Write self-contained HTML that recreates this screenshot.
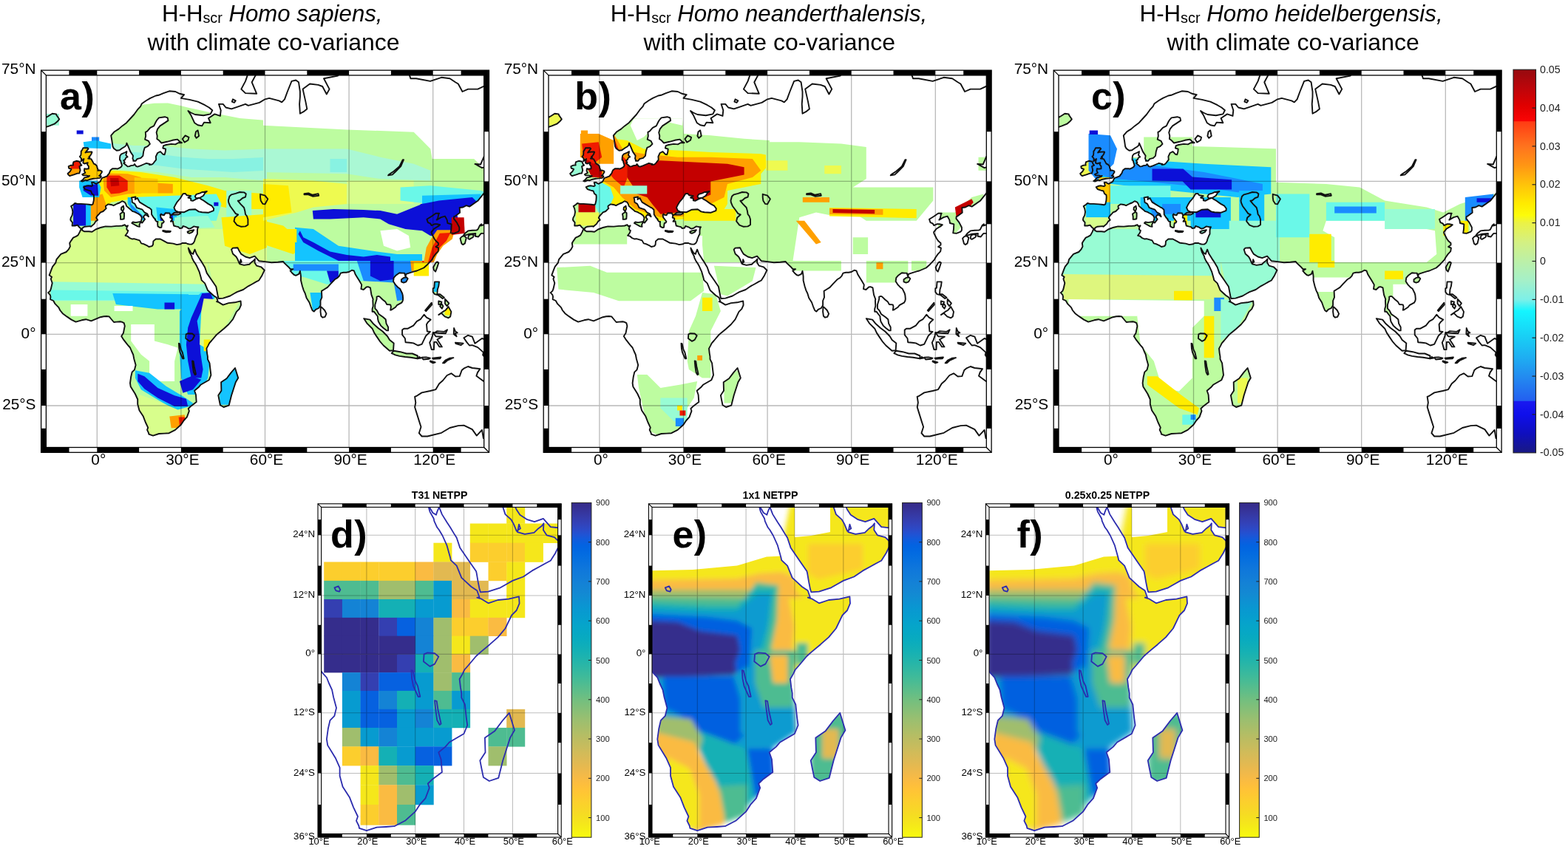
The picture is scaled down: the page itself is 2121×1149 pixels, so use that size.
<!DOCTYPE html><html><head><meta charset="utf-8"><title>Hominin habitat maps</title><style>html,body{margin:0;padding:0;background:#fff;width:2121px;height:1149px;overflow:hidden}</style></head><body><svg width="2121" height="1149" viewBox="0 0 2121 1149" style="display:block;font-family:'Liberation Sans',Arial,Helvetica,sans-serif"><defs><clipPath id="clipA"><rect x="62.4" y="101.9" width="592.3" height="503.6"/></clipPath><clipPath id="clipD"><rect x="434.6" y="686.4" width="320.1" height="442.1"/></clipPath><linearGradient id="gjet" x1="0" y1="0" x2="0" y2="1"><stop offset="0.0000" stop-color="#960a0f"/><stop offset="0.0500" stop-color="#be050a"/><stop offset="0.0950" stop-color="#e10000"/><stop offset="0.1340" stop-color="#fa0505"/><stop offset="0.1360" stop-color="#ff3c14"/><stop offset="0.2000" stop-color="#ff731e"/><stop offset="0.2500" stop-color="#ff9614"/><stop offset="0.3000" stop-color="#ffc30a"/><stop offset="0.3500" stop-color="#ffeb00"/><stop offset="0.3800" stop-color="#fcfc0a"/><stop offset="0.4000" stop-color="#ebf246"/><stop offset="0.4500" stop-color="#d4f082"/><stop offset="0.5000" stop-color="#bcf0a8"/><stop offset="0.5500" stop-color="#a5f0c8"/><stop offset="0.6000" stop-color="#7df0e8"/><stop offset="0.6300" stop-color="#14f5ff"/><stop offset="0.7000" stop-color="#19cdf5"/><stop offset="0.7500" stop-color="#1eaff2"/><stop offset="0.8000" stop-color="#238cf0"/><stop offset="0.8640" stop-color="#235ff0"/><stop offset="0.8660" stop-color="#1919f0"/><stop offset="0.9000" stop-color="#0f0feb"/><stop offset="0.9500" stop-color="#0f0fbe"/><stop offset="1.0000" stop-color="#191982"/></linearGradient><linearGradient id="gpar" x1="0" y1="0" x2="0" y2="1"><stop offset="0.0000" stop-color="#352a87"/><stop offset="0.0159" stop-color="#363093"/><stop offset="0.0317" stop-color="#3637a0"/><stop offset="0.0476" stop-color="#353dad"/><stop offset="0.0635" stop-color="#3243ba"/><stop offset="0.0794" stop-color="#2c4ac7"/><stop offset="0.0952" stop-color="#2053d4"/><stop offset="0.1111" stop-color="#0f5cdd"/><stop offset="0.1270" stop-color="#0363e1"/><stop offset="0.1429" stop-color="#0268e1"/><stop offset="0.1587" stop-color="#046de0"/><stop offset="0.1746" stop-color="#0871de"/><stop offset="0.1905" stop-color="#0d75dc"/><stop offset="0.2063" stop-color="#1079da"/><stop offset="0.2222" stop-color="#127dd8"/><stop offset="0.2381" stop-color="#1481d6"/><stop offset="0.2540" stop-color="#1485d4"/><stop offset="0.2698" stop-color="#1389d3"/><stop offset="0.2857" stop-color="#108ed2"/><stop offset="0.3016" stop-color="#0c93d2"/><stop offset="0.3175" stop-color="#0998d1"/><stop offset="0.3333" stop-color="#079ccf"/><stop offset="0.3492" stop-color="#06a0cd"/><stop offset="0.3651" stop-color="#06a4ca"/><stop offset="0.3810" stop-color="#06a7c6"/><stop offset="0.3968" stop-color="#07a9c2"/><stop offset="0.4127" stop-color="#0aacbe"/><stop offset="0.4286" stop-color="#0faeb9"/><stop offset="0.4444" stop-color="#15b1b4"/><stop offset="0.4603" stop-color="#1db3af"/><stop offset="0.4762" stop-color="#25b5a9"/><stop offset="0.4921" stop-color="#2eb7a4"/><stop offset="0.5079" stop-color="#38b99e"/><stop offset="0.5238" stop-color="#42bb98"/><stop offset="0.5397" stop-color="#4dbc92"/><stop offset="0.5556" stop-color="#59bd8c"/><stop offset="0.5714" stop-color="#65be86"/><stop offset="0.5873" stop-color="#71bf80"/><stop offset="0.6032" stop-color="#7cbf7b"/><stop offset="0.6190" stop-color="#87bf77"/><stop offset="0.6349" stop-color="#92bf73"/><stop offset="0.6508" stop-color="#9cbf6f"/><stop offset="0.6667" stop-color="#a5be6b"/><stop offset="0.6825" stop-color="#aebe67"/><stop offset="0.6984" stop-color="#b7bd64"/><stop offset="0.7143" stop-color="#c0bc60"/><stop offset="0.7302" stop-color="#c8bc5d"/><stop offset="0.7460" stop-color="#d1bb59"/><stop offset="0.7619" stop-color="#d9ba56"/><stop offset="0.7778" stop-color="#e1b952"/><stop offset="0.7937" stop-color="#e9b94e"/><stop offset="0.8095" stop-color="#f1b94a"/><stop offset="0.8254" stop-color="#f8bb44"/><stop offset="0.8413" stop-color="#fdbe3d"/><stop offset="0.8571" stop-color="#ffc337"/><stop offset="0.8730" stop-color="#fec832"/><stop offset="0.8889" stop-color="#fcce2e"/><stop offset="0.9048" stop-color="#fad32a"/><stop offset="0.9206" stop-color="#f7d826"/><stop offset="0.9365" stop-color="#f5de21"/><stop offset="0.9524" stop-color="#f5e41d"/><stop offset="0.9683" stop-color="#f5eb18"/><stop offset="0.9841" stop-color="#f6f313"/><stop offset="1.0000" stop-color="#f9fb0e"/></linearGradient><clipPath id="landA"><path d="M110.1 309.8L107.4 307.7L104.8 304.6L101.4 305.5L97.6 305.5L98 301.1L96.5 299.4L95.3 297.6L95.7 294.9L97.6 291.4L98.4 286.9L97.6 282.3L96.1 279.1L99.5 276.8L101.4 275L104.8 275.9L109.7 275.9L116.9 276.4L120.3 276.8L123.7 277.3L125.6 276.4L126.8 271.3L127.1 266.6L126.8 263.8L124.5 262.3L123 258.5L119.6 257.6L115 256.1L113.1 253.2L116.2 251.8L119.9 251.3L123.7 252.2L125.2 251.3L124.1 246.9L126.4 246.9L130.2 248.8L131.7 247.8L135.5 245.9L137.4 241.9L138.3 240.7L140.4 240.2L142.3 239.4L144.9 238.4L146.8 235.6L147.6 234.9L149.3 230.5L152.1 228.2L157.1 228.2L158.6 228.7L162 227.2L164.2 225.6L165 223.6L163.9 220.4L163.1 217.2L162 216.7L162 214.1L162.4 210.8L163.9 208.7L168.8 206.5L171.4 205.1L171.1 207L170.3 209.8L172.6 212.4L170.3 213.5L169.2 216.2L167.3 217.2L168.8 219.9L167.3 220.9L169.9 223L172.6 225.4L174.9 225.1L177.1 224.1L180.9 223.6L182 222L184.3 225.1L186.2 225.6L190.4 224.1L195.3 222L198 220.9L202.5 222L202.1 223L205.5 222.5L207 221.5L211.2 216.2L210.8 211.9L213.1 207L216.9 205.1L220.3 208.7L222.6 209.2L223.7 205.4L224.1 201.6L220.3 200.5L221.1 197.1L224.8 196L231.7 194.9L237.3 195.4L241.1 193.2L246 193.2L243 191.5L240 188.6L233.2 189.8L226 191.8L218.4 193.5L215.4 190.3L212.3 188.1L212.7 184L211.6 179.4L213.1 174.6L216.5 170.4L221.1 167.4L227.5 163.1L226.7 159.4L222.9 158.2L215 159.4L212.3 162.5L210.8 165L208.2 170.4L203.3 172.8L199.1 177.6L196.8 178.8L197.2 184L196.1 188.6L201 190.9L202.9 194.9L199.5 198.2L195.7 199.9L194.2 204.9L193.4 210.8L190.4 213.8L185.5 215.1L183.6 217.8L180.2 217.8L180.5 216.7L179.4 214.6L180 210.8L176.4 205.4L173.7 198.8L171.4 193.7L170.7 196.6L169.2 198.2L165.4 200.5L161.6 203.2L157.8 203.8L154 201L152.5 198.2L151.4 190.3L150.2 183.4L154.8 178.2L160.5 174.6L165.4 170.4L171.1 166.2L176.7 160L181.3 155L185.8 148.7L190 144.2L191.9 140.2L197.6 136.3L203.3 132.9L210.8 129.5L214.6 128.8L221.1 126.1L229 123.3L237.3 124L243 126.8L249.1 128.2L244.9 132.9L256.3 134.9L267.6 137.6L277.1 142.2L282.8 145.5L287.3 149.3L284.7 154.4L275.2 156.3L263.8 155L258.2 152.5L254.4 150L258.2 155.7L263.1 166.2L267.6 169.2L273.3 170.4L276 165.6L284.7 166.2L282 160L290.4 154.4L297.9 156.9L298.7 149.3L296 140.9L301.7 140.9L305.5 145.5L313.1 147.4L320.6 144.8L332 140.9L335.8 142.9L343.4 140.9L350.9 138.9L358.5 134.3L364.2 132.9L369.9 134.3L377.5 136.3L381.2 138.3L385 134.3L388.8 124L394.5 109.9L400.2 108.5L404 111.3L405.9 124L405.9 130.9L405.1 140.9L405.9 153.8L411.5 150.6L415.3 147.4L413.4 137.6L409.6 120.6L419.1 113.5L430.5 114.9L436.2 117L441.8 127.5L445.6 120.6L438 106.3L457 102.6L462.7 91.3L510 63.2L547.9 83.5L555.4 106.3L563 106.3L582 109.9L597.1 104.8L608.5 106.3L616 111.3L619.8 113.5L625.5 124L633.1 120.6L646.3 120.6L661.5 113.5L684.2 113.5L684.2 198.2L665.3 198.2L654.7 211.9L650.1 222.5L642.5 222L652 227.2L659.6 225.1L665.3 230.3L664.5 237.9L662.6 250.3L655.8 260L646.3 271.8L635 279.6L630.8 278.2L626.3 280.5L621.7 281L622.1 287.8L616 292.3L614.1 293.2L613.8 295.8L617.9 301.1L621.3 307.7L621.3 311.6L619.8 313.7L614.1 315.9L609.6 315.4L610.4 309.8L610.7 303.3L605.4 302L604.7 297.6L602 292.7L596.7 294.1L590.7 297.6L592.2 295.4L593.3 290L594.1 288.7L589.5 288.7L583.8 292.7L577.4 296.7L578.9 301.1L582 302.4L583.8 305.1L587.6 303.3L591 303.3L595.2 304.2L593.3 305.9L586.9 309.8L583.5 314.1L583.8 315.9L587.3 322.7L589.5 326L592.9 329L592.9 331.5L589.5 334L593.3 335.6L592.6 340.2L589.1 343.9L585.7 348.8L584.2 351.6L578.5 357.7L573.2 362.5L563.8 366.5L561.1 367.2L555.4 368.8L549.4 370.8L548.6 374.4L547.1 369.6L544.5 369.6L540.3 369.2L535.8 372.4L532.7 375.9L532 380.7L535 385.4L538.8 389.3L541.1 390.8L544.1 397L544.8 399.7L545.2 404.7L544.8 407L543.3 409.7L536.9 413.2L535 415.8L529.7 419.3L528.2 419.7L528.9 415.1L528.2 412.4L523.3 412L521.4 408.6L517.6 405.5L513.4 401.3L511.9 400.9L509.6 401.6L509.6 404.7L507.3 412.4L507.3 417.4L510 420.4L512.3 425L518.3 429.2L521.7 432.2L522.5 437.9L525.1 442.8L525.1 447.4L523.3 447.4L518.7 444L515.3 440.9L511.9 435.2L511.1 431.8L510.8 428L509.6 426.5L505.8 421.6L503.6 421.9L503.6 418.1L504.7 414.3L504.3 406.6L504.7 405.1L502.4 398.9L500.9 389.3L497.9 388.1L495.6 388.5L491.8 392L488.4 391.2L489.2 385.4L485.8 379.5L483.1 375.2L480.8 371.6L478.9 366.5L475.9 365.7L472.1 368L468.3 368.8L464.6 368.8L460.8 369.6L458.9 373.6L456.2 376.3L452.8 378.3L446.8 384.6L443 388.9L438 392L435 393.9L435.4 402.4L433.5 407L433.5 413.2L431.2 417L427.1 418.9L424.8 421.6L422.5 420L420.2 414.3L418.4 409.3L414.6 403.2L412.7 397L410.8 393.1L408.9 387.3L407 379.5L407 374L406.6 370.8L405.9 366.8L404.3 370.8L400.2 372.8L397.9 372L394.9 369.2L392.6 366.5L396.4 364.1L392.6 364.1L390.7 361.7L385 356.4L383.1 354L375.9 354.8L367.2 355.2L360.8 354.4L350.2 353.2L344.5 346.7L337.7 349.2L332 347.5L326.3 343.9L323.7 339.8L321.4 335.2L315 335.6L313.1 337.7L315 343.5L319.5 347.5L321.4 350.8L323.7 356.4L326.7 354.4L325.6 351.2L324.4 357.3L330.1 358.9L337.3 357.7L340.7 354.4L343.4 352.4L344.9 350.4L344.5 355.6L347.2 359.7L353.2 361.3L357.8 365.7L354 373.6L350.2 379.5L346.4 381.4L341.5 384.2L335.8 387.3L329 392L320.6 395.1L317.2 397L311.2 400.5L301.7 403.6L295.7 404L294.9 401.6L293.8 395.8L292.6 389.3L292.2 387.7L286.6 379.5L279.8 369.6L277.1 361.7L275.6 359.3L272.2 353.6L269.5 349.6L265.7 343.5L263.5 337.7L262 341.4L261.2 343.9L258.5 342.2L254.8 335.6L255.1 337.3L256.3 341.4L259.3 346.7L259.7 348.8L262 353.6L263.5 355.6L266.1 360.1L269.5 367.6L272.2 377.1L272.6 379.1L277.1 383.4L280.9 392.7L284.7 396.2L288.5 399.7L293 402.8L294.9 408.2L293 408.2L296 409.1L301.7 412.6L309.3 410.1L317.6 409.3L325.6 407.4L326 412.8L323.7 418.1L319.9 421.9L315 432.2L309.3 439L302.9 444.7L296 450.4L292.2 453.8L286.2 461L283.2 464.4L281.6 467.6L279.4 471.6L280.1 478.1L280.9 482.7L280.9 486.1L283.5 491.4L284.7 501.8L285.4 507.6L282.8 514.2L271.4 520.8L268.4 524.3L263.1 528.7L265 534.2L265.7 544.1L258.5 549.4L254.8 553L255.9 556.2L252.9 564.4L248.7 569L244.9 574.8L237 581.9L228.6 586.2L222.2 586.6L215 587L207 589.6L201.4 587.7L201 585.8L199.1 581.9L200.2 578.6L196.8 571.5L193.8 563.6L188.5 555.4L186.2 546.9L186.2 540.5L182.8 533L176.7 523.2L176 518.5L177.1 510.3L178.6 503.7L182 500.3L183.6 494.1L181.3 485.7L180.2 480L177.9 475L176 470.5L173 467.1L171.4 465.2L167.3 459.9L164.2 455L166.9 450.8L168 445.1L168.8 441.3L167.7 437.1L164.6 435.6L162.7 435.2L157.8 435.6L154 436L150.2 431.5L147.6 428.4L144.2 428L140.4 428.2L135.8 429.2L130.5 431.3L123.3 434.3L116.2 432.2L110.5 433.3L102.5 435.6L96.5 432.6L90.4 428.4L84.7 424.2L81.3 420L79.4 416.2L74.5 411.2L72.2 407L68.1 405.1L68.4 401.3L67.7 398.9L65 396.2L67.7 393.9L68.8 391.2L70.7 383L68.8 377.5L70 374.8L66.7 372.4L69.2 365.7L71.1 360.9L75.3 355.6L76.4 351.2L82.4 343.9L89.6 341L92.7 337.7L94.9 333.6L94.2 329L96.3 325.6L99.1 321.6L102.5 320.1L105.5 318.4L107.8 314.1L109.3 310.7L111.2 310.3L111.2 311.6L113.9 313.3L116.5 313.3L120.3 313.3L124.5 313.7L129 310.7L133.2 309L137 307.7L142.7 306.4L150.6 306.6L157.4 305.9L160.8 305.9L165.4 305.5L168.8 304.2L170.3 306.1L173 305.3L171.4 308.1L171.4 310.7L173.3 312L172.2 315.2L169.5 318.8L172.6 319.7L174.9 321.8L178.6 323.5L181.3 323.1L185.5 324.3L188.9 325.4L191.1 329.4L194.2 330.2L199.5 332.7L201.4 334L205.5 333.1L207 331.1L207.4 326.4L210.8 323.5L216.9 323.5L222.2 326.4L226.7 328.8L234.3 329.6L239.2 331.1L244.5 330.2L246.4 329L251.7 329L253.6 330L256.3 330.6L259.3 330.6L261.6 329L263.1 326.4L263.8 323.5L265.7 318.8L266.9 316.7L266.9 312L267.3 309L268.4 307.2L265.7 307.2L262.3 306.4L258.2 309L255.5 309.6L252.5 307.7L247.6 305.9L246.4 308.5L243 309L241.5 307.2L238.1 306.4L235.1 305.5L234.3 302L233.9 299.4L230.9 299.8L232.8 296.7L232.4 295.4L230.1 294.5L230.5 292.3L232 290.5L235.4 290.5L241.1 290.5L244.5 288.9L241.5 286.9L243.4 286.9L248.7 287.3L251.7 285.8L256.3 283.7L264.2 283.3L268.8 286.4L273.3 287.3L281.6 287.8L288.8 285.1L289.2 282.3L286.6 278.7L281.6 275.9L274.4 270.8L272.6 269.9L269.9 268L275.2 264.7L277.1 261.4L279.8 259L275.2 260L273.3 260L270.7 261.4L265.7 262.8L263.8 265.7L265.4 268.5L269.5 267.8L265.4 269.4L260.8 271.8L258.2 271.3L258.2 268.5L254.4 267.5L258.2 265.2L252.5 264.2L250.6 261.9L247.6 262.3L243.8 268.5L239.8 273.1L237 277.8L235.4 281L237.3 285.1L241.1 286.9L240.7 287.8L237.3 287.8L235.4 288L232.4 290.5L230.5 291.8L229.8 289.6L229.4 288.5L223.7 288.2L221.8 291.4L218.4 290.5L218 289.6L216.9 290.9L217.6 294.5L218.2 295.2L219.5 296.7L221.8 299.8L221.1 301.3L219.2 302L218.8 303.8L218.4 307.7L216.5 308.1L213.5 306.4L213.1 302.4L213.5 300L211.6 299.8L209.7 297.2L210.1 296.7L207.8 294.5L205.1 290.3L205 286.4L204.8 283.7L202.1 281.4L199.8 280.3L193.4 276.4L188.9 273.6L185.8 268L182.8 269.9L183.4 266.4L177.9 267.5L178.6 269.9L178.8 273.8L182.4 275.9L185.1 281.2L192.6 283.7L195.3 287.3L199.3 289.4L201 293.2L199.5 292L196.4 290.3L193.8 293.6L196.1 296.7L192.3 301.6L190.6 300.7L191.1 298.5L191.9 294.9L190.4 291.8L187.3 289.4L185.3 288.5L182.4 286.9L179 285.8L177.7 284.4L175.6 282.8L171.1 278.9L170.3 276.2L168.6 273.6L165.2 272.2L161.6 274.5L158.8 275.5L153.6 278.2L151.6 277.3L148.7 276.8L146.1 276.4L143 278.7L142.9 280.5L143.8 281.9L139.6 286L136 287.3L134.5 289.1L131.3 292.5L130.2 294.7L132.1 297.8L129.4 299.6L127.5 302.9L123 306.8L122 306.1L114.6 306.8L112.7 307.7L111 309.2L110.1 309.8ZM109.7 245.1L111.6 245.6L115.6 243.6L117.5 244.3L122 242.7L126.4 241.7L130.7 241.4L135 240.9L136.4 239.7L136.8 238.5L134 237.9L135.8 236.4L136.2 235.6L137.9 233L137.7 231.6L135.1 230.5L132.4 230.8L132.6 229.5L131.7 227.4L131 224.6L129 222.5L126.9 221.7L126 219.9L123.7 215.8L123.2 215.1L119.2 214.6L121.5 213.1L120.3 212.2L122 210.8L123.5 208.4L124.5 205.9L123.7 205.4L118 205.7L115.4 206.5L116.9 204.6L119.6 201.3L118.6 200.1L112.4 200.3L111.2 202.7L109.7 204.9L109.7 207.6L109.3 210.3L107.8 211.9L110.1 214.6L109.7 218.3L112.4 215.7L113.5 215.1L112.7 217.8L112.4 220.7L114.6 221.5L117.7 220.4L118.8 220.1L118 222.5L119.9 225.1L119.9 228.2L116.2 228.7L114.3 228.2L113.9 231.3L115.4 233.9L111.2 236L112.4 237.4L116.5 237.4L119.2 238.1L121.1 237.9L119.2 239.4L114.3 240.4L112 243.3L109.7 245.1ZM103.3 217.8L107.8 218.8L109 222L110.5 223.6L107.4 225.1L108.2 228.5L108.6 230.5L107.3 234.5L104.8 234.6L99.9 236.4L94.2 238.1L92.3 236.4L91.5 234.9L94.6 232.3L96.5 229L93.1 227.7L92.7 225.1L96.1 223.6L99.1 223.6L98.7 221.7L99.5 219.1L103.3 217.8ZM36.6 172.2L55.6 172.2L59.3 172.8L66.9 170.4L73.7 167.7L78.3 163.7L80.2 161.3L76.4 155.7L76 154.4L70.7 153.8L66.9 156.3L62.8 158.8L60.9 156.3L55.6 156.9L36.6 156.9ZM166.9 278.7L167.5 282.6L166.1 286L163.9 283.7L164.2 280.8L166.9 278.7ZM166.1 286.7L168 288.2L168 292.3L167.7 296.3L165.4 296.7L163.1 296.9L163.1 293.2L162.4 289.6L164.6 288L166.1 286.7ZM190.6 299.9L188.5 304.2L188.9 306.8L186.2 306.4L178.3 302L179.8 300.5L183.6 301.1L190.6 299.9ZM220.3 312L224.1 312.4L230.9 312.9L229.8 314.1L224.8 314.4L220.3 312.9L220.3 312ZM253.6 313.7L256.3 312.4L262.3 311.1L260.1 314.1L256.3 315.9L254 315L253.6 313.7ZM318 498L322.2 511.5L318.8 517.3L313.1 535L309.7 548.6L302.5 551L297.9 548.2L296.4 540.9L295.3 535L299.4 528.7L299.1 517.3L306.6 512.2L312.7 504.1L318 498ZM624.4 320.5L627.4 318.8L630.8 321.8L628.9 329.4L626.3 331.1L624.4 329.8L622.5 322.7L624.4 320.5ZM633.1 322.7L635 323.9L639.9 321L641 318L636.9 317.1L633.8 318.8L633.1 322.7ZM627 318.4L629.3 315.4L633.1 312.4L638.8 311.8L644.4 311.6L646.3 310.7L649 305.1L651.3 303.3L650.1 305.5L655.8 303.8L659.6 300.2L661.5 294.5L661.5 290L662.6 286.9L666.4 286L667.2 290L669.1 294.5L665.3 299.8L664.9 305.9L664.1 311.1L660.7 314.1L658.1 313.7L656.9 315.9L650.9 315.9L649.7 317.1L647.1 320.5L642.9 319.7L643.3 315.9L635 316.7L629.7 318.4L627 318.4ZM661.5 285.5L663 281L661.5 279.6L663.4 277.3L666.4 277.8L667.5 267.5L680.4 274.1L672.8 283.3L665.3 281L664.5 284.2L661.5 285.5ZM591.4 354.4L593.3 355.6L591.4 361.7L589.1 367.6L586.9 365.3L586.1 361.7L589.5 355.6L591.4 354.4ZM549.8 375.2L551.7 377.1L549.4 381.4L546 382.6L542.9 381.4L542.9 378.3L546 375.9L549.8 375.2ZM588 381.4L594.1 381.4L593.3 387.3L591.8 392L591.4 398.2L595.2 398.2L600.9 402.8L598.6 404L592.6 399.3L588 398.2L585.7 395.1L585.7 390.4L587.3 389.6L588 381.4ZM593.3 426.1L599 421.9L602.8 419.7L606.6 415.1L610.4 421.9L609.2 428.4L606.6 430.3L601.6 428.4L597.1 423.8L593.3 426.1ZM602 404.7L607.3 410.5L604.7 414.3L602 410.9L602 404.7ZM593.3 407.4L597.5 408.6L595.6 412.4L593.3 412L593.3 407.4ZM597.1 410.9L599.4 414.3L597.9 417.7L595.2 414.7L597.1 410.9ZM575.1 420L583.8 409.7L584.2 412.4L576.3 421.2L575.1 420ZM492.2 431.1L500.5 432.6L505.1 438.3L511.5 444L517.6 448.5L524 455L527 459.9L532.7 464.4L532 474.3L527 474.7L518.7 467.5L513.8 461.8L510 456.1L506.2 450.4L503.6 444.7L496.7 437.9L492.2 431.1ZM529.7 478.1L532.7 474.7L541.4 476.2L549.8 478.5L557.7 478.5L564.9 481.5L564.5 485.3L555.4 483.8L547.9 483L540.3 481.9L534.6 480.4L530.8 478.5L529.7 478.1Z"/></clipPath><clipPath id="landD"><path d="M327.3 637.7L322.7 633.9L318.1 628.6L312.1 630.1L305.5 630.1L306.2 622.5L303.6 619.5L301.6 616.4L302.3 611.8L305.5 605.6L306.9 597.8L305.5 589.9L302.9 584.3L308.8 580.3L312.1 577.1L318.1 578.7L326.6 578.7L339.1 579.5L345.1 580.3L351 581.1L354.3 579.5L356.2 570.6L356.9 562.5L356.2 557.6L352.3 555.1L349.7 548.4L343.7 546.8L335.8 544.3L332.5 539.2L337.8 536.7L344.4 535.8L351 537.5L353.6 535.8L351.6 528.2L355.6 528.2L362.2 531.6L364.8 529.9L371.4 526.5L374.7 519.6L376.3 517.4L380 516.5L383.2 515.2L387.9 513.5L391.1 508.6L392.5 507.3L395.4 499.8L400.4 495.8L408.9 495.8L411.6 496.7L417.5 494L421.4 491.3L422.8 487.6L420.8 482.2L419.5 476.7L417.5 475.7L417.5 471.1L418.1 465.5L420.8 461.8L429.3 458L434 455.6L433.3 458.9L432 463.6L435.9 468.3L432 470.2L430 474.8L426.7 476.7L429.3 481.3L426.7 483.1L431.3 486.7L435.9 490.8L439.9 490.4L443.8 488.5L450.4 487.6L452.4 484.9L456.3 490.4L459.6 491.3L466.9 488.5L475.4 484.9L480 483.1L487.9 484.9L487.3 486.7L493.2 485.8L495.9 484L503.1 474.8L502.4 467.4L506.4 458.9L513 455.6L518.9 461.8L522.8 462.7L524.8 456.1L525.5 449.4L518.9 447.5L520.2 441.7L526.8 439.7L538.7 437.8L548.5 438.7L555.1 434.8L563.7 434.8L558.4 431.9L553.1 426.9L541.3 428.9L528.8 432.4L515.6 435.3L510.3 429.9L505.1 425.9L505.7 418.9L503.8 410.8L506.4 402.6L512.3 395.3L520.2 390L531.4 382.6L530.1 376.1L523.5 374L509.7 376.1L505.1 381.5L502.4 385.8L497.8 395.3L489.3 399.4L482 407.7L478.1 409.8L478.7 418.9L476.8 426.9L485.3 430.9L488.6 437.8L482.7 443.6L476.1 446.5L473.5 455.1L472.1 465.5L466.9 470.7L458.3 473L455 477.6L449.1 477.6L449.8 475.7L447.8 472L448.8 465.5L442.5 456.1L437.9 444.6L434 435.8L432.6 440.7L430 443.6L423.4 447.5L416.8 452.3L410.2 453.2L403.7 448.4L401 443.6L399.1 429.9L397.1 417.9L405 408.7L414.9 402.6L423.4 395.3L433.3 387.9L443.2 377.2L451.1 368.5L459 357.4L466.2 349.6L469.5 342.8L479.4 335.8L489.3 330L502.4 324.1L509 323L520.2 318.2L534 313.4L548.5 314.6L558.4 319.4L568.9 321.8L561.7 330L581.5 333.5L601.2 338.2L617.7 346.2L627.5 351.8L635.5 358.6L630.8 367.4L614.4 370.7L594.6 368.5L584.7 364.1L578.2 359.7L584.7 369.6L593.3 387.9L601.2 393.2L611.1 395.3L615.7 386.8L630.8 387.9L626.2 377.2L640.7 367.4L653.9 371.8L655.2 358.6L650.6 343.9L660.5 343.9L667.1 351.8L680.2 355.2L693.4 350.7L713.2 343.9L719.7 347.3L732.9 343.9L746.1 340.5L759.2 332.4L769.1 330L779 332.4L792.2 335.8L798.8 339.3L805.3 332.4L811.9 314.6L821.8 290L831.7 287.5L838.3 292.5L841.6 314.6L841.6 326.5L840.2 343.9L841.6 366.3L851.4 360.8L858 355.2L854.7 338.2L848.1 308.6L864.6 296.3L884.4 298.7L894.2 302.4L904.1 320.6L910.7 308.6L897.5 283.7L930.5 277.3L940.3 257.7L1022.6 208.9L1088.5 244.2L1101.7 283.7L1114.8 283.7L1147.8 290L1174.1 281.1L1193.9 283.7L1207 292.5L1213.6 296.3L1223.5 314.6L1236.7 308.6L1259.7 308.6L1286 296.3L1325.6 296.3L1325.6 443.6L1292.6 443.6L1274.2 467.4L1266.3 485.8L1253.1 484.9L1269.6 494L1282.8 490.4L1292.6 499.3L1291.3 512.6L1288 534.1L1276.2 550.9L1259.7 571.5L1240 585.1L1232.7 582.7L1224.8 586.7L1216.9 587.5L1217.6 599.3L1207 607.1L1203.7 608.7L1203.1 613.3L1210.3 622.5L1216.2 633.9L1216.2 640.7L1213.6 644.4L1203.7 648.1L1195.8 647.4L1197.2 637.7L1197.8 626.3L1188.6 624L1187.3 616.4L1182.7 607.9L1173.4 610.2L1162.9 616.4L1165.5 612.5L1167.5 603.2L1168.8 600.9L1160.9 600.9L1151.1 607.9L1139.9 614.9L1142.5 622.5L1147.8 624.8L1151.1 629.4L1157.6 626.3L1163.6 626.3L1170.8 627.9L1167.5 630.9L1156.3 637.7L1150.4 645.2L1151.1 648.1L1157 660L1160.9 665.8L1166.9 670.9L1166.9 675.3L1160.9 679.6L1167.5 682.5L1166.2 690.4L1160.3 696.8L1154.3 705.4L1151.7 710.3L1141.8 720.8L1132.6 729.2L1116.2 736.1L1111.5 737.5L1101.7 740.3L1091.1 743.7L1089.8 749.9L1087.2 741.6L1082.6 741.6L1075.3 741L1067.4 746.5L1062.2 752.6L1060.8 760.8L1066.1 769L1072.7 775.8L1076.6 778.5L1081.9 789.3L1083.2 794L1083.9 802.7L1083.2 806.7L1080.6 811.3L1069.4 817.3L1066.1 822L1056.9 828L1054.3 828.6L1055.6 820.7L1054.3 816L1045.7 815.3L1042.4 809.3L1035.8 804L1028.6 796.6L1025.9 796L1022 797.3L1022 802.7L1018 816L1018 824.6L1022.6 830L1026.6 837.9L1037.1 845.2L1043.1 850.5L1044.4 860.4L1049 868.9L1049 876.8L1045.7 876.8L1037.8 870.9L1031.9 865.6L1025.9 855.7L1024.6 849.8L1024 843.2L1022 840.6L1015.4 831.9L1011.5 832.6L1011.5 826L1013.4 819.3L1012.8 806L1013.4 803.3L1009.5 792.6L1006.8 775.8L1001.6 773.7L997.6 774.4L991 780.5L985.1 779.2L986.4 769L980.5 758.8L975.9 751.3L971.9 745.1L968.7 736.1L963.4 734.7L956.8 738.9L950.2 740.3L943.6 740.3L937 741.6L933.8 748.5L929.1 753.3L923.2 756.7L912.7 767.6L906.1 775.1L897.5 780.5L892.3 783.9L892.9 798.6L889.6 806.7L889.6 817.3L885.7 824L878.4 827.3L874.5 831.9L870.5 829.3L866.6 819.3L863.3 810.7L856.7 800L853.4 789.3L850.1 782.5L846.8 772.4L843.5 758.8L843.5 749.2L842.9 743.7L841.6 736.8L838.9 743.7L831.7 747.1L827.7 745.8L822.5 741L818.5 736.1L825.1 732L818.5 732L815.2 727.8L805.3 718.7L802.1 714.5L789.5 715.9L774.4 716.6L763.2 715.2L744.8 713.1L734.9 701.8L723 706.1L713.2 703.2L703.3 696.8L698.7 689.7L694.7 681.8L683.5 682.5L680.2 686.1L683.5 696.1L691.4 703.2L694.7 708.9L698.7 718.7L703.9 715.2L702 709.6L700 720.1L709.9 722.9L722.4 720.8L728.3 715.2L732.9 711.7L735.5 708.2L734.9 717.3L739.5 724.3L750 727.1L757.9 734.7L751.3 748.5L744.8 758.8L738.2 762.2L729.6 767L719.7 772.4L707.9 780.5L693.4 785.9L687.5 789.3L676.9 795.3L660.5 800.7L649.9 801.3L648.6 797.3L646.6 787.2L644.7 775.8L644 773.1L634.1 758.8L622.3 741.6L617.7 727.8L615 723.6L609.1 713.8L604.5 706.8L597.9 696.1L594 686.1L591.3 692.6L590 696.8L585.4 694L578.8 682.5L579.5 685.4L581.5 692.6L586.7 701.8L587.4 705.4L591.3 713.8L594 717.3L598.6 725L604.5 738.2L609.1 754.7L609.8 758.1L617.7 765.6L624.3 781.8L630.8 787.9L637.4 794L645.3 799.3L648.6 808.7L645.3 808.7L650.6 810.3L660.5 816.3L673.6 812L688.1 810.7L702 807.3L702.6 816.7L698.7 826L692.1 832.6L683.5 850.5L673.6 862.3L662.5 872.2L650.6 882.1L644 888L633.5 900.5L628.2 906.5L625.6 912.1L621.6 919L622.9 930.2L624.3 938.2L624.3 944.2L628.9 953.5L630.8 971.5L632.2 981.5L627.5 993L607.8 1004.5L602.5 1010.6L593.3 1018.2L596.6 1027.8L597.9 1045.1L585.4 1054.2L578.8 1060.5L580.8 1066.2L575.5 1080.4L568.3 1088.3L561.7 1098.4L547.9 1110.8L533.4 1118.2L522.2 1119L509.7 1119.7L495.9 1124.2L486 1120.8L485.3 1117.5L482 1110.8L484 1105L478.1 1092.6L472.8 1078.9L463.6 1064.7L459.6 1050L459.6 1038.8L453.7 1025.7L443.2 1008.6L441.9 1000.4L443.8 986.3L446.5 974.8L452.4 968.8L455 958.1L451.1 943.5L449.1 933.6L445.1 925L441.9 917L436.6 911.1L434 907.8L426.7 898.6L421.4 890L426 882.8L428 872.9L429.3 866.3L427.4 859L422.1 856.4L418.8 855.7L410.2 856.4L403.7 857.1L397.1 849.1L392.5 843.9L386.5 843.2L380 843.5L372.1 845.2L362.8 848.8L350.3 854.1L337.8 850.5L327.9 852.4L314.1 856.4L303.6 851.1L293 843.9L283.2 836.6L277.2 829.3L273.9 822.7L265.4 814L261.4 806.7L254.2 803.3L254.8 796.6L253.5 792.6L248.9 787.9L253.5 783.9L255.5 779.2L258.8 764.9L255.5 755.4L257.5 750.6L251.9 746.5L256.2 734.7L259.4 726.4L266.7 717.3L268.7 709.6L279.2 696.8L291.7 691.9L297 686.1L300.9 678.9L299.6 670.9L303.2 665.1L308.2 658.1L314.1 655.5L319.4 652.6L323.3 645.2L326 639.2L329.2 638.4L329.2 640.7L333.9 643.7L338.5 643.7L345.1 643.7L352.3 644.4L360.2 639.2L367.4 636.2L374 633.9L383.9 631.6L397.7 632L409.6 630.9L415.5 630.9L423.4 630.1L429.3 627.9L432 631.3L436.6 629.7L434 634.7L434 639.2L437.2 641.4L435.3 647L430.7 653.3L435.9 654.8L439.9 658.5L446.5 661.4L451.1 660.7L458.3 662.9L464.2 664.7L468.2 671.7L473.5 673.1L482.7 677.5L486 679.6L493.2 678.2L495.9 674.6L496.5 666.6L502.4 661.4L513 661.4L522.2 666.6L530.1 670.6L543.3 672L551.8 674.6L561 673.1L564.3 670.9L573.6 670.9L576.8 672.8L581.5 673.8L586.7 673.8L590.7 670.9L593.3 666.6L594.6 661.4L597.9 653.3L599.9 649.6L599.9 641.4L600.6 636.2L602.5 633.2L597.9 633.2L592 631.6L584.7 636.2L580.1 637.3L574.9 633.9L566.3 630.9L564.3 635.4L558.4 636.2L555.8 633.2L549.8 631.6L544.6 630.1L543.3 624L542.6 619.5L537.3 620.2L540.6 614.9L540 612.5L536 611L536.7 607.1L539.3 604L545.2 604L555.1 604L561 601.3L555.8 597.8L559.1 597.8L568.3 598.5L573.6 595.8L581.5 592.2L595.3 591.5L603.2 597L611.1 598.5L625.6 599.3L638.1 594.6L638.7 589.9L634.1 583.5L625.6 578.7L613.1 569.8L609.8 568.2L605.2 564.9L614.4 559.2L617.7 553.4L622.3 549.3L614.4 550.9L611.1 550.9L606.5 553.4L597.9 555.9L594.6 560.9L597.3 565.8L604.5 564.5L597.3 567.4L589.4 571.5L584.7 570.6L584.7 565.8L578.2 564.1L584.7 560L574.9 558.4L571.6 554.3L566.3 555.1L559.7 565.8L552.8 573.9L547.9 581.9L545.2 587.5L548.5 594.6L555.1 597.8L554.5 599.3L548.5 599.3L545.2 599.7L540 604L536.7 606.3L535.4 602.5L534.7 600.5L524.8 600.1L521.5 605.6L515.6 604L514.9 602.5L513 604.8L514.3 611L515.3 612.2L517.6 614.9L521.5 620.2L520.2 622.9L516.9 624L516.3 627.1L515.6 633.9L512.3 634.7L507 631.6L506.4 624.8L507 620.6L503.8 620.2L500.5 615.6L501.1 614.9L497.2 611L492.6 603.6L492.2 597L491.9 592.2L487.3 588.3L483.3 586.3L472.1 579.5L464.2 574.7L459 564.9L453.7 568.2L454.7 562.1L445.1 564.1L446.5 568.2L446.8 575.1L453 578.7L457.7 587.9L470.8 592.2L475.4 598.5L482.4 602.1L485.3 608.7L482.7 606.7L477.4 603.6L472.8 609.5L476.8 614.9L470.2 623.3L467.2 621.8L468.2 617.9L469.5 611.8L466.9 606.3L461.6 602.1L458 600.7L453 597.8L447.1 595.8L444.8 593.4L441.2 590.7L433.3 583.9L432 579.1L429 574.7L423.1 572.3L416.8 576.3L411.9 577.9L403 582.7L399.4 581.1L394.4 580.3L389.8 579.5L384.6 583.5L384.2 586.7L385.9 589.1L378.6 596.2L372.4 598.5L369.7 601.7L364.1 607.5L362.2 611.4L365.5 616.8L360.9 619.8L357.6 625.6L349.7 632.4L348 631.3L335.2 632.4L331.9 633.9L328.9 636.5L327.3 637.7ZM688.8 964.8L696 988.3L690.1 998.4L680.2 1029.2L674.3 1052.8L661.8 1057L653.9 1052.1L651.3 1039.5L649.3 1029.2L656.5 1018.2L655.9 998.4L669 989.6L679.6 975.5L688.8 964.8Z"/></clipPath><filter id="blurE" x="-5%" y="-5%" width="110%" height="110%"><feGaussianBlur stdDeviation="3"/></filter><filter id="blurF" x="-5%" y="-5%" width="110%" height="110%"><feGaussianBlur stdDeviation="4"/></filter></defs><rect width="2121" height="1149" fill="#fff"/><text x="219" y="29" font-size="31.5" textLength="298.5" lengthAdjust="spacingAndGlyphs">H-H<tspan font-size="20" dy="2">scr</tspan><tspan dy="-2" font-style="italic"> Homo sapiens,</tspan></text><text x="199.5" y="68.3" font-size="31.5" textLength="341" lengthAdjust="spacingAndGlyphs">with climate co-variance</text><text x="825.7" y="29" font-size="31.5" textLength="428.5" lengthAdjust="spacingAndGlyphs">H-H<tspan font-size="20" dy="2">scr</tspan><tspan dy="-2" font-style="italic"> Homo neanderthalensis,</tspan></text><text x="870.4" y="68.3" font-size="31.5" textLength="340.6" lengthAdjust="spacingAndGlyphs">with climate co-variance</text><text x="1541.6" y="29" font-size="31.5" textLength="410" lengthAdjust="spacingAndGlyphs">H-H<tspan font-size="20" dy="2">scr</tspan><tspan dy="-2" font-style="italic"> Homo heidelbergensis,</tspan></text><text x="1578.6" y="68.3" font-size="31.5" textLength="341.1" lengthAdjust="spacingAndGlyphs">with climate co-variance</text><g transform="translate(0 0)"><g clip-path="url(#clipA)"><g clip-path="url(#landA)"><path d="M110.1 309.8L107.4 307.7L104.8 304.6L101.4 305.5L97.6 305.5L98 301.1L96.5 299.4L95.3 297.6L95.7 294.9L97.6 291.4L98.4 286.9L97.6 282.3L96.1 279.1L99.5 276.8L101.4 275L104.8 275.9L109.7 275.9L116.9 276.4L120.3 276.8L123.7 277.3L125.6 276.4L126.8 271.3L127.1 266.6L126.8 263.8L124.5 262.3L123 258.5L119.6 257.6L115 256.1L113.1 253.2L116.2 251.8L119.9 251.3L123.7 252.2L125.2 251.3L124.1 246.9L126.4 246.9L130.2 248.8L131.7 247.8L135.5 245.9L137.4 241.9L138.3 240.7L140.4 240.2L142.3 239.4L144.9 238.4L146.8 235.6L147.6 234.9L149.3 230.5L152.1 228.2L157.1 228.2L158.6 228.7L162 227.2L164.2 225.6L165 223.6L163.9 220.4L163.1 217.2L162 216.7L162 214.1L162.4 210.8L163.9 208.7L168.8 206.5L171.4 205.1L171.1 207L170.3 209.8L172.6 212.4L170.3 213.5L169.2 216.2L167.3 217.2L168.8 219.9L167.3 220.9L169.9 223L172.6 225.4L174.9 225.1L177.1 224.1L180.9 223.6L182 222L184.3 225.1L186.2 225.6L190.4 224.1L195.3 222L198 220.9L202.5 222L202.1 223L205.5 222.5L207 221.5L211.2 216.2L210.8 211.9L213.1 207L216.9 205.1L220.3 208.7L222.6 209.2L223.7 205.4L224.1 201.6L220.3 200.5L221.1 197.1L224.8 196L231.7 194.9L237.3 195.4L241.1 193.2L246 193.2L243 191.5L240 188.6L233.2 189.8L226 191.8L218.4 193.5L215.4 190.3L212.3 188.1L212.7 184L211.6 179.4L213.1 174.6L216.5 170.4L221.1 167.4L227.5 163.1L226.7 159.4L222.9 158.2L215 159.4L212.3 162.5L210.8 165L208.2 170.4L203.3 172.8L199.1 177.6L196.8 178.8L197.2 184L196.1 188.6L201 190.9L202.9 194.9L199.5 198.2L195.7 199.9L194.2 204.9L193.4 210.8L190.4 213.8L185.5 215.1L183.6 217.8L180.2 217.8L180.5 216.7L179.4 214.6L180 210.8L176.4 205.4L173.7 198.8L171.4 193.7L170.7 196.6L169.2 198.2L165.4 200.5L161.6 203.2L157.8 203.8L154 201L152.5 198.2L151.4 190.3L150.2 183.4L154.8 178.2L160.5 174.6L165.4 170.4L171.1 166.2L176.7 160L181.3 155L185.8 148.7L190 144.2L191.9 140.2L197.6 136.3L203.3 132.9L210.8 129.5L214.6 128.8L221.1 126.1L229 123.3L237.3 124L243 126.8L249.1 128.2L244.9 132.9L256.3 134.9L267.6 137.6L277.1 142.2L282.8 145.5L287.3 149.3L284.7 154.4L275.2 156.3L263.8 155L258.2 152.5L254.4 150L258.2 155.7L263.1 166.2L267.6 169.2L273.3 170.4L276 165.6L284.7 166.2L282 160L290.4 154.4L297.9 156.9L298.7 149.3L296 140.9L301.7 140.9L305.5 145.5L313.1 147.4L320.6 144.8L332 140.9L335.8 142.9L343.4 140.9L350.9 138.9L358.5 134.3L364.2 132.9L369.9 134.3L377.5 136.3L381.2 138.3L385 134.3L388.8 124L394.5 109.9L400.2 108.5L404 111.3L405.9 124L405.9 130.9L405.1 140.9L405.9 153.8L411.5 150.6L415.3 147.4L413.4 137.6L409.6 120.6L419.1 113.5L430.5 114.9L436.2 117L441.8 127.5L445.6 120.6L438 106.3L457 102.6L462.7 91.3L510 63.2L547.9 83.5L555.4 106.3L563 106.3L582 109.9L597.1 104.8L608.5 106.3L616 111.3L619.8 113.5L625.5 124L633.1 120.6L646.3 120.6L661.5 113.5L684.2 113.5L684.2 198.2L665.3 198.2L654.7 211.9L650.1 222.5L642.5 222L652 227.2L659.6 225.1L665.3 230.3L664.5 237.9L662.6 250.3L655.8 260L646.3 271.8L635 279.6L630.8 278.2L626.3 280.5L621.7 281L622.1 287.8L616 292.3L614.1 293.2L613.8 295.8L617.9 301.1L621.3 307.7L621.3 311.6L619.8 313.7L614.1 315.9L609.6 315.4L610.4 309.8L610.7 303.3L605.4 302L604.7 297.6L602 292.7L596.7 294.1L590.7 297.6L592.2 295.4L593.3 290L594.1 288.7L589.5 288.7L583.8 292.7L577.4 296.7L578.9 301.1L582 302.4L583.8 305.1L587.6 303.3L591 303.3L595.2 304.2L593.3 305.9L586.9 309.8L583.5 314.1L583.8 315.9L587.3 322.7L589.5 326L592.9 329L592.9 331.5L589.5 334L593.3 335.6L592.6 340.2L589.1 343.9L585.7 348.8L584.2 351.6L578.5 357.7L573.2 362.5L563.8 366.5L561.1 367.2L555.4 368.8L549.4 370.8L548.6 374.4L547.1 369.6L544.5 369.6L540.3 369.2L535.8 372.4L532.7 375.9L532 380.7L535 385.4L538.8 389.3L541.1 390.8L544.1 397L544.8 399.7L545.2 404.7L544.8 407L543.3 409.7L536.9 413.2L535 415.8L529.7 419.3L528.2 419.7L528.9 415.1L528.2 412.4L523.3 412L521.4 408.6L517.6 405.5L513.4 401.3L511.9 400.9L509.6 401.6L509.6 404.7L507.3 412.4L507.3 417.4L510 420.4L512.3 425L518.3 429.2L521.7 432.2L522.5 437.9L525.1 442.8L525.1 447.4L523.3 447.4L518.7 444L515.3 440.9L511.9 435.2L511.1 431.8L510.8 428L509.6 426.5L505.8 421.6L503.6 421.9L503.6 418.1L504.7 414.3L504.3 406.6L504.7 405.1L502.4 398.9L500.9 389.3L497.9 388.1L495.6 388.5L491.8 392L488.4 391.2L489.2 385.4L485.8 379.5L483.1 375.2L480.8 371.6L478.9 366.5L475.9 365.7L472.1 368L468.3 368.8L464.6 368.8L460.8 369.6L458.9 373.6L456.2 376.3L452.8 378.3L446.8 384.6L443 388.9L438 392L435 393.9L435.4 402.4L433.5 407L433.5 413.2L431.2 417L427.1 418.9L424.8 421.6L422.5 420L420.2 414.3L418.4 409.3L414.6 403.2L412.7 397L410.8 393.1L408.9 387.3L407 379.5L407 374L406.6 370.8L405.9 366.8L404.3 370.8L400.2 372.8L397.9 372L394.9 369.2L392.6 366.5L396.4 364.1L392.6 364.1L390.7 361.7L385 356.4L383.1 354L375.9 354.8L367.2 355.2L360.8 354.4L350.2 353.2L344.5 346.7L337.7 349.2L332 347.5L326.3 343.9L323.7 339.8L321.4 335.2L315 335.6L313.1 337.7L315 343.5L319.5 347.5L321.4 350.8L323.7 356.4L326.7 354.4L325.6 351.2L324.4 357.3L330.1 358.9L337.3 357.7L340.7 354.4L343.4 352.4L344.9 350.4L344.5 355.6L347.2 359.7L353.2 361.3L357.8 365.7L354 373.6L350.2 379.5L346.4 381.4L341.5 384.2L335.8 387.3L329 392L320.6 395.1L317.2 397L311.2 400.5L301.7 403.6L295.7 404L294.9 401.6L293.8 395.8L292.6 389.3L292.2 387.7L286.6 379.5L279.8 369.6L277.1 361.7L275.6 359.3L272.2 353.6L269.5 349.6L265.7 343.5L263.5 337.7L262 341.4L261.2 343.9L258.5 342.2L254.8 335.6L255.1 337.3L256.3 341.4L259.3 346.7L259.7 348.8L262 353.6L263.5 355.6L266.1 360.1L269.5 367.6L272.2 377.1L272.6 379.1L277.1 383.4L280.9 392.7L284.7 396.2L288.5 399.7L293 402.8L294.9 408.2L293 408.2L296 409.1L301.7 412.6L309.3 410.1L317.6 409.3L325.6 407.4L326 412.8L323.7 418.1L319.9 421.9L315 432.2L309.3 439L302.9 444.7L296 450.4L292.2 453.8L286.2 461L283.2 464.4L281.6 467.6L279.4 471.6L280.1 478.1L280.9 482.7L280.9 486.1L283.5 491.4L284.7 501.8L285.4 507.6L282.8 514.2L271.4 520.8L268.4 524.3L263.1 528.7L265 534.2L265.7 544.1L258.5 549.4L254.8 553L255.9 556.2L252.9 564.4L248.7 569L244.9 574.8L237 581.9L228.6 586.2L222.2 586.6L215 587L207 589.6L201.4 587.7L201 585.8L199.1 581.9L200.2 578.6L196.8 571.5L193.8 563.6L188.5 555.4L186.2 546.9L186.2 540.5L182.8 533L176.7 523.2L176 518.5L177.1 510.3L178.6 503.7L182 500.3L183.6 494.1L181.3 485.7L180.2 480L177.9 475L176 470.5L173 467.1L171.4 465.2L167.3 459.9L164.2 455L166.9 450.8L168 445.1L168.8 441.3L167.7 437.1L164.6 435.6L162.7 435.2L157.8 435.6L154 436L150.2 431.5L147.6 428.4L144.2 428L140.4 428.2L135.8 429.2L130.5 431.3L123.3 434.3L116.2 432.2L110.5 433.3L102.5 435.6L96.5 432.6L90.4 428.4L84.7 424.2L81.3 420L79.4 416.2L74.5 411.2L72.2 407L68.1 405.1L68.4 401.3L67.7 398.9L65 396.2L67.7 393.9L68.8 391.2L70.7 383L68.8 377.5L70 374.8L66.7 372.4L69.2 365.7L71.1 360.9L75.3 355.6L76.4 351.2L82.4 343.9L89.6 341L92.7 337.7L94.9 333.6L94.2 329L96.3 325.6L99.1 321.6L102.5 320.1L105.5 318.4L107.8 314.1L109.3 310.7L111.2 310.3L111.2 311.6L113.9 313.3L116.5 313.3L120.3 313.3L124.5 313.7L129 310.7L133.2 309L137 307.7L142.7 306.4L150.6 306.6L157.4 305.9L160.8 305.9L165.4 305.5L168.8 304.2L170.3 306.1L173 305.3L171.4 308.1L171.4 310.7L173.3 312L172.2 315.2L169.5 318.8L172.6 319.7L174.9 321.8L178.6 323.5L181.3 323.1L185.5 324.3L188.9 325.4L191.1 329.4L194.2 330.2L199.5 332.7L201.4 334L205.5 333.1L207 331.1L207.4 326.4L210.8 323.5L216.9 323.5L222.2 326.4L226.7 328.8L234.3 329.6L239.2 331.1L244.5 330.2L246.4 329L251.7 329L253.6 330L256.3 330.6L259.3 330.6L261.6 329L263.1 326.4L263.8 323.5L265.7 318.8L266.9 316.7L266.9 312L267.3 309L268.4 307.2L265.7 307.2L262.3 306.4L258.2 309L255.5 309.6L252.5 307.7L247.6 305.9L246.4 308.5L243 309L241.5 307.2L238.1 306.4L235.1 305.5L234.3 302L233.9 299.4L230.9 299.8L232.8 296.7L232.4 295.4L230.1 294.5L230.5 292.3L232 290.5L235.4 290.5L241.1 290.5L244.5 288.9L241.5 286.9L243.4 286.9L248.7 287.3L251.7 285.8L256.3 283.7L264.2 283.3L268.8 286.4L273.3 287.3L281.6 287.8L288.8 285.1L289.2 282.3L286.6 278.7L281.6 275.9L274.4 270.8L272.6 269.9L269.9 268L275.2 264.7L277.1 261.4L279.8 259L275.2 260L273.3 260L270.7 261.4L265.7 262.8L263.8 265.7L265.4 268.5L269.5 267.8L265.4 269.4L260.8 271.8L258.2 271.3L258.2 268.5L254.4 267.5L258.2 265.2L252.5 264.2L250.6 261.9L247.6 262.3L243.8 268.5L239.8 273.1L237 277.8L235.4 281L237.3 285.1L241.1 286.9L240.7 287.8L237.3 287.8L235.4 288L232.4 290.5L230.5 291.8L229.8 289.6L229.4 288.5L223.7 288.2L221.8 291.4L218.4 290.5L218 289.6L216.9 290.9L217.6 294.5L218.2 295.2L219.5 296.7L221.8 299.8L221.1 301.3L219.2 302L218.8 303.8L218.4 307.7L216.5 308.1L213.5 306.4L213.1 302.4L213.5 300L211.6 299.8L209.7 297.2L210.1 296.7L207.8 294.5L205.1 290.3L205 286.4L204.8 283.7L202.1 281.4L199.8 280.3L193.4 276.4L188.9 273.6L185.8 268L182.8 269.9L183.4 266.4L177.9 267.5L178.6 269.9L178.8 273.8L182.4 275.9L185.1 281.2L192.6 283.7L195.3 287.3L199.3 289.4L201 293.2L199.5 292L196.4 290.3L193.8 293.6L196.1 296.7L192.3 301.6L190.6 300.7L191.1 298.5L191.9 294.9L190.4 291.8L187.3 289.4L185.3 288.5L182.4 286.9L179 285.8L177.7 284.4L175.6 282.8L171.1 278.9L170.3 276.2L168.6 273.6L165.2 272.2L161.6 274.5L158.8 275.5L153.6 278.2L151.6 277.3L148.7 276.8L146.1 276.4L143 278.7L142.9 280.5L143.8 281.9L139.6 286L136 287.3L134.5 289.1L131.3 292.5L130.2 294.7L132.1 297.8L129.4 299.6L127.5 302.9L123 306.8L122 306.1L114.6 306.8L112.7 307.7L111 309.2L110.1 309.8ZM109.7 245.1L111.6 245.6L115.6 243.6L117.5 244.3L122 242.7L126.4 241.7L130.7 241.4L135 240.9L136.4 239.7L136.8 238.5L134 237.9L135.8 236.4L136.2 235.6L137.9 233L137.7 231.6L135.1 230.5L132.4 230.8L132.6 229.5L131.7 227.4L131 224.6L129 222.5L126.9 221.7L126 219.9L123.7 215.8L123.2 215.1L119.2 214.6L121.5 213.1L120.3 212.2L122 210.8L123.5 208.4L124.5 205.9L123.7 205.4L118 205.7L115.4 206.5L116.9 204.6L119.6 201.3L118.6 200.1L112.4 200.3L111.2 202.7L109.7 204.9L109.7 207.6L109.3 210.3L107.8 211.9L110.1 214.6L109.7 218.3L112.4 215.7L113.5 215.1L112.7 217.8L112.4 220.7L114.6 221.5L117.7 220.4L118.8 220.1L118 222.5L119.9 225.1L119.9 228.2L116.2 228.7L114.3 228.2L113.9 231.3L115.4 233.9L111.2 236L112.4 237.4L116.5 237.4L119.2 238.1L121.1 237.9L119.2 239.4L114.3 240.4L112 243.3L109.7 245.1ZM103.3 217.8L107.8 218.8L109 222L110.5 223.6L107.4 225.1L108.2 228.5L108.6 230.5L107.3 234.5L104.8 234.6L99.9 236.4L94.2 238.1L92.3 236.4L91.5 234.9L94.6 232.3L96.5 229L93.1 227.7L92.7 225.1L96.1 223.6L99.1 223.6L98.7 221.7L99.5 219.1L103.3 217.8ZM36.6 172.2L55.6 172.2L59.3 172.8L66.9 170.4L73.7 167.7L78.3 163.7L80.2 161.3L76.4 155.7L76 154.4L70.7 153.8L66.9 156.3L62.8 158.8L60.9 156.3L55.6 156.9L36.6 156.9ZM166.9 278.7L167.5 282.6L166.1 286L163.9 283.7L164.2 280.8L166.9 278.7ZM166.1 286.7L168 288.2L168 292.3L167.7 296.3L165.4 296.7L163.1 296.9L163.1 293.2L162.4 289.6L164.6 288L166.1 286.7ZM190.6 299.9L188.5 304.2L188.9 306.8L186.2 306.4L178.3 302L179.8 300.5L183.6 301.1L190.6 299.9ZM220.3 312L224.1 312.4L230.9 312.9L229.8 314.1L224.8 314.4L220.3 312.9L220.3 312ZM253.6 313.7L256.3 312.4L262.3 311.1L260.1 314.1L256.3 315.9L254 315L253.6 313.7ZM318 498L322.2 511.5L318.8 517.3L313.1 535L309.7 548.6L302.5 551L297.9 548.2L296.4 540.9L295.3 535L299.4 528.7L299.1 517.3L306.6 512.2L312.7 504.1L318 498ZM624.4 320.5L627.4 318.8L630.8 321.8L628.9 329.4L626.3 331.1L624.4 329.8L622.5 322.7L624.4 320.5ZM633.1 322.7L635 323.9L639.9 321L641 318L636.9 317.1L633.8 318.8L633.1 322.7ZM627 318.4L629.3 315.4L633.1 312.4L638.8 311.8L644.4 311.6L646.3 310.7L649 305.1L651.3 303.3L650.1 305.5L655.8 303.8L659.6 300.2L661.5 294.5L661.5 290L662.6 286.9L666.4 286L667.2 290L669.1 294.5L665.3 299.8L664.9 305.9L664.1 311.1L660.7 314.1L658.1 313.7L656.9 315.9L650.9 315.9L649.7 317.1L647.1 320.5L642.9 319.7L643.3 315.9L635 316.7L629.7 318.4L627 318.4ZM661.5 285.5L663 281L661.5 279.6L663.4 277.3L666.4 277.8L667.5 267.5L680.4 274.1L672.8 283.3L665.3 281L664.5 284.2L661.5 285.5ZM591.4 354.4L593.3 355.6L591.4 361.7L589.1 367.6L586.9 365.3L586.1 361.7L589.5 355.6L591.4 354.4ZM549.8 375.2L551.7 377.1L549.4 381.4L546 382.6L542.9 381.4L542.9 378.3L546 375.9L549.8 375.2ZM588 381.4L594.1 381.4L593.3 387.3L591.8 392L591.4 398.2L595.2 398.2L600.9 402.8L598.6 404L592.6 399.3L588 398.2L585.7 395.1L585.7 390.4L587.3 389.6L588 381.4ZM593.3 426.1L599 421.9L602.8 419.7L606.6 415.1L610.4 421.9L609.2 428.4L606.6 430.3L601.6 428.4L597.1 423.8L593.3 426.1ZM602 404.7L607.3 410.5L604.7 414.3L602 410.9L602 404.7ZM593.3 407.4L597.5 408.6L595.6 412.4L593.3 412L593.3 407.4ZM597.1 410.9L599.4 414.3L597.9 417.7L595.2 414.7L597.1 410.9ZM575.1 420L583.8 409.7L584.2 412.4L576.3 421.2L575.1 420ZM492.2 431.1L500.5 432.6L505.1 438.3L511.5 444L517.6 448.5L524 455L527 459.9L532.7 464.4L532 474.3L527 474.7L518.7 467.5L513.8 461.8L510 456.1L506.2 450.4L503.6 444.7L496.7 437.9L492.2 431.1ZM529.7 478.1L532.7 474.7L541.4 476.2L549.8 478.5L557.7 478.5L564.9 481.5L564.5 485.3L555.4 483.8L547.9 483L540.3 481.9L534.6 480.4L530.8 478.5L529.7 478.1Z" fill="#bdfca0"/><path d="M122.9 95L361 95L361 162.9L324.4 160L304 156.1L281.3 151.6L258.7 146.6L245.1 143.2L227 139.4L208.9 139.8L190.8 141.9L180.6 144.8L172.7 154.3L161.4 167.4L152.3 182.1L122.9 182.1Z" fill="#ffffff"/><path d="M55 310L361 310L361 355.1L55 355.1Z" fill="#d8fe8c"/><path d="M129.7 190.1L156.9 194.6L181.8 196.9L213.4 196.9L258.7 201.4L304 203.6L361 201.4L361 244.4L326.6 242.1L304 239.9L258.7 239.9L213.4 233.1L181.8 230.8L150.1 228.5L132 217.2Z" fill="#aaf8d4"/><path d="M161.4 208.2L181.8 205.9L213.4 208.2L247.4 212.7L281.3 215L315.3 215L361 212.7L361 230.8L315.3 233.1L281.3 230.8L247.4 228.5L213.4 224L181.8 221.8L161.4 219.5Z" fill="#88f2e2"/><path d="M129.7 230.8L156.9 230.8L190.8 233.1L236.1 239.9L281.3 251.2L304 258L361 262.5L361 282.9L315.3 282.9L281.3 276.1L240.6 271.6L213.4 269.3L190.8 267L150.1 273.8L129.7 298.7Z" fill="#ffec00"/><path d="M138.7 234.2L172.7 235.3L190.8 239.9L190.8 261.4L172.7 262.5L150.1 267L141 258Z" fill="#ffa000"/><path d="M181.8 239.9L213.4 242.1L213.4 261.4L181.8 261.4Z" fill="#ffc800"/><path d="M213.4 247.8L233.8 248.9L233.8 261.4L213.4 261.4Z" fill="#ffa000"/><path d="M144.4 237.6L161.4 237.6L172.7 244.4L172.7 258L161.4 261.4L150.1 262.5L144.4 253.4Z" fill="#f01a00"/><path d="M148.9 241L160.3 241L161.4 251.2L150.1 252.3Z" fill="#c40000"/><path d="M109.3 201.4L129.7 201.4L138.7 221.8L141 242.1L122.9 246.7L109.3 239.9L111.6 221.8Z" fill="#ffc800"/><path d="M89 215L112.7 215L112.7 239.9L89 239.9Z" fill="#ffa000"/><path d="M95.7 218.4L110.5 218.4L110.5 228.5L95.7 228.5Z" fill="#f01a00"/><path d="M100.3 273.8L122.9 273.8L122.9 305.5L100.3 305.5Z" fill="#14c4ff"/><path d="M99.1 276.1L116.1 276.1L116.1 305.5L99.1 305.5Z" fill="#0c10d8"/><path d="M122.9 267L138.7 262.5L143.3 276.1L136.5 298.7L122.9 298.7Z" fill="#ffa000"/><path d="M112.7 251.2L132 248.9L133.1 264.8L122.9 264.8L112.7 258Z" fill="#0c10d8"/><path d="M172.7 267L184 267L202.1 291.9L199.9 303.2L181.8 289.7L172.7 276.1Z" fill="#14c4ff"/><path d="M175 271.6L181.8 271.6L195.3 291.9L190.8 294.2L177.2 280.6Z" fill="#1a8cff"/><path d="M177.2 267L236.1 264.8L292.7 262.5L299.5 276.1L292.7 298.7L236.1 298.7L199.9 298.7L177.2 276.1Z" fill="#6af8e8"/><path d="M211.2 280.6L236.1 282.9L240.6 298.7L213.4 298.7Z" fill="#14c4ff"/><path d="M216.8 289.7L233.8 289.7L233.8 298.7L216.8 298.7Z" fill="#0c10d8"/><path d="M262.1 277.2L270 277.2L270 282.9L262.1 282.9Z" fill="#0c10d8"/><path d="M289.3 273.8L295.4 273.8L295.4 278.8L289.3 278.8Z" fill="#0c10d8"/><path d="M236.1 294.2L281.3 291.9L290.4 307.8L236.1 310Z" fill="#98fcd4"/><path d="M306.2 258L340.2 258L340.2 310L306.2 310Z" fill="#98fcd4"/><path d="M299.5 294.2L361 289.7L361 334.9L337.9 344L304 332.7Z" fill="#ffec00"/><path d="M356 298.7L383.2 305.5L401.3 321.3L408.1 334.9L396.7 344L369.6 334.9L356 330.4Z" fill="#ffec00"/><path d="M356 95L662 95L662 221.8L648 221.8L641.2 215L584.6 215L582.3 201.4L571 190.1L559.7 178.7L469.2 175.4L356 169.7Z" fill="#ffffff"/><path d="M356 201.4L469.2 201.4L514.4 212.7L559.7 221.8L582.3 230.8L582.3 244.4L514.4 242.1L469.2 235.3L356 233.1Z" fill="#aaf8d4"/><path d="M446.5 215L469.2 215L469.2 233.1L446.5 233.1Z" fill="#88f2e2"/><path d="M356 242.1L423.9 244.4L469.2 248.9L469.2 276.1L423.9 280.6L401.3 287.4L356 298.7Z" fill="#eefa50"/><path d="M356 248.9L390 251.2L394.5 287.4L356 294.2Z" fill="#ffec00"/><path d="M469.2 244.4L559.7 244.4L559.7 276.1L469.2 276.1Z" fill="#d8fe8c"/><path d="M541.6 253.4L582.3 251.2L650.3 258L662 262.5L662 276.1L582.3 276.1L541.6 271.6Z" fill="#6af8e8"/><path d="M571 264.8L650.3 262.5L650.3 280.6L571 280.6Z" fill="#14c4ff"/><path d="M422.8 285.1L451.1 282.9L491.8 284L514.4 285.1L537.1 289.7L571 276.1L593.7 271.6L638.9 267L648 276.1L627.6 287.4L616.3 298.7L611.8 312.3L605 321.3L582.3 319.1L571 312.3L548.4 310L525.8 303.2L514.4 296.4L491.8 294.2L446.5 296.4L423.9 296.4Z" fill="#0c10d8"/><path d="M514.4 312.3L537.1 310L552.9 319.1L555.2 334.9L537.1 339.5L519 332.7Z" fill="#ffffff"/><path d="M399 307.8L423.9 310L457.9 332.7L503.1 339.5L537.1 344L571 344L571 355.1L399 355.1Z" fill="#14c4ff"/><path d="M405.8 312.3L410.3 321.3L423.9 328.1L446.5 340.6L469.2 345.1L491.8 347.4L509.9 345.1L528 347.4L528 355.1L491.8 355.1L457.9 353L430.7 339.5L410.3 328.1L403.5 316.8Z" fill="#0c10d8"/><path d="M369.6 310L401.3 310L401.3 328.1L369.6 328.1Z" fill="#ffec00"/><path d="M616.3 296.4L629.9 291.9L632.1 310L616.3 321.3L600.5 334.9L591.4 346.2L586.9 355.1L573.3 355.1L580.1 339.5L591.4 328.1L605 316.8L611.8 307.8Z" fill="#ffa000"/><path d="M611.8 299.8L626.5 297.6L626.5 312.3L612.9 318Z" fill="#c40000"/><path d="M55 353L281.3 353L281.3 387L55 387Z" fill="#d8fe8c"/><path d="M68.6 381.3L281.3 384.7L292.7 398.3L281.3 407.3L68.6 407.3Z" fill="#98fcd4"/><path d="M68.6 392.6L281.3 394.9L281.3 406.2L68.6 406.2Z" fill="#6af8e8"/><path d="M152.3 397.1L270 398.3L270 418.6L213.4 418.6L156.9 411.9Z" fill="#14c4ff"/><path d="M222.5 409.6L236.1 409.6L236.1 418.6L222.5 418.6Z" fill="#0c10d8"/><path d="M95.7 411.9L118.4 411.9L118.4 427.7L95.7 427.7Z" fill="#ffffff"/><path d="M154.6 414.1L179.5 414.1L179.5 420.9L154.6 420.9Z" fill="#ffffff"/><path d="M177.2 439L208.9 439L208.9 461.6L227 466.2L240.6 470.7L236.1 488.8L236.1 516L213.4 516L202.1 511.4L202.1 488.8L190.8 479.8L177.2 461.6Z" fill="#ffffff"/><path d="M242.9 420.9L272.3 396L292.7 398.3L281.3 420.9L276.8 443.5L281.3 466.2L283.6 488.8L281.3 511.4L270 534.1L254.2 534.1L245.1 511.4L242.9 477.5L242.9 448.1Z" fill="#14c4ff"/><path d="M273.4 397.1L284.7 396L288.1 405.1L272.3 420.9L266.6 434.5L270 454.9L271.2 477.5L274.6 500.1L272.3 511.4L258.7 511.4L254.2 488.8L251.9 466.2L254.2 443.5L258.7 430Z" fill="#0c10d8"/><path d="M182.9 501.3L202.1 504.7L224.8 522.8L247.4 536.3L261 545.4L258.7 559L240.6 556.7L213.4 540.9L190.8 527.3L182.9 511.4Z" fill="#14c4ff"/><path d="M186.3 505.8L195.3 509.2L213.4 525L236.1 535.2L251.9 539.7L254.2 549.9L236.1 549.9L213.4 538.6L195.3 526.2L186.3 516Z" fill="#0c10d8"/><path d="M242.9 516L258.7 509.2L272.3 513.7L261 527.3L247.4 531.8Z" fill="#0c10d8"/><path d="M275.7 403.9L324.4 407.3L304 443.5L281.3 473L270 466.2L272.3 420.9Z" fill="#d8fe8c"/><path d="M275.7 459.4L284.1 459.4L284.1 475.2L275.7 475.2Z" fill="#ffec00"/><path d="M188.5 534.1L213.4 543.1L240.6 554.4L265.5 547.7L265.5 592.9L199.9 592.9L186.3 556.7Z" fill="#d8fe8c"/><path d="M229.3 563.5L249.7 561.2L251.9 579.3L231.6 579.3Z" fill="#ffa000"/><path d="M241.7 564.6L250.1 564.6L250.1 577.1L242.9 577.1Z" fill="#f01a00"/><path d="M297.2 497.9L328.9 497.9L328.9 547.7L297.2 547.7Z" fill="#14c4ff"/><path d="M281.3 353L361 353L361 402.8L292.7 407.3Z" fill="#d8fe8c"/><path d="M378.6 353L491.8 353L491.8 380.2L442 384.7L412.6 375.6L378.6 366.6Z" fill="#6af8e8"/><path d="M396.7 357.5L457.9 357.5L457.9 366.6L396.7 366.6Z" fill="#1a8cff"/><path d="M442 366.6L457.9 366.6L457.9 382.4L446.5 382.4Z" fill="#0c10d8"/><path d="M419.4 396L446.5 396L446.5 425.4L423.9 425.4Z" fill="#14c4ff"/><path d="M482.8 353L559.7 353L555.2 380.2L550.7 405.1L537.1 407.3L532.6 382.4L491.8 380.2Z" fill="#1a8cff"/><path d="M500.9 353L532.6 353L532.6 377.9L514.4 380.2L500.9 373.4Z" fill="#0c10d8"/><path d="M555.2 353L582.3 353L582.3 366.6L568.8 375.6L557.4 373.4Z" fill="#ffa000"/><path d="M571 353L582.3 353L580.1 359.8L572.2 359.8Z" fill="#f01a00"/><path d="M586.9 377.9L602.7 377.9L602.7 394.9L586.9 394.9Z" fill="#14c4ff"/><path d="M601.6 416.4L610.6 416.4L610.6 426.6L601.6 426.6Z" fill="#ffec00"/><path d="M500.9 433.4L505.4 433.4L515.6 443.5L512.2 445.8Z" fill="#f01a00"/></g><path d="M568.8 276.1L616.3 273.8L619.7 298.7L610.6 321.3L582.3 319.1L568.8 310Z" fill="#0c10d8"/><path d="M591.4 311.2L615.2 311.2L611.8 323.6L599.3 332.7L591.4 344L586.9 355.1L573.3 355.1L576.7 334.9L583.5 322.5Z" fill="#ffa000"/><path d="M594.8 315.7L609.5 315L603.8 325.9L592.5 337.2L583.5 355.1L579 355.1L584.6 334.9Z" fill="#f01a00"/><path d="M610.9 294.2L627.6 294.2L628.7 315.7L610.9 318Z" fill="#c40000"/><path d="M559.7 355.3L580.1 355.3L580.1 373.4L559.7 373.4Z" fill="#ffec00"/><path d="M103.7 176.5L112.7 176.5L112.7 181.5L103.7 181.5Z" fill="#0c10d8"/><path d="M124 185.5L134.2 185.5L134.2 192.3L124 192.3Z" fill="#1a8cff"/><path d="M112.7 192.3L129.7 190.1L150.1 194.6L150.1 201.4L113.9 200.3Z" fill="#14c4ff"/><path d="M107.1 244.4L132 244.4L136.5 253.4L134.2 267L111.6 267L107.1 253.4Z" fill="#14c4ff"/><path d="M112.7 251.2L132 248.9L133.1 264.8L122.9 264.8L112.7 258Z" fill="#0c10d8"/><path d="M61.8 153.9L79.9 153.9L79.9 169.7L61.8 169.7Z" fill="#98fcd4"/><path d="M131.3 95.1V612.3M244.9 95.1V612.3M358.5 95.1V612.3M472.1 95.1V612.3M585.7 95.1V612.3M55.6 245.4H661.5M55.6 355.6H661.5M55.6 452.3H661.5M55.6 549H661.5" stroke="#000" stroke-opacity="0.28" stroke-width="1.3" fill="none"/><g fill="none" stroke="#111" stroke-width="1.9" stroke-linejoin="round"><path d="M110.1 309.8L107.4 307.7L104.8 304.6L101.4 305.5L97.6 305.5L98 301.1L96.5 299.4L95.3 297.6L95.7 294.9L97.6 291.4L98.4 286.9L97.6 282.3L96.1 279.1L99.5 276.8L101.4 275L104.8 275.9L109.7 275.9L116.9 276.4L120.3 276.8L123.7 277.3L125.6 276.4L126.8 271.3L127.1 266.6L126.8 263.8L124.5 262.3L123 258.5L119.6 257.6L115 256.1L113.1 253.2L116.2 251.8L119.9 251.3L123.7 252.2L125.2 251.3L124.1 246.9L126.4 246.9L130.2 248.8L131.7 247.8L135.5 245.9L137.4 241.9L138.3 240.7L140.4 240.2L142.3 239.4L144.9 238.4L146.8 235.6L147.6 234.9L149.3 230.5L152.1 228.2L157.1 228.2L158.6 228.7L162 227.2L164.2 225.6L165 223.6L163.9 220.4L163.1 217.2L162 216.7L162 214.1L162.4 210.8L163.9 208.7L168.8 206.5L171.4 205.1L171.1 207L170.3 209.8L172.6 212.4L170.3 213.5L169.2 216.2L167.3 217.2L168.8 219.9L167.3 220.9L169.9 223L172.6 225.4L174.9 225.1L177.1 224.1L180.9 223.6L182 222L184.3 225.1L186.2 225.6L190.4 224.1L195.3 222L198 220.9L202.5 222L202.1 223L205.5 222.5L207 221.5L211.2 216.2L210.8 211.9L213.1 207L216.9 205.1L220.3 208.7L222.6 209.2L223.7 205.4L224.1 201.6L220.3 200.5L221.1 197.1L224.8 196L231.7 194.9L237.3 195.4L241.1 193.2L246 193.2L243 191.5L240 188.6L233.2 189.8L226 191.8L218.4 193.5L215.4 190.3L212.3 188.1L212.7 184L211.6 179.4L213.1 174.6L216.5 170.4L221.1 167.4L227.5 163.1L226.7 159.4L222.9 158.2L215 159.4L212.3 162.5L210.8 165L208.2 170.4L203.3 172.8L199.1 177.6L196.8 178.8L197.2 184L196.1 188.6L201 190.9L202.9 194.9L199.5 198.2L195.7 199.9L194.2 204.9L193.4 210.8L190.4 213.8L185.5 215.1L183.6 217.8L180.2 217.8L180.5 216.7L179.4 214.6L180 210.8L176.4 205.4L173.7 198.8L171.4 193.7L170.7 196.6L169.2 198.2L165.4 200.5L161.6 203.2L157.8 203.8L154 201L152.5 198.2L151.4 190.3L150.2 183.4L154.8 178.2L160.5 174.6L165.4 170.4L171.1 166.2L176.7 160L181.3 155L185.8 148.7L190 144.2L191.9 140.2L197.6 136.3L203.3 132.9L210.8 129.5L214.6 128.8L221.1 126.1L229 123.3L237.3 124L243 126.8L249.1 128.2L244.9 132.9L256.3 134.9L267.6 137.6L277.1 142.2L282.8 145.5L287.3 149.3L284.7 154.4L275.2 156.3L263.8 155L258.2 152.5L254.4 150L258.2 155.7L263.1 166.2L267.6 169.2L273.3 170.4L276 165.6L284.7 166.2L282 160L290.4 154.4L297.9 156.9L298.7 149.3L296 140.9L301.7 140.9L305.5 145.5L313.1 147.4L320.6 144.8L332 140.9L335.8 142.9L343.4 140.9L350.9 138.9L358.5 134.3L364.2 132.9L369.9 134.3L377.5 136.3L381.2 138.3L385 134.3L388.8 124L394.5 109.9L400.2 108.5L404 111.3L405.9 124L405.9 130.9L405.1 140.9L405.9 153.8L411.5 150.6L415.3 147.4L413.4 137.6L409.6 120.6L419.1 113.5L430.5 114.9L436.2 117L441.8 127.5L445.6 120.6L438 106.3L457 102.6L462.7 91.3L510 63.2L547.9 83.5L555.4 106.3L563 106.3L582 109.9L597.1 104.8L608.5 106.3L616 111.3L619.8 113.5L625.5 124L633.1 120.6L646.3 120.6L661.5 113.5L684.2 113.5L684.2 198.2L665.3 198.2L654.7 211.9L650.1 222.5L642.5 222L652 227.2L659.6 225.1L665.3 230.3L664.5 237.9L662.6 250.3L655.8 260L646.3 271.8L635 279.6L630.8 278.2L626.3 280.5L621.7 281L622.1 287.8L616 292.3L614.1 293.2L613.8 295.8L617.9 301.1L621.3 307.7L621.3 311.6L619.8 313.7L614.1 315.9L609.6 315.4L610.4 309.8L610.7 303.3L605.4 302L604.7 297.6L602 292.7L596.7 294.1L590.7 297.6L592.2 295.4L593.3 290L594.1 288.7L589.5 288.7L583.8 292.7L577.4 296.7L578.9 301.1L582 302.4L583.8 305.1L587.6 303.3L591 303.3L595.2 304.2L593.3 305.9L586.9 309.8L583.5 314.1L583.8 315.9L587.3 322.7L589.5 326L592.9 329L592.9 331.5L589.5 334L593.3 335.6L592.6 340.2L589.1 343.9L585.7 348.8L584.2 351.6L578.5 357.7L573.2 362.5L563.8 366.5L561.1 367.2L555.4 368.8L549.4 370.8L548.6 374.4L547.1 369.6L544.5 369.6L540.3 369.2L535.8 372.4L532.7 375.9L532 380.7L535 385.4L538.8 389.3L541.1 390.8L544.1 397L544.8 399.7L545.2 404.7L544.8 407L543.3 409.7L536.9 413.2L535 415.8L529.7 419.3L528.2 419.7L528.9 415.1L528.2 412.4L523.3 412L521.4 408.6L517.6 405.5L513.4 401.3L511.9 400.9L509.6 401.6L509.6 404.7L507.3 412.4L507.3 417.4L510 420.4L512.3 425L518.3 429.2L521.7 432.2L522.5 437.9L525.1 442.8L525.1 447.4L523.3 447.4L518.7 444L515.3 440.9L511.9 435.2L511.1 431.8L510.8 428L509.6 426.5L505.8 421.6L503.6 421.9L503.6 418.1L504.7 414.3L504.3 406.6L504.7 405.1L502.4 398.9L500.9 389.3L497.9 388.1L495.6 388.5L491.8 392L488.4 391.2L489.2 385.4L485.8 379.5L483.1 375.2L480.8 371.6L478.9 366.5L475.9 365.7L472.1 368L468.3 368.8L464.6 368.8L460.8 369.6L458.9 373.6L456.2 376.3L452.8 378.3L446.8 384.6L443 388.9L438 392L435 393.9L435.4 402.4L433.5 407L433.5 413.2L431.2 417L427.1 418.9L424.8 421.6L422.5 420L420.2 414.3L418.4 409.3L414.6 403.2L412.7 397L410.8 393.1L408.9 387.3L407 379.5L407 374L406.6 370.8L405.9 366.8L404.3 370.8L400.2 372.8L397.9 372L394.9 369.2L392.6 366.5L396.4 364.1L392.6 364.1L390.7 361.7L385 356.4L383.1 354L375.9 354.8L367.2 355.2L360.8 354.4L350.2 353.2L344.5 346.7L337.7 349.2L332 347.5L326.3 343.9L323.7 339.8L321.4 335.2L315 335.6L313.1 337.7L315 343.5L319.5 347.5L321.4 350.8L323.7 356.4L326.7 354.4L325.6 351.2L324.4 357.3L330.1 358.9L337.3 357.7L340.7 354.4L343.4 352.4L344.9 350.4L344.5 355.6L347.2 359.7L353.2 361.3L357.8 365.7L354 373.6L350.2 379.5L346.4 381.4L341.5 384.2L335.8 387.3L329 392L320.6 395.1L317.2 397L311.2 400.5L301.7 403.6L295.7 404L294.9 401.6L293.8 395.8L292.6 389.3L292.2 387.7L286.6 379.5L279.8 369.6L277.1 361.7L275.6 359.3L272.2 353.6L269.5 349.6L265.7 343.5L263.5 337.7L262 341.4L261.2 343.9L258.5 342.2L254.8 335.6L255.1 337.3L256.3 341.4L259.3 346.7L259.7 348.8L262 353.6L263.5 355.6L266.1 360.1L269.5 367.6L272.2 377.1L272.6 379.1L277.1 383.4L280.9 392.7L284.7 396.2L288.5 399.7L293 402.8L294.9 408.2L293 408.2L296 409.1L301.7 412.6L309.3 410.1L317.6 409.3L325.6 407.4L326 412.8L323.7 418.1L319.9 421.9L315 432.2L309.3 439L302.9 444.7L296 450.4L292.2 453.8L286.2 461L283.2 464.4L281.6 467.6L279.4 471.6L280.1 478.1L280.9 482.7L280.9 486.1L283.5 491.4L284.7 501.8L285.4 507.6L282.8 514.2L271.4 520.8L268.4 524.3L263.1 528.7L265 534.2L265.7 544.1L258.5 549.4L254.8 553L255.9 556.2L252.9 564.4L248.7 569L244.9 574.8L237 581.9L228.6 586.2L222.2 586.6L215 587L207 589.6L201.4 587.7L201 585.8L199.1 581.9L200.2 578.6L196.8 571.5L193.8 563.6L188.5 555.4L186.2 546.9L186.2 540.5L182.8 533L176.7 523.2L176 518.5L177.1 510.3L178.6 503.7L182 500.3L183.6 494.1L181.3 485.7L180.2 480L177.9 475L176 470.5L173 467.1L171.4 465.2L167.3 459.9L164.2 455L166.9 450.8L168 445.1L168.8 441.3L167.7 437.1L164.6 435.6L162.7 435.2L157.8 435.6L154 436L150.2 431.5L147.6 428.4L144.2 428L140.4 428.2L135.8 429.2L130.5 431.3L123.3 434.3L116.2 432.2L110.5 433.3L102.5 435.6L96.5 432.6L90.4 428.4L84.7 424.2L81.3 420L79.4 416.2L74.5 411.2L72.2 407L68.1 405.1L68.4 401.3L67.7 398.9L65 396.2L67.7 393.9L68.8 391.2L70.7 383L68.8 377.5L70 374.8L66.7 372.4L69.2 365.7L71.1 360.9L75.3 355.6L76.4 351.2L82.4 343.9L89.6 341L92.7 337.7L94.9 333.6L94.2 329L96.3 325.6L99.1 321.6L102.5 320.1L105.5 318.4L107.8 314.1L109.3 310.7L111.2 310.3L111.2 311.6L113.9 313.3L116.5 313.3L120.3 313.3L124.5 313.7L129 310.7L133.2 309L137 307.7L142.7 306.4L150.6 306.6L157.4 305.9L160.8 305.9L165.4 305.5L168.8 304.2L170.3 306.1L173 305.3L171.4 308.1L171.4 310.7L173.3 312L172.2 315.2L169.5 318.8L172.6 319.7L174.9 321.8L178.6 323.5L181.3 323.1L185.5 324.3L188.9 325.4L191.1 329.4L194.2 330.2L199.5 332.7L201.4 334L205.5 333.1L207 331.1L207.4 326.4L210.8 323.5L216.9 323.5L222.2 326.4L226.7 328.8L234.3 329.6L239.2 331.1L244.5 330.2L246.4 329L251.7 329L253.6 330L256.3 330.6L259.3 330.6L261.6 329L263.1 326.4L263.8 323.5L265.7 318.8L266.9 316.7L266.9 312L267.3 309L268.4 307.2L265.7 307.2L262.3 306.4L258.2 309L255.5 309.6L252.5 307.7L247.6 305.9L246.4 308.5L243 309L241.5 307.2L238.1 306.4L235.1 305.5L234.3 302L233.9 299.4L230.9 299.8L232.8 296.7L232.4 295.4L230.1 294.5L230.5 292.3L232 290.5L235.4 290.5L241.1 290.5L244.5 288.9L241.5 286.9L243.4 286.9L248.7 287.3L251.7 285.8L256.3 283.7L264.2 283.3L268.8 286.4L273.3 287.3L281.6 287.8L288.8 285.1L289.2 282.3L286.6 278.7L281.6 275.9L274.4 270.8L272.6 269.9L269.9 268L275.2 264.7L277.1 261.4L279.8 259L275.2 260L273.3 260L270.7 261.4L265.7 262.8L263.8 265.7L265.4 268.5L269.5 267.8L265.4 269.4L260.8 271.8L258.2 271.3L258.2 268.5L254.4 267.5L258.2 265.2L252.5 264.2L250.6 261.9L247.6 262.3L243.8 268.5L239.8 273.1L237 277.8L235.4 281L237.3 285.1L241.1 286.9L240.7 287.8L237.3 287.8L235.4 288L232.4 290.5L230.5 291.8L229.8 289.6L229.4 288.5L223.7 288.2L221.8 291.4L218.4 290.5L218 289.6L216.9 290.9L217.6 294.5L218.2 295.2L219.5 296.7L221.8 299.8L221.1 301.3L219.2 302L218.8 303.8L218.4 307.7L216.5 308.1L213.5 306.4L213.1 302.4L213.5 300L211.6 299.8L209.7 297.2L210.1 296.7L207.8 294.5L205.1 290.3L205 286.4L204.8 283.7L202.1 281.4L199.8 280.3L193.4 276.4L188.9 273.6L185.8 268L182.8 269.9L183.4 266.4L177.9 267.5L178.6 269.9L178.8 273.8L182.4 275.9L185.1 281.2L192.6 283.7L195.3 287.3L199.3 289.4L201 293.2L199.5 292L196.4 290.3L193.8 293.6L196.1 296.7L192.3 301.6L190.6 300.7L191.1 298.5L191.9 294.9L190.4 291.8L187.3 289.4L185.3 288.5L182.4 286.9L179 285.8L177.7 284.4L175.6 282.8L171.1 278.9L170.3 276.2L168.6 273.6L165.2 272.2L161.6 274.5L158.8 275.5L153.6 278.2L151.6 277.3L148.7 276.8L146.1 276.4L143 278.7L142.9 280.5L143.8 281.9L139.6 286L136 287.3L134.5 289.1L131.3 292.5L130.2 294.7L132.1 297.8L129.4 299.6L127.5 302.9L123 306.8L122 306.1L114.6 306.8L112.7 307.7L111 309.2L110.1 309.8Z"/><path d="M109.7 245.1L111.6 245.6L115.6 243.6L117.5 244.3L122 242.7L126.4 241.7L130.7 241.4L135 240.9L136.4 239.7L136.8 238.5L134 237.9L135.8 236.4L136.2 235.6L137.9 233L137.7 231.6L135.1 230.5L132.4 230.8L132.6 229.5L131.7 227.4L131 224.6L129 222.5L126.9 221.7L126 219.9L123.7 215.8L123.2 215.1L119.2 214.6L121.5 213.1L120.3 212.2L122 210.8L123.5 208.4L124.5 205.9L123.7 205.4L118 205.7L115.4 206.5L116.9 204.6L119.6 201.3L118.6 200.1L112.4 200.3L111.2 202.7L109.7 204.9L109.7 207.6L109.3 210.3L107.8 211.9L110.1 214.6L109.7 218.3L112.4 215.7L113.5 215.1L112.7 217.8L112.4 220.7L114.6 221.5L117.7 220.4L118.8 220.1L118 222.5L119.9 225.1L119.9 228.2L116.2 228.7L114.3 228.2L113.9 231.3L115.4 233.9L111.2 236L112.4 237.4L116.5 237.4L119.2 238.1L121.1 237.9L119.2 239.4L114.3 240.4L112 243.3L109.7 245.1Z"/><path d="M103.3 217.8L107.8 218.8L109 222L110.5 223.6L107.4 225.1L108.2 228.5L108.6 230.5L107.3 234.5L104.8 234.6L99.9 236.4L94.2 238.1L92.3 236.4L91.5 234.9L94.6 232.3L96.5 229L93.1 227.7L92.7 225.1L96.1 223.6L99.1 223.6L98.7 221.7L99.5 219.1L103.3 217.8Z"/><path d="M36.6 172.2L55.6 172.2L59.3 172.8L66.9 170.4L73.7 167.7L78.3 163.7L80.2 161.3L76.4 155.7L76 154.4L70.7 153.8L66.9 156.3L62.8 158.8L60.9 156.3L55.6 156.9L36.6 156.9Z"/><path d="M166.9 278.7L167.5 282.6L166.1 286L163.9 283.7L164.2 280.8L166.9 278.7Z"/><path d="M166.1 286.7L168 288.2L168 292.3L167.7 296.3L165.4 296.7L163.1 296.9L163.1 293.2L162.4 289.6L164.6 288L166.1 286.7Z"/><path d="M190.6 299.9L188.5 304.2L188.9 306.8L186.2 306.4L178.3 302L179.8 300.5L183.6 301.1L190.6 299.9Z"/><path d="M220.3 312L224.1 312.4L230.9 312.9L229.8 314.1L224.8 314.4L220.3 312.9L220.3 312Z"/><path d="M253.6 313.7L256.3 312.4L262.3 311.1L260.1 314.1L256.3 315.9L254 315L253.6 313.7Z"/><path d="M318 498L322.2 511.5L318.8 517.3L313.1 535L309.7 548.6L302.5 551L297.9 548.2L296.4 540.9L295.3 535L299.4 528.7L299.1 517.3L306.6 512.2L312.7 504.1L318 498Z"/><path d="M433.9 415.1L435.4 416.2L439.2 420L441.5 424.6L439.6 428.8L436.5 429.7L434.3 427.7L433.5 421.9L433.9 415.1Z"/><path d="M624.4 320.5L627.4 318.8L630.8 321.8L628.9 329.4L626.3 331.1L624.4 329.8L622.5 322.7L624.4 320.5Z"/><path d="M633.1 322.7L635 323.9L639.9 321L641 318L636.9 317.1L633.8 318.8L633.1 322.7Z"/><path d="M627 318.4L629.3 315.4L633.1 312.4L638.8 311.8L644.4 311.6L646.3 310.7L649 305.1L651.3 303.3L650.1 305.5L655.8 303.8L659.6 300.2L661.5 294.5L661.5 290L662.6 286.9L666.4 286L667.2 290L669.1 294.5L665.3 299.8L664.9 305.9L664.1 311.1L660.7 314.1L658.1 313.7L656.9 315.9L650.9 315.9L649.7 317.1L647.1 320.5L642.9 319.7L643.3 315.9L635 316.7L629.7 318.4L627 318.4Z"/><path d="M661.5 285.5L663 281L661.5 279.6L663.4 277.3L666.4 277.8L667.5 267.5L680.4 274.1L672.8 283.3L665.3 281L664.5 284.2L661.5 285.5Z"/><path d="M591.4 354.4L593.3 355.6L591.4 361.7L589.1 367.6L586.9 365.3L586.1 361.7L589.5 355.6L591.4 354.4Z"/><path d="M549.8 375.2L551.7 377.1L549.4 381.4L546 382.6L542.9 381.4L542.9 378.3L546 375.9L549.8 375.2Z"/><path d="M588 381.4L594.1 381.4L593.3 387.3L591.8 392L591.4 398.2L595.2 398.2L600.9 402.8L598.6 404L592.6 399.3L588 398.2L585.7 395.1L585.7 390.4L587.3 389.6L588 381.4Z"/><path d="M593.3 426.1L599 421.9L602.8 419.7L606.6 415.1L610.4 421.9L609.2 428.4L606.6 430.3L601.6 428.4L597.1 423.8L593.3 426.1Z"/><path d="M602 404.7L607.3 410.5L604.7 414.3L602 410.9L602 404.7Z"/><path d="M593.3 407.4L597.5 408.6L595.6 412.4L593.3 412L593.3 407.4Z"/><path d="M597.1 410.9L599.4 414.3L597.9 417.7L595.2 414.7L597.1 410.9Z"/><path d="M575.1 420L583.8 409.7L584.2 412.4L576.3 421.2L575.1 420Z"/><path d="M544.1 446.6L546.4 444.7L551.7 444.7L559.2 440.6L563.8 434.9L568.7 432.2L573.6 425.7L577 429.6L582.7 432.6L578.9 436L577 439L577.8 448.5L582 448.9L576.3 454.2L572.5 461.8L570.6 465.9L565.3 467.5L559.2 464.4L554.3 463.7L548.6 463.3L547.9 458L544.1 453.1L544.1 446.6Z"/><path d="M492.2 431.1L500.5 432.6L505.1 438.3L511.5 444L517.6 448.5L524 455L527 459.9L532.7 464.4L532 474.3L527 474.7L518.7 467.5L513.8 461.8L510 456.1L506.2 450.4L503.6 444.7L496.7 437.9L492.2 431.1Z"/><path d="M529.7 478.1L532.7 474.7L541.4 476.2L549.8 478.5L557.7 478.5L564.9 481.5L564.5 485.3L555.4 483.8L547.9 483L540.3 481.9L534.6 480.4L530.8 478.5L529.7 478.1Z"/><path d="M583.8 473.1L586.9 473.1L587.3 462.9L590.3 462.9L594.5 469.4L597.9 469.4L591.4 459.5L598.2 455.7L589.5 455.3L586.5 451.2L591.4 448.1L600.9 448.9L605.1 446.2L602.8 451.2L593.3 450.8L585.7 450L585 454.2L583.1 459.9L581.2 463.7L583.8 473.1Z"/><path d="M627.4 457.2L633.1 453.8L638.8 455.7L642.5 464.8L652 458L661.5 461.4L680.4 467.5L680.4 486.5L663.4 484.6L655.8 483.8L653.1 480.4L653.9 476.9L646.3 470.1L638.8 467.1L635 467.5L631.2 462.9L627.4 457.2Z"/><path d="M614.1 444L616 448.5L618.7 450.4L615.7 451.2L617.6 455.3L613.8 452.3L614.1 444Z"/><path d="M616 463.7L626.6 464.8L623.6 467.1L616.8 465.2L616 463.7Z"/><path d="M600.9 491.4L605.4 487.6L613.4 484.2L608.5 484.6L602.4 487.6L599 491.4L600.9 491.4Z"/><path d="M567.2 483L569.5 484.6L564.9 485.3L567.2 483Z"/><path d="M570.6 483.8L576.3 483.4L582 484.6L580.1 485.7L572.5 486.5L570.6 483.8Z"/><path d="M585 484.6L596.3 483.4L595.2 485.3L585.7 485.7L585 484.6Z"/><path d="M582 488.4L588.8 490.3L585.7 491.4L582 489.5L582 488.4Z"/><path d="M561.1 537L563 536.2L570.6 531.4L582 529L589.5 527.1L594.1 519.2L599 515L604.7 508L610.4 505.3L616 509.5L621.7 509.1L624.7 501L627.4 498.7L633.1 496L638.8 498L645.6 498.7L649.4 499.1L646 504.1L644.4 508.8L650.1 513L657.7 518.5L661.5 520L667.2 509.5L669.1 493L684.2 509.5L684.2 612.3L661.5 603.5L659.6 594.3L653.9 593L652 581.9L644.8 589.6L638.8 581.1L627.4 575.6L619.8 576.1L608.5 579L597.1 585.8L578.2 590.5L570.6 590.5L566.8 586.2L569.5 577.7L566.8 569.4L563 557.1L561.1 551L562.3 544.9L561.1 537Z"/><path d="M326.3 120.6L332 126.1L347.2 126.8L340.7 111.3L345.3 102.6L350.9 93.6L358.5 83.5L339.6 83.5L335.8 98.9L332 109.9L326.3 120.6Z"/><path d="M315 134.3L318.8 136.3L316.9 138.9L313.8 137.6L315 134.3Z"/><path d="M310.4 265.7L313.1 263.3L318.8 261.9L324.4 260L330.1 260.4L332.8 262.3L332 266.6L328.2 268L324.4 271.3L321.8 271.8L325.6 276.4L330.1 281L331.3 285.5L332 290L333.9 292.3L335.4 296.7L335.4 304.2L332 306.4L326.3 306.8L320.6 304.6L316.5 299.4L317.6 294.5L322.2 290.5L318.8 289.1L315.3 284.2L311.2 278.7L309.3 274.1L308.9 271.3L310.4 265.7Z"/><path d="M352.1 262.8L358.5 264.7L362.3 269.4L358.5 276.4L355.5 275.9L352.8 271.8L352.1 267.1L352.1 262.8Z"/><path d="M411.5 262.3L417.2 261.4L422.9 263.8L430.5 262.3L431.2 264.7L422.9 265.7L417.2 263.3L411.5 263.3L411.5 262.3Z"/><path d="M525.1 237.4L530.8 236.4L534.6 232.8L542.2 225.1L546 216.2L544.8 216.2L540.3 225.1L532.7 231.8L525.9 236.4L525.1 237.4Z"/><path d="M246.8 188.1L250.6 183.4L255.5 185.8L254.4 189.8L249.5 192.6L246.8 188.1Z"/><path d="M263.8 184L265 178.2L267.6 176.4L269.1 184L265.7 186.9L263.8 184Z"/><path d="M254.4 451.2L260.1 451.5L263.1 454.2L260.1 459.9L256.3 461.8L251.3 458L251.7 452.3L254.4 451.2Z"/><path d="M241.9 464.8L243 465.2L244.9 473.1L246.8 476.9L248.7 485.3L247.2 485.3L243.4 476.9L242.3 471.3L241.9 464.8Z"/><path d="M260.1 488.4L261.6 488.8L262.7 496L265 506.4L263.8 507.2L262 503.7L260.8 496L260.1 488.4Z"/></g></g><g fill="#000"><rect x="55.6" y="605.5" width="37.9" height="6.8"/><rect x="93.4" y="95.1" width="37.9" height="6.8"/><rect x="131.3" y="605.5" width="56.8" height="6.8"/><rect x="188.1" y="95.1" width="56.8" height="6.8"/><rect x="244.9" y="605.5" width="56.8" height="6.8"/><rect x="301.7" y="95.1" width="56.8" height="6.8"/><rect x="358.5" y="605.5" width="56.8" height="6.8"/><rect x="415.3" y="95.1" width="56.8" height="6.8"/><rect x="472.1" y="605.5" width="56.8" height="6.8"/><rect x="528.9" y="95.1" width="56.8" height="6.8"/><rect x="585.7" y="605.5" width="37.9" height="6.8"/><rect x="623.6" y="95.1" width="37.9" height="6.8"/><rect x="654.7" y="95.1" width="6.8" height="83.1"/><rect x="55.6" y="178.2" width="6.8" height="67.2"/><rect x="654.7" y="245.4" width="6.8" height="57.9"/><rect x="55.6" y="303.3" width="6.8" height="52.3"/><rect x="654.7" y="355.6" width="6.8" height="49.1"/><rect x="55.6" y="404.7" width="6.8" height="47.6"/><rect x="654.7" y="452.3" width="6.8" height="47.6"/><rect x="55.6" y="499.9" width="6.8" height="49.1"/><rect x="654.7" y="549" width="6.8" height="30.9"/><rect x="55.6" y="579.8" width="6.8" height="32.5"/></g><rect x="55.6" y="95.1" width="605.9" height="517.2" fill="none" stroke="#000" stroke-width="1.3"/><rect x="62.4" y="101.9" width="592.3" height="503.6" fill="none" stroke="#000" stroke-width="1.3"/><path d="M55.6 95.1L62.4 101.9M654.7 605.5L661.5 612.3" stroke="#000" stroke-width="1.3"/><text x="81" y="148.3" font-size="52" font-weight="bold" letter-spacing="0.5">a)</text><text x="48.5" y="100.4" text-anchor="end" font-size="20.8">75°N</text><text x="48.5" y="250.7" text-anchor="end" font-size="20.8">50°N</text><text x="48.5" y="360.9" text-anchor="end" font-size="20.8">25°N</text><text x="48.5" y="457.6" text-anchor="end" font-size="20.8">0°</text><text x="48.5" y="554.3" text-anchor="end" font-size="20.8">25°S</text><text x="133.3" y="628.5" text-anchor="middle" font-size="20.8">0°</text><text x="246.9" y="628.5" text-anchor="middle" font-size="20.8">30°E</text><text x="360.5" y="628.5" text-anchor="middle" font-size="20.8">60°E</text><text x="474.1" y="628.5" text-anchor="middle" font-size="20.8">90°E</text><text x="587.7" y="628.5" text-anchor="middle" font-size="20.8">120°E</text></g><g transform="translate(679.6 0)"><g clip-path="url(#clipA)"><g clip-path="url(#landA)"><path d="M110.1 309.8L107.4 307.7L104.8 304.6L101.4 305.5L97.6 305.5L98 301.1L96.5 299.4L95.3 297.6L95.7 294.9L97.6 291.4L98.4 286.9L97.6 282.3L96.1 279.1L99.5 276.8L101.4 275L104.8 275.9L109.7 275.9L116.9 276.4L120.3 276.8L123.7 277.3L125.6 276.4L126.8 271.3L127.1 266.6L126.8 263.8L124.5 262.3L123 258.5L119.6 257.6L115 256.1L113.1 253.2L116.2 251.8L119.9 251.3L123.7 252.2L125.2 251.3L124.1 246.9L126.4 246.9L130.2 248.8L131.7 247.8L135.5 245.9L137.4 241.9L138.3 240.7L140.4 240.2L142.3 239.4L144.9 238.4L146.8 235.6L147.6 234.9L149.3 230.5L152.1 228.2L157.1 228.2L158.6 228.7L162 227.2L164.2 225.6L165 223.6L163.9 220.4L163.1 217.2L162 216.7L162 214.1L162.4 210.8L163.9 208.7L168.8 206.5L171.4 205.1L171.1 207L170.3 209.8L172.6 212.4L170.3 213.5L169.2 216.2L167.3 217.2L168.8 219.9L167.3 220.9L169.9 223L172.6 225.4L174.9 225.1L177.1 224.1L180.9 223.6L182 222L184.3 225.1L186.2 225.6L190.4 224.1L195.3 222L198 220.9L202.5 222L202.1 223L205.5 222.5L207 221.5L211.2 216.2L210.8 211.9L213.1 207L216.9 205.1L220.3 208.7L222.6 209.2L223.7 205.4L224.1 201.6L220.3 200.5L221.1 197.1L224.8 196L231.7 194.9L237.3 195.4L241.1 193.2L246 193.2L243 191.5L240 188.6L233.2 189.8L226 191.8L218.4 193.5L215.4 190.3L212.3 188.1L212.7 184L211.6 179.4L213.1 174.6L216.5 170.4L221.1 167.4L227.5 163.1L226.7 159.4L222.9 158.2L215 159.4L212.3 162.5L210.8 165L208.2 170.4L203.3 172.8L199.1 177.6L196.8 178.8L197.2 184L196.1 188.6L201 190.9L202.9 194.9L199.5 198.2L195.7 199.9L194.2 204.9L193.4 210.8L190.4 213.8L185.5 215.1L183.6 217.8L180.2 217.8L180.5 216.7L179.4 214.6L180 210.8L176.4 205.4L173.7 198.8L171.4 193.7L170.7 196.6L169.2 198.2L165.4 200.5L161.6 203.2L157.8 203.8L154 201L152.5 198.2L151.4 190.3L150.2 183.4L154.8 178.2L160.5 174.6L165.4 170.4L171.1 166.2L176.7 160L181.3 155L185.8 148.7L190 144.2L191.9 140.2L197.6 136.3L203.3 132.9L210.8 129.5L214.6 128.8L221.1 126.1L229 123.3L237.3 124L243 126.8L249.1 128.2L244.9 132.9L256.3 134.9L267.6 137.6L277.1 142.2L282.8 145.5L287.3 149.3L284.7 154.4L275.2 156.3L263.8 155L258.2 152.5L254.4 150L258.2 155.7L263.1 166.2L267.6 169.2L273.3 170.4L276 165.6L284.7 166.2L282 160L290.4 154.4L297.9 156.9L298.7 149.3L296 140.9L301.7 140.9L305.5 145.5L313.1 147.4L320.6 144.8L332 140.9L335.8 142.9L343.4 140.9L350.9 138.9L358.5 134.3L364.2 132.9L369.9 134.3L377.5 136.3L381.2 138.3L385 134.3L388.8 124L394.5 109.9L400.2 108.5L404 111.3L405.9 124L405.9 130.9L405.1 140.9L405.9 153.8L411.5 150.6L415.3 147.4L413.4 137.6L409.6 120.6L419.1 113.5L430.5 114.9L436.2 117L441.8 127.5L445.6 120.6L438 106.3L457 102.6L462.7 91.3L510 63.2L547.9 83.5L555.4 106.3L563 106.3L582 109.9L597.1 104.8L608.5 106.3L616 111.3L619.8 113.5L625.5 124L633.1 120.6L646.3 120.6L661.5 113.5L684.2 113.5L684.2 198.2L665.3 198.2L654.7 211.9L650.1 222.5L642.5 222L652 227.2L659.6 225.1L665.3 230.3L664.5 237.9L662.6 250.3L655.8 260L646.3 271.8L635 279.6L630.8 278.2L626.3 280.5L621.7 281L622.1 287.8L616 292.3L614.1 293.2L613.8 295.8L617.9 301.1L621.3 307.7L621.3 311.6L619.8 313.7L614.1 315.9L609.6 315.4L610.4 309.8L610.7 303.3L605.4 302L604.7 297.6L602 292.7L596.7 294.1L590.7 297.6L592.2 295.4L593.3 290L594.1 288.7L589.5 288.7L583.8 292.7L577.4 296.7L578.9 301.1L582 302.4L583.8 305.1L587.6 303.3L591 303.3L595.2 304.2L593.3 305.9L586.9 309.8L583.5 314.1L583.8 315.9L587.3 322.7L589.5 326L592.9 329L592.9 331.5L589.5 334L593.3 335.6L592.6 340.2L589.1 343.9L585.7 348.8L584.2 351.6L578.5 357.7L573.2 362.5L563.8 366.5L561.1 367.2L555.4 368.8L549.4 370.8L548.6 374.4L547.1 369.6L544.5 369.6L540.3 369.2L535.8 372.4L532.7 375.9L532 380.7L535 385.4L538.8 389.3L541.1 390.8L544.1 397L544.8 399.7L545.2 404.7L544.8 407L543.3 409.7L536.9 413.2L535 415.8L529.7 419.3L528.2 419.7L528.9 415.1L528.2 412.4L523.3 412L521.4 408.6L517.6 405.5L513.4 401.3L511.9 400.9L509.6 401.6L509.6 404.7L507.3 412.4L507.3 417.4L510 420.4L512.3 425L518.3 429.2L521.7 432.2L522.5 437.9L525.1 442.8L525.1 447.4L523.3 447.4L518.7 444L515.3 440.9L511.9 435.2L511.1 431.8L510.8 428L509.6 426.5L505.8 421.6L503.6 421.9L503.6 418.1L504.7 414.3L504.3 406.6L504.7 405.1L502.4 398.9L500.9 389.3L497.9 388.1L495.6 388.5L491.8 392L488.4 391.2L489.2 385.4L485.8 379.5L483.1 375.2L480.8 371.6L478.9 366.5L475.9 365.7L472.1 368L468.3 368.8L464.6 368.8L460.8 369.6L458.9 373.6L456.2 376.3L452.8 378.3L446.8 384.6L443 388.9L438 392L435 393.9L435.4 402.4L433.5 407L433.5 413.2L431.2 417L427.1 418.9L424.8 421.6L422.5 420L420.2 414.3L418.4 409.3L414.6 403.2L412.7 397L410.8 393.1L408.9 387.3L407 379.5L407 374L406.6 370.8L405.9 366.8L404.3 370.8L400.2 372.8L397.9 372L394.9 369.2L392.6 366.5L396.4 364.1L392.6 364.1L390.7 361.7L385 356.4L383.1 354L375.9 354.8L367.2 355.2L360.8 354.4L350.2 353.2L344.5 346.7L337.7 349.2L332 347.5L326.3 343.9L323.7 339.8L321.4 335.2L315 335.6L313.1 337.7L315 343.5L319.5 347.5L321.4 350.8L323.7 356.4L326.7 354.4L325.6 351.2L324.4 357.3L330.1 358.9L337.3 357.7L340.7 354.4L343.4 352.4L344.9 350.4L344.5 355.6L347.2 359.7L353.2 361.3L357.8 365.7L354 373.6L350.2 379.5L346.4 381.4L341.5 384.2L335.8 387.3L329 392L320.6 395.1L317.2 397L311.2 400.5L301.7 403.6L295.7 404L294.9 401.6L293.8 395.8L292.6 389.3L292.2 387.7L286.6 379.5L279.8 369.6L277.1 361.7L275.6 359.3L272.2 353.6L269.5 349.6L265.7 343.5L263.5 337.7L262 341.4L261.2 343.9L258.5 342.2L254.8 335.6L255.1 337.3L256.3 341.4L259.3 346.7L259.7 348.8L262 353.6L263.5 355.6L266.1 360.1L269.5 367.6L272.2 377.1L272.6 379.1L277.1 383.4L280.9 392.7L284.7 396.2L288.5 399.7L293 402.8L294.9 408.2L293 408.2L296 409.1L301.7 412.6L309.3 410.1L317.6 409.3L325.6 407.4L326 412.8L323.7 418.1L319.9 421.9L315 432.2L309.3 439L302.9 444.7L296 450.4L292.2 453.8L286.2 461L283.2 464.4L281.6 467.6L279.4 471.6L280.1 478.1L280.9 482.7L280.9 486.1L283.5 491.4L284.7 501.8L285.4 507.6L282.8 514.2L271.4 520.8L268.4 524.3L263.1 528.7L265 534.2L265.7 544.1L258.5 549.4L254.8 553L255.9 556.2L252.9 564.4L248.7 569L244.9 574.8L237 581.9L228.6 586.2L222.2 586.6L215 587L207 589.6L201.4 587.7L201 585.8L199.1 581.9L200.2 578.6L196.8 571.5L193.8 563.6L188.5 555.4L186.2 546.9L186.2 540.5L182.8 533L176.7 523.2L176 518.5L177.1 510.3L178.6 503.7L182 500.3L183.6 494.1L181.3 485.7L180.2 480L177.9 475L176 470.5L173 467.1L171.4 465.2L167.3 459.9L164.2 455L166.9 450.8L168 445.1L168.8 441.3L167.7 437.1L164.6 435.6L162.7 435.2L157.8 435.6L154 436L150.2 431.5L147.6 428.4L144.2 428L140.4 428.2L135.8 429.2L130.5 431.3L123.3 434.3L116.2 432.2L110.5 433.3L102.5 435.6L96.5 432.6L90.4 428.4L84.7 424.2L81.3 420L79.4 416.2L74.5 411.2L72.2 407L68.1 405.1L68.4 401.3L67.7 398.9L65 396.2L67.7 393.9L68.8 391.2L70.7 383L68.8 377.5L70 374.8L66.7 372.4L69.2 365.7L71.1 360.9L75.3 355.6L76.4 351.2L82.4 343.9L89.6 341L92.7 337.7L94.9 333.6L94.2 329L96.3 325.6L99.1 321.6L102.5 320.1L105.5 318.4L107.8 314.1L109.3 310.7L111.2 310.3L111.2 311.6L113.9 313.3L116.5 313.3L120.3 313.3L124.5 313.7L129 310.7L133.2 309L137 307.7L142.7 306.4L150.6 306.6L157.4 305.9L160.8 305.9L165.4 305.5L168.8 304.2L170.3 306.1L173 305.3L171.4 308.1L171.4 310.7L173.3 312L172.2 315.2L169.5 318.8L172.6 319.7L174.9 321.8L178.6 323.5L181.3 323.1L185.5 324.3L188.9 325.4L191.1 329.4L194.2 330.2L199.5 332.7L201.4 334L205.5 333.1L207 331.1L207.4 326.4L210.8 323.5L216.9 323.5L222.2 326.4L226.7 328.8L234.3 329.6L239.2 331.1L244.5 330.2L246.4 329L251.7 329L253.6 330L256.3 330.6L259.3 330.6L261.6 329L263.1 326.4L263.8 323.5L265.7 318.8L266.9 316.7L266.9 312L267.3 309L268.4 307.2L265.7 307.2L262.3 306.4L258.2 309L255.5 309.6L252.5 307.7L247.6 305.9L246.4 308.5L243 309L241.5 307.2L238.1 306.4L235.1 305.5L234.3 302L233.9 299.4L230.9 299.8L232.8 296.7L232.4 295.4L230.1 294.5L230.5 292.3L232 290.5L235.4 290.5L241.1 290.5L244.5 288.9L241.5 286.9L243.4 286.9L248.7 287.3L251.7 285.8L256.3 283.7L264.2 283.3L268.8 286.4L273.3 287.3L281.6 287.8L288.8 285.1L289.2 282.3L286.6 278.7L281.6 275.9L274.4 270.8L272.6 269.9L269.9 268L275.2 264.7L277.1 261.4L279.8 259L275.2 260L273.3 260L270.7 261.4L265.7 262.8L263.8 265.7L265.4 268.5L269.5 267.8L265.4 269.4L260.8 271.8L258.2 271.3L258.2 268.5L254.4 267.5L258.2 265.2L252.5 264.2L250.6 261.9L247.6 262.3L243.8 268.5L239.8 273.1L237 277.8L235.4 281L237.3 285.1L241.1 286.9L240.7 287.8L237.3 287.8L235.4 288L232.4 290.5L230.5 291.8L229.8 289.6L229.4 288.5L223.7 288.2L221.8 291.4L218.4 290.5L218 289.6L216.9 290.9L217.6 294.5L218.2 295.2L219.5 296.7L221.8 299.8L221.1 301.3L219.2 302L218.8 303.8L218.4 307.7L216.5 308.1L213.5 306.4L213.1 302.4L213.5 300L211.6 299.8L209.7 297.2L210.1 296.7L207.8 294.5L205.1 290.3L205 286.4L204.8 283.7L202.1 281.4L199.8 280.3L193.4 276.4L188.9 273.6L185.8 268L182.8 269.9L183.4 266.4L177.9 267.5L178.6 269.9L178.8 273.8L182.4 275.9L185.1 281.2L192.6 283.7L195.3 287.3L199.3 289.4L201 293.2L199.5 292L196.4 290.3L193.8 293.6L196.1 296.7L192.3 301.6L190.6 300.7L191.1 298.5L191.9 294.9L190.4 291.8L187.3 289.4L185.3 288.5L182.4 286.9L179 285.8L177.7 284.4L175.6 282.8L171.1 278.9L170.3 276.2L168.6 273.6L165.2 272.2L161.6 274.5L158.8 275.5L153.6 278.2L151.6 277.3L148.7 276.8L146.1 276.4L143 278.7L142.9 280.5L143.8 281.9L139.6 286L136 287.3L134.5 289.1L131.3 292.5L130.2 294.7L132.1 297.8L129.4 299.6L127.5 302.9L123 306.8L122 306.1L114.6 306.8L112.7 307.7L111 309.2L110.1 309.8ZM109.7 245.1L111.6 245.6L115.6 243.6L117.5 244.3L122 242.7L126.4 241.7L130.7 241.4L135 240.9L136.4 239.7L136.8 238.5L134 237.9L135.8 236.4L136.2 235.6L137.9 233L137.7 231.6L135.1 230.5L132.4 230.8L132.6 229.5L131.7 227.4L131 224.6L129 222.5L126.9 221.7L126 219.9L123.7 215.8L123.2 215.1L119.2 214.6L121.5 213.1L120.3 212.2L122 210.8L123.5 208.4L124.5 205.9L123.7 205.4L118 205.7L115.4 206.5L116.9 204.6L119.6 201.3L118.6 200.1L112.4 200.3L111.2 202.7L109.7 204.9L109.7 207.6L109.3 210.3L107.8 211.9L110.1 214.6L109.7 218.3L112.4 215.7L113.5 215.1L112.7 217.8L112.4 220.7L114.6 221.5L117.7 220.4L118.8 220.1L118 222.5L119.9 225.1L119.9 228.2L116.2 228.7L114.3 228.2L113.9 231.3L115.4 233.9L111.2 236L112.4 237.4L116.5 237.4L119.2 238.1L121.1 237.9L119.2 239.4L114.3 240.4L112 243.3L109.7 245.1ZM103.3 217.8L107.8 218.8L109 222L110.5 223.6L107.4 225.1L108.2 228.5L108.6 230.5L107.3 234.5L104.8 234.6L99.9 236.4L94.2 238.1L92.3 236.4L91.5 234.9L94.6 232.3L96.5 229L93.1 227.7L92.7 225.1L96.1 223.6L99.1 223.6L98.7 221.7L99.5 219.1L103.3 217.8ZM36.6 172.2L55.6 172.2L59.3 172.8L66.9 170.4L73.7 167.7L78.3 163.7L80.2 161.3L76.4 155.7L76 154.4L70.7 153.8L66.9 156.3L62.8 158.8L60.9 156.3L55.6 156.9L36.6 156.9ZM166.9 278.7L167.5 282.6L166.1 286L163.9 283.7L164.2 280.8L166.9 278.7ZM166.1 286.7L168 288.2L168 292.3L167.7 296.3L165.4 296.7L163.1 296.9L163.1 293.2L162.4 289.6L164.6 288L166.1 286.7ZM190.6 299.9L188.5 304.2L188.9 306.8L186.2 306.4L178.3 302L179.8 300.5L183.6 301.1L190.6 299.9ZM220.3 312L224.1 312.4L230.9 312.9L229.8 314.1L224.8 314.4L220.3 312.9L220.3 312ZM253.6 313.7L256.3 312.4L262.3 311.1L260.1 314.1L256.3 315.9L254 315L253.6 313.7ZM318 498L322.2 511.5L318.8 517.3L313.1 535L309.7 548.6L302.5 551L297.9 548.2L296.4 540.9L295.3 535L299.4 528.7L299.1 517.3L306.6 512.2L312.7 504.1L318 498ZM624.4 320.5L627.4 318.8L630.8 321.8L628.9 329.4L626.3 331.1L624.4 329.8L622.5 322.7L624.4 320.5ZM633.1 322.7L635 323.9L639.9 321L641 318L636.9 317.1L633.8 318.8L633.1 322.7ZM627 318.4L629.3 315.4L633.1 312.4L638.8 311.8L644.4 311.6L646.3 310.7L649 305.1L651.3 303.3L650.1 305.5L655.8 303.8L659.6 300.2L661.5 294.5L661.5 290L662.6 286.9L666.4 286L667.2 290L669.1 294.5L665.3 299.8L664.9 305.9L664.1 311.1L660.7 314.1L658.1 313.7L656.9 315.9L650.9 315.9L649.7 317.1L647.1 320.5L642.9 319.7L643.3 315.9L635 316.7L629.7 318.4L627 318.4ZM661.5 285.5L663 281L661.5 279.6L663.4 277.3L666.4 277.8L667.5 267.5L680.4 274.1L672.8 283.3L665.3 281L664.5 284.2L661.5 285.5ZM591.4 354.4L593.3 355.6L591.4 361.7L589.1 367.6L586.9 365.3L586.1 361.7L589.5 355.6L591.4 354.4ZM549.8 375.2L551.7 377.1L549.4 381.4L546 382.6L542.9 381.4L542.9 378.3L546 375.9L549.8 375.2ZM588 381.4L594.1 381.4L593.3 387.3L591.8 392L591.4 398.2L595.2 398.2L600.9 402.8L598.6 404L592.6 399.3L588 398.2L585.7 395.1L585.7 390.4L587.3 389.6L588 381.4ZM593.3 426.1L599 421.9L602.8 419.7L606.6 415.1L610.4 421.9L609.2 428.4L606.6 430.3L601.6 428.4L597.1 423.8L593.3 426.1ZM602 404.7L607.3 410.5L604.7 414.3L602 410.9L602 404.7ZM593.3 407.4L597.5 408.6L595.6 412.4L593.3 412L593.3 407.4ZM597.1 410.9L599.4 414.3L597.9 417.7L595.2 414.7L597.1 410.9ZM575.1 420L583.8 409.7L584.2 412.4L576.3 421.2L575.1 420ZM492.2 431.1L500.5 432.6L505.1 438.3L511.5 444L517.6 448.5L524 455L527 459.9L532.7 464.4L532 474.3L527 474.7L518.7 467.5L513.8 461.8L510 456.1L506.2 450.4L503.6 444.7L496.7 437.9L492.2 431.1ZM529.7 478.1L532.7 474.7L541.4 476.2L549.8 478.5L557.7 478.5L564.9 481.5L564.5 485.3L555.4 483.8L547.9 483L540.3 481.9L534.6 480.4L530.8 478.5L529.7 478.1Z" fill="none"/><path d="M55.4 151.6L150.5 151.6L182.2 160.6L243.3 160.6L245.5 181L281.7 183.3L327 187.8L361.4 190.1L361.4 355.1L272.7 355.1L270.4 331.5L213.8 331.5L168.6 330.4L96.1 330.4L55.4 330.4Z" fill="#bdfca0"/><path d="M177.6 160.6L243.3 160.6L243.3 169.7L213.8 162.9L191.2 185.5L182.2 190.1L173.1 169.7Z" fill="#ffffff"/><path d="M130.1 185.5L168.6 190.1L191.2 201.4L236.5 203.6L281.7 205.9L349.7 208.2L361.4 210.4L361.4 221.8L349.7 235.3L349.7 248.9L304.4 258L304.4 276.1L293.1 294.2L247.8 296.4L213.8 298.7L182.2 294.2L150.5 280.6L130.1 267Z" fill="#ffec00"/><path d="M105.2 181L150.5 181L164 203.6L191.2 208.2L236.5 212.7L281.7 212.7L338.3 215L349.7 230.8L338.3 239.9L304.4 248.9L299.9 267L281.7 276.1L259.1 291.9L213.8 294.2L179.9 282.9L161.8 267L150.5 253.4L130.1 242.1L105.2 221.8Z" fill="#ffa000"/><path d="M130.1 183.3L150.5 185.5L159.5 208.2L168.6 217.2L168.6 242.1L164 253.4L150.5 242.1L134.6 221.8Z" fill="#f01a00"/><path d="M168.6 220.6L213.8 217.2L259.1 219.5L304.4 221.8L327 226.3L327 236.5L304.4 241L281.7 245.5L281.7 263.6L259.1 272.7L236.5 287.4L213.8 289.7L202.5 276.1L195.7 267L182.2 262.5L177.6 253.4L168.6 239.9Z" fill="#c40000"/><path d="M105.2 194.6L130.1 192.3L134.6 208.2L134.6 239.9L121 239.9L112 221.8L105.2 208.2Z" fill="#c40000"/><path d="M92.7 218.4L110.9 218.4L110.9 238.7L92.7 238.7Z" fill="#98fcd4"/><path d="M115.4 248.9L130.1 244.4L145.9 253.4L150.5 267L141.4 287.4L130.1 287.4L118.8 267Z" fill="#6af8e8"/><path d="M159.5 251.2L195.7 251.2L195.7 262.5L159.5 262.5Z" fill="#98fcd4"/><path d="M102.9 273.8L125.6 273.8L125.6 287.4L102.9 287.4Z" fill="#c40000"/><path d="M99.5 287.4L130.1 287.4L132.4 305.5L99.5 305.5Z" fill="#eefa50"/><path d="M245.5 282.9L315.7 282.9L315.7 298.7L245.5 298.7Z" fill="#ffec00"/><path d="M168.6 319.1L270.4 319.1L270.4 355.1L168.6 355.1Z" fill="#ffffff"/><path d="M62.2 153.9L80.3 153.9L80.3 169.7L62.2 169.7Z" fill="#eefa50"/><path d="M356.4 192.3L401.7 192.3L458.3 194.6L492.2 199.1L492.2 242.1L474.1 253.4L582.7 253.4L582.7 271.6L560.1 298.7L492.2 298.7L478.6 289.7L446.9 291.9L424.3 287.4L401.7 294.2L392.6 355.1L356.4 355.1Z" fill="#bdfca0"/><path d="M474.1 321.3L494.5 321.3L494.5 344L474.1 344Z" fill="#bdfca0"/><path d="M589.5 287.4L612.2 287.4L634.8 267L650.7 262.5L650.7 276.1L628 298.7L612.2 316.8L589.5 316.8Z" fill="#bdfca0"/><path d="M643.9 212.7L662.4 212.7L662.4 230.8L643.9 230.8Z" fill="#bdfca0"/><path d="M356.4 217.2L385.8 217.2L385.8 230.8L356.4 230.8Z" fill="#eefa50"/><path d="M435.6 224L458.3 224L458.3 235.3L435.6 235.3Z" fill="#eefa50"/><path d="M442.4 281.1L560.1 282.9L560.1 295.3L442.4 292.4Z" fill="#ffec00"/><path d="M442.4 282L514.8 283.3L514.8 290.8L442.4 290.1Z" fill="#ffa000"/><path d="M446.9 282.9L503.5 284L503.5 289.2L446.9 288.1Z" fill="#c40000"/><path d="M406.2 267L442.4 267L442.4 273.8L406.2 273.8Z" fill="#ffa000"/><path d="M397.1 298.7L408.5 298.7L431.1 328.1L424.3 330.4Z" fill="#ffa000"/><path d="M612.2 280.6L634.8 269.3L637.1 273.8L621.2 294.2L614.4 296.4Z" fill="#c40000"/><path d="M616.7 294.2L623.5 294.2L623.5 303.2L616.7 303.2Z" fill="#6af8e8"/><path d="M73.5 362.1L118.8 359.8L141.4 368.8L270.4 368.8L272.7 393.7L254.6 407.3L157.3 407.3L123.3 396L75.8 391.5Z" fill="#bdfca0"/><path d="M286.3 359.8L342.9 362.1L338.3 380.2L304.4 400.5L295.3 398.3Z" fill="#bdfca0"/><path d="M270.4 396L288.5 398.3L295.3 420.9L281.7 448.1L281.7 488.8L281.7 511.4L270.4 511.4L252.3 500.1L250.1 488.8L252.3 448.1L261.4 427.7Z" fill="#bdfca0"/><path d="M270.4 402.8L284 402.8L284 420.9L270.4 420.9Z" fill="#ffec00"/><path d="M263.6 480.9L270.4 480.9L270.4 487.7L263.6 487.7Z" fill="#ffa000"/><path d="M182.2 506.9L195.7 506.9L213.8 525L241 520.5L263.6 516L259.1 538.6L250.1 552.2L245.5 579.3L213.8 590.7L200.3 583.9L191.2 556.7L184.4 525Z" fill="#bdfca0"/><path d="M213.8 538.6L250.1 538.6L250.1 570.3L232 570.3L213.8 552.2Z" fill="#98fcd4"/><path d="M234.2 565.8L245.5 565.8L245.5 577.1L234.2 577.1Z" fill="#1a8cff"/><path d="M236.5 548.8L243.3 548.8L243.3 555.6L236.5 555.6Z" fill="#ffec00"/><path d="M239.9 555.6L247.8 555.6L247.8 562.4L239.9 562.4Z" fill="#f01a00"/><path d="M299.9 511.4L320.2 500.1L320.2 545.4L299.9 545.4Z" fill="#bdfca0"/><path d="M385.8 353L458.3 353L458.3 366.6L385.8 366.6Z" fill="#bdfca0"/><path d="M492.2 353L548.8 353L548.8 382.4L492.2 382.4Z" fill="#bdfca0"/><path d="M553.3 353L573.7 353L573.7 366.6L553.3 366.6Z" fill="#bdfca0"/><path d="M505.8 355.3L514.8 355.3L514.8 364.3L505.8 364.3Z" fill="#ffa000"/></g><path d="M105.2 181L130.1 181L150.5 190.1L150.5 221.8L130.1 221.8L105.2 212.7Z" fill="#ffa000"/><path d="M107.5 194.6L130.1 192.3L134.6 212.7L123.3 221.8L109.7 212.7Z" fill="#f01a00"/><path d="M106.3 176.5L115.4 176.5L115.4 182.1L106.3 182.1Z" fill="#ffa000"/><path d="M131.3 95.1V612.3M244.9 95.1V612.3M358.5 95.1V612.3M472.1 95.1V612.3M585.7 95.1V612.3M55.6 245.4H661.5M55.6 355.6H661.5M55.6 452.3H661.5M55.6 549H661.5" stroke="#000" stroke-opacity="0.28" stroke-width="1.3" fill="none"/><g fill="none" stroke="#111" stroke-width="1.9" stroke-linejoin="round"><path d="M110.1 309.8L107.4 307.7L104.8 304.6L101.4 305.5L97.6 305.5L98 301.1L96.5 299.4L95.3 297.6L95.7 294.9L97.6 291.4L98.4 286.9L97.6 282.3L96.1 279.1L99.5 276.8L101.4 275L104.8 275.9L109.7 275.9L116.9 276.4L120.3 276.8L123.7 277.3L125.6 276.4L126.8 271.3L127.1 266.6L126.8 263.8L124.5 262.3L123 258.5L119.6 257.6L115 256.1L113.1 253.2L116.2 251.8L119.9 251.3L123.7 252.2L125.2 251.3L124.1 246.9L126.4 246.9L130.2 248.8L131.7 247.8L135.5 245.9L137.4 241.9L138.3 240.7L140.4 240.2L142.3 239.4L144.9 238.4L146.8 235.6L147.6 234.9L149.3 230.5L152.1 228.2L157.1 228.2L158.6 228.7L162 227.2L164.2 225.6L165 223.6L163.9 220.4L163.1 217.2L162 216.7L162 214.1L162.4 210.8L163.9 208.7L168.8 206.5L171.4 205.1L171.1 207L170.3 209.8L172.6 212.4L170.3 213.5L169.2 216.2L167.3 217.2L168.8 219.9L167.3 220.9L169.9 223L172.6 225.4L174.9 225.1L177.1 224.1L180.9 223.6L182 222L184.3 225.1L186.2 225.6L190.4 224.1L195.3 222L198 220.9L202.5 222L202.1 223L205.5 222.5L207 221.5L211.2 216.2L210.8 211.9L213.1 207L216.9 205.1L220.3 208.7L222.6 209.2L223.7 205.4L224.1 201.6L220.3 200.5L221.1 197.1L224.8 196L231.7 194.9L237.3 195.4L241.1 193.2L246 193.2L243 191.5L240 188.6L233.2 189.8L226 191.8L218.4 193.5L215.4 190.3L212.3 188.1L212.7 184L211.6 179.4L213.1 174.6L216.5 170.4L221.1 167.4L227.5 163.1L226.7 159.4L222.9 158.2L215 159.4L212.3 162.5L210.8 165L208.2 170.4L203.3 172.8L199.1 177.6L196.8 178.8L197.2 184L196.1 188.6L201 190.9L202.9 194.9L199.5 198.2L195.7 199.9L194.2 204.9L193.4 210.8L190.4 213.8L185.5 215.1L183.6 217.8L180.2 217.8L180.5 216.7L179.4 214.6L180 210.8L176.4 205.4L173.7 198.8L171.4 193.7L170.7 196.6L169.2 198.2L165.4 200.5L161.6 203.2L157.8 203.8L154 201L152.5 198.2L151.4 190.3L150.2 183.4L154.8 178.2L160.5 174.6L165.4 170.4L171.1 166.2L176.7 160L181.3 155L185.8 148.7L190 144.2L191.9 140.2L197.6 136.3L203.3 132.9L210.8 129.5L214.6 128.8L221.1 126.1L229 123.3L237.3 124L243 126.8L249.1 128.2L244.9 132.9L256.3 134.9L267.6 137.6L277.1 142.2L282.8 145.5L287.3 149.3L284.7 154.4L275.2 156.3L263.8 155L258.2 152.5L254.4 150L258.2 155.7L263.1 166.2L267.6 169.2L273.3 170.4L276 165.6L284.7 166.2L282 160L290.4 154.4L297.9 156.9L298.7 149.3L296 140.9L301.7 140.9L305.5 145.5L313.1 147.4L320.6 144.8L332 140.9L335.8 142.9L343.4 140.9L350.9 138.9L358.5 134.3L364.2 132.9L369.9 134.3L377.5 136.3L381.2 138.3L385 134.3L388.8 124L394.5 109.9L400.2 108.5L404 111.3L405.9 124L405.9 130.9L405.1 140.9L405.9 153.8L411.5 150.6L415.3 147.4L413.4 137.6L409.6 120.6L419.1 113.5L430.5 114.9L436.2 117L441.8 127.5L445.6 120.6L438 106.3L457 102.6L462.7 91.3L510 63.2L547.9 83.5L555.4 106.3L563 106.3L582 109.9L597.1 104.8L608.5 106.3L616 111.3L619.8 113.5L625.5 124L633.1 120.6L646.3 120.6L661.5 113.5L684.2 113.5L684.2 198.2L665.3 198.2L654.7 211.9L650.1 222.5L642.5 222L652 227.2L659.6 225.1L665.3 230.3L664.5 237.9L662.6 250.3L655.8 260L646.3 271.8L635 279.6L630.8 278.2L626.3 280.5L621.7 281L622.1 287.8L616 292.3L614.1 293.2L613.8 295.8L617.9 301.1L621.3 307.7L621.3 311.6L619.8 313.7L614.1 315.9L609.6 315.4L610.4 309.8L610.7 303.3L605.4 302L604.7 297.6L602 292.7L596.7 294.1L590.7 297.6L592.2 295.4L593.3 290L594.1 288.7L589.5 288.7L583.8 292.7L577.4 296.7L578.9 301.1L582 302.4L583.8 305.1L587.6 303.3L591 303.3L595.2 304.2L593.3 305.9L586.9 309.8L583.5 314.1L583.8 315.9L587.3 322.7L589.5 326L592.9 329L592.9 331.5L589.5 334L593.3 335.6L592.6 340.2L589.1 343.9L585.7 348.8L584.2 351.6L578.5 357.7L573.2 362.5L563.8 366.5L561.1 367.2L555.4 368.8L549.4 370.8L548.6 374.4L547.1 369.6L544.5 369.6L540.3 369.2L535.8 372.4L532.7 375.9L532 380.7L535 385.4L538.8 389.3L541.1 390.8L544.1 397L544.8 399.7L545.2 404.7L544.8 407L543.3 409.7L536.9 413.2L535 415.8L529.7 419.3L528.2 419.7L528.9 415.1L528.2 412.4L523.3 412L521.4 408.6L517.6 405.5L513.4 401.3L511.9 400.9L509.6 401.6L509.6 404.7L507.3 412.4L507.3 417.4L510 420.4L512.3 425L518.3 429.2L521.7 432.2L522.5 437.9L525.1 442.8L525.1 447.4L523.3 447.4L518.7 444L515.3 440.9L511.9 435.2L511.1 431.8L510.8 428L509.6 426.5L505.8 421.6L503.6 421.9L503.6 418.1L504.7 414.3L504.3 406.6L504.7 405.1L502.4 398.9L500.9 389.3L497.9 388.1L495.6 388.5L491.8 392L488.4 391.2L489.2 385.4L485.8 379.5L483.1 375.2L480.8 371.6L478.9 366.5L475.9 365.7L472.1 368L468.3 368.8L464.6 368.8L460.8 369.6L458.9 373.6L456.2 376.3L452.8 378.3L446.8 384.6L443 388.9L438 392L435 393.9L435.4 402.4L433.5 407L433.5 413.2L431.2 417L427.1 418.9L424.8 421.6L422.5 420L420.2 414.3L418.4 409.3L414.6 403.2L412.7 397L410.8 393.1L408.9 387.3L407 379.5L407 374L406.6 370.8L405.9 366.8L404.3 370.8L400.2 372.8L397.9 372L394.9 369.2L392.6 366.5L396.4 364.1L392.6 364.1L390.7 361.7L385 356.4L383.1 354L375.9 354.8L367.2 355.2L360.8 354.4L350.2 353.2L344.5 346.7L337.7 349.2L332 347.5L326.3 343.9L323.7 339.8L321.4 335.2L315 335.6L313.1 337.7L315 343.5L319.5 347.5L321.4 350.8L323.7 356.4L326.7 354.4L325.6 351.2L324.4 357.3L330.1 358.9L337.3 357.7L340.7 354.4L343.4 352.4L344.9 350.4L344.5 355.6L347.2 359.7L353.2 361.3L357.8 365.7L354 373.6L350.2 379.5L346.4 381.4L341.5 384.2L335.8 387.3L329 392L320.6 395.1L317.2 397L311.2 400.5L301.7 403.6L295.7 404L294.9 401.6L293.8 395.8L292.6 389.3L292.2 387.7L286.6 379.5L279.8 369.6L277.1 361.7L275.6 359.3L272.2 353.6L269.5 349.6L265.7 343.5L263.5 337.7L262 341.4L261.2 343.9L258.5 342.2L254.8 335.6L255.1 337.3L256.3 341.4L259.3 346.7L259.7 348.8L262 353.6L263.5 355.6L266.1 360.1L269.5 367.6L272.2 377.1L272.6 379.1L277.1 383.4L280.9 392.7L284.7 396.2L288.5 399.7L293 402.8L294.9 408.2L293 408.2L296 409.1L301.7 412.6L309.3 410.1L317.6 409.3L325.6 407.4L326 412.8L323.7 418.1L319.9 421.9L315 432.2L309.3 439L302.9 444.7L296 450.4L292.2 453.8L286.2 461L283.2 464.4L281.6 467.6L279.4 471.6L280.1 478.1L280.9 482.7L280.9 486.1L283.5 491.4L284.7 501.8L285.4 507.6L282.8 514.2L271.4 520.8L268.4 524.3L263.1 528.7L265 534.2L265.7 544.1L258.5 549.4L254.8 553L255.9 556.2L252.9 564.4L248.7 569L244.9 574.8L237 581.9L228.6 586.2L222.2 586.6L215 587L207 589.6L201.4 587.7L201 585.8L199.1 581.9L200.2 578.6L196.8 571.5L193.8 563.6L188.5 555.4L186.2 546.9L186.2 540.5L182.8 533L176.7 523.2L176 518.5L177.1 510.3L178.6 503.7L182 500.3L183.6 494.1L181.3 485.7L180.2 480L177.9 475L176 470.5L173 467.1L171.4 465.2L167.3 459.9L164.2 455L166.9 450.8L168 445.1L168.8 441.3L167.7 437.1L164.6 435.6L162.7 435.2L157.8 435.6L154 436L150.2 431.5L147.6 428.4L144.2 428L140.4 428.2L135.8 429.2L130.5 431.3L123.3 434.3L116.2 432.2L110.5 433.3L102.5 435.6L96.5 432.6L90.4 428.4L84.7 424.2L81.3 420L79.4 416.2L74.5 411.2L72.2 407L68.1 405.1L68.4 401.3L67.7 398.9L65 396.2L67.7 393.9L68.8 391.2L70.7 383L68.8 377.5L70 374.8L66.7 372.4L69.2 365.7L71.1 360.9L75.3 355.6L76.4 351.2L82.4 343.9L89.6 341L92.7 337.7L94.9 333.6L94.2 329L96.3 325.6L99.1 321.6L102.5 320.1L105.5 318.4L107.8 314.1L109.3 310.7L111.2 310.3L111.2 311.6L113.9 313.3L116.5 313.3L120.3 313.3L124.5 313.7L129 310.7L133.2 309L137 307.7L142.7 306.4L150.6 306.6L157.4 305.9L160.8 305.9L165.4 305.5L168.8 304.2L170.3 306.1L173 305.3L171.4 308.1L171.4 310.7L173.3 312L172.2 315.2L169.5 318.8L172.6 319.7L174.9 321.8L178.6 323.5L181.3 323.1L185.5 324.3L188.9 325.4L191.1 329.4L194.2 330.2L199.5 332.7L201.4 334L205.5 333.1L207 331.1L207.4 326.4L210.8 323.5L216.9 323.5L222.2 326.4L226.7 328.8L234.3 329.6L239.2 331.1L244.5 330.2L246.4 329L251.7 329L253.6 330L256.3 330.6L259.3 330.6L261.6 329L263.1 326.4L263.8 323.5L265.7 318.8L266.9 316.7L266.9 312L267.3 309L268.4 307.2L265.7 307.2L262.3 306.4L258.2 309L255.5 309.6L252.5 307.7L247.6 305.9L246.4 308.5L243 309L241.5 307.2L238.1 306.4L235.1 305.5L234.3 302L233.9 299.4L230.9 299.8L232.8 296.7L232.4 295.4L230.1 294.5L230.5 292.3L232 290.5L235.4 290.5L241.1 290.5L244.5 288.9L241.5 286.9L243.4 286.9L248.7 287.3L251.7 285.8L256.3 283.7L264.2 283.3L268.8 286.4L273.3 287.3L281.6 287.8L288.8 285.1L289.2 282.3L286.6 278.7L281.6 275.9L274.4 270.8L272.6 269.9L269.9 268L275.2 264.7L277.1 261.4L279.8 259L275.2 260L273.3 260L270.7 261.4L265.7 262.8L263.8 265.7L265.4 268.5L269.5 267.8L265.4 269.4L260.8 271.8L258.2 271.3L258.2 268.5L254.4 267.5L258.2 265.2L252.5 264.2L250.6 261.9L247.6 262.3L243.8 268.5L239.8 273.1L237 277.8L235.4 281L237.3 285.1L241.1 286.9L240.7 287.8L237.3 287.8L235.4 288L232.4 290.5L230.5 291.8L229.8 289.6L229.4 288.5L223.7 288.2L221.8 291.4L218.4 290.5L218 289.6L216.9 290.9L217.6 294.5L218.2 295.2L219.5 296.7L221.8 299.8L221.1 301.3L219.2 302L218.8 303.8L218.4 307.7L216.5 308.1L213.5 306.4L213.1 302.4L213.5 300L211.6 299.8L209.7 297.2L210.1 296.7L207.8 294.5L205.1 290.3L205 286.4L204.8 283.7L202.1 281.4L199.8 280.3L193.4 276.4L188.9 273.6L185.8 268L182.8 269.9L183.4 266.4L177.9 267.5L178.6 269.9L178.8 273.8L182.4 275.9L185.1 281.2L192.6 283.7L195.3 287.3L199.3 289.4L201 293.2L199.5 292L196.4 290.3L193.8 293.6L196.1 296.7L192.3 301.6L190.6 300.7L191.1 298.5L191.9 294.9L190.4 291.8L187.3 289.4L185.3 288.5L182.4 286.9L179 285.8L177.7 284.4L175.6 282.8L171.1 278.9L170.3 276.2L168.6 273.6L165.2 272.2L161.6 274.5L158.8 275.5L153.6 278.2L151.6 277.3L148.7 276.8L146.1 276.4L143 278.7L142.9 280.5L143.8 281.9L139.6 286L136 287.3L134.5 289.1L131.3 292.5L130.2 294.7L132.1 297.8L129.4 299.6L127.5 302.9L123 306.8L122 306.1L114.6 306.8L112.7 307.7L111 309.2L110.1 309.8Z"/><path d="M109.7 245.1L111.6 245.6L115.6 243.6L117.5 244.3L122 242.7L126.4 241.7L130.7 241.4L135 240.9L136.4 239.7L136.8 238.5L134 237.9L135.8 236.4L136.2 235.6L137.9 233L137.7 231.6L135.1 230.5L132.4 230.8L132.6 229.5L131.7 227.4L131 224.6L129 222.5L126.9 221.7L126 219.9L123.7 215.8L123.2 215.1L119.2 214.6L121.5 213.1L120.3 212.2L122 210.8L123.5 208.4L124.5 205.9L123.7 205.4L118 205.7L115.4 206.5L116.9 204.6L119.6 201.3L118.6 200.1L112.4 200.3L111.2 202.7L109.7 204.9L109.7 207.6L109.3 210.3L107.8 211.9L110.1 214.6L109.7 218.3L112.4 215.7L113.5 215.1L112.7 217.8L112.4 220.7L114.6 221.5L117.7 220.4L118.8 220.1L118 222.5L119.9 225.1L119.9 228.2L116.2 228.7L114.3 228.2L113.9 231.3L115.4 233.9L111.2 236L112.4 237.4L116.5 237.4L119.2 238.1L121.1 237.9L119.2 239.4L114.3 240.4L112 243.3L109.7 245.1Z"/><path d="M103.3 217.8L107.8 218.8L109 222L110.5 223.6L107.4 225.1L108.2 228.5L108.6 230.5L107.3 234.5L104.8 234.6L99.9 236.4L94.2 238.1L92.3 236.4L91.5 234.9L94.6 232.3L96.5 229L93.1 227.7L92.7 225.1L96.1 223.6L99.1 223.6L98.7 221.7L99.5 219.1L103.3 217.8Z"/><path d="M36.6 172.2L55.6 172.2L59.3 172.8L66.9 170.4L73.7 167.7L78.3 163.7L80.2 161.3L76.4 155.7L76 154.4L70.7 153.8L66.9 156.3L62.8 158.8L60.9 156.3L55.6 156.9L36.6 156.9Z"/><path d="M166.9 278.7L167.5 282.6L166.1 286L163.9 283.7L164.2 280.8L166.9 278.7Z"/><path d="M166.1 286.7L168 288.2L168 292.3L167.7 296.3L165.4 296.7L163.1 296.9L163.1 293.2L162.4 289.6L164.6 288L166.1 286.7Z"/><path d="M190.6 299.9L188.5 304.2L188.9 306.8L186.2 306.4L178.3 302L179.8 300.5L183.6 301.1L190.6 299.9Z"/><path d="M220.3 312L224.1 312.4L230.9 312.9L229.8 314.1L224.8 314.4L220.3 312.9L220.3 312Z"/><path d="M253.6 313.7L256.3 312.4L262.3 311.1L260.1 314.1L256.3 315.9L254 315L253.6 313.7Z"/><path d="M318 498L322.2 511.5L318.8 517.3L313.1 535L309.7 548.6L302.5 551L297.9 548.2L296.4 540.9L295.3 535L299.4 528.7L299.1 517.3L306.6 512.2L312.7 504.1L318 498Z"/><path d="M433.9 415.1L435.4 416.2L439.2 420L441.5 424.6L439.6 428.8L436.5 429.7L434.3 427.7L433.5 421.9L433.9 415.1Z"/><path d="M624.4 320.5L627.4 318.8L630.8 321.8L628.9 329.4L626.3 331.1L624.4 329.8L622.5 322.7L624.4 320.5Z"/><path d="M633.1 322.7L635 323.9L639.9 321L641 318L636.9 317.1L633.8 318.8L633.1 322.7Z"/><path d="M627 318.4L629.3 315.4L633.1 312.4L638.8 311.8L644.4 311.6L646.3 310.7L649 305.1L651.3 303.3L650.1 305.5L655.8 303.8L659.6 300.2L661.5 294.5L661.5 290L662.6 286.9L666.4 286L667.2 290L669.1 294.5L665.3 299.8L664.9 305.9L664.1 311.1L660.7 314.1L658.1 313.7L656.9 315.9L650.9 315.9L649.7 317.1L647.1 320.5L642.9 319.7L643.3 315.9L635 316.7L629.7 318.4L627 318.4Z"/><path d="M661.5 285.5L663 281L661.5 279.6L663.4 277.3L666.4 277.8L667.5 267.5L680.4 274.1L672.8 283.3L665.3 281L664.5 284.2L661.5 285.5Z"/><path d="M591.4 354.4L593.3 355.6L591.4 361.7L589.1 367.6L586.9 365.3L586.1 361.7L589.5 355.6L591.4 354.4Z"/><path d="M549.8 375.2L551.7 377.1L549.4 381.4L546 382.6L542.9 381.4L542.9 378.3L546 375.9L549.8 375.2Z"/><path d="M588 381.4L594.1 381.4L593.3 387.3L591.8 392L591.4 398.2L595.2 398.2L600.9 402.8L598.6 404L592.6 399.3L588 398.2L585.7 395.1L585.7 390.4L587.3 389.6L588 381.4Z"/><path d="M593.3 426.1L599 421.9L602.8 419.7L606.6 415.1L610.4 421.9L609.2 428.4L606.6 430.3L601.6 428.4L597.1 423.8L593.3 426.1Z"/><path d="M602 404.7L607.3 410.5L604.7 414.3L602 410.9L602 404.7Z"/><path d="M593.3 407.4L597.5 408.6L595.6 412.4L593.3 412L593.3 407.4Z"/><path d="M597.1 410.9L599.4 414.3L597.9 417.7L595.2 414.7L597.1 410.9Z"/><path d="M575.1 420L583.8 409.7L584.2 412.4L576.3 421.2L575.1 420Z"/><path d="M544.1 446.6L546.4 444.7L551.7 444.7L559.2 440.6L563.8 434.9L568.7 432.2L573.6 425.7L577 429.6L582.7 432.6L578.9 436L577 439L577.8 448.5L582 448.9L576.3 454.2L572.5 461.8L570.6 465.9L565.3 467.5L559.2 464.4L554.3 463.7L548.6 463.3L547.9 458L544.1 453.1L544.1 446.6Z"/><path d="M492.2 431.1L500.5 432.6L505.1 438.3L511.5 444L517.6 448.5L524 455L527 459.9L532.7 464.4L532 474.3L527 474.7L518.7 467.5L513.8 461.8L510 456.1L506.2 450.4L503.6 444.7L496.7 437.9L492.2 431.1Z"/><path d="M529.7 478.1L532.7 474.7L541.4 476.2L549.8 478.5L557.7 478.5L564.9 481.5L564.5 485.3L555.4 483.8L547.9 483L540.3 481.9L534.6 480.4L530.8 478.5L529.7 478.1Z"/><path d="M583.8 473.1L586.9 473.1L587.3 462.9L590.3 462.9L594.5 469.4L597.9 469.4L591.4 459.5L598.2 455.7L589.5 455.3L586.5 451.2L591.4 448.1L600.9 448.9L605.1 446.2L602.8 451.2L593.3 450.8L585.7 450L585 454.2L583.1 459.9L581.2 463.7L583.8 473.1Z"/><path d="M627.4 457.2L633.1 453.8L638.8 455.7L642.5 464.8L652 458L661.5 461.4L680.4 467.5L680.4 486.5L663.4 484.6L655.8 483.8L653.1 480.4L653.9 476.9L646.3 470.1L638.8 467.1L635 467.5L631.2 462.9L627.4 457.2Z"/><path d="M614.1 444L616 448.5L618.7 450.4L615.7 451.2L617.6 455.3L613.8 452.3L614.1 444Z"/><path d="M616 463.7L626.6 464.8L623.6 467.1L616.8 465.2L616 463.7Z"/><path d="M600.9 491.4L605.4 487.6L613.4 484.2L608.5 484.6L602.4 487.6L599 491.4L600.9 491.4Z"/><path d="M567.2 483L569.5 484.6L564.9 485.3L567.2 483Z"/><path d="M570.6 483.8L576.3 483.4L582 484.6L580.1 485.7L572.5 486.5L570.6 483.8Z"/><path d="M585 484.6L596.3 483.4L595.2 485.3L585.7 485.7L585 484.6Z"/><path d="M582 488.4L588.8 490.3L585.7 491.4L582 489.5L582 488.4Z"/><path d="M561.1 537L563 536.2L570.6 531.4L582 529L589.5 527.1L594.1 519.2L599 515L604.7 508L610.4 505.3L616 509.5L621.7 509.1L624.7 501L627.4 498.7L633.1 496L638.8 498L645.6 498.7L649.4 499.1L646 504.1L644.4 508.8L650.1 513L657.7 518.5L661.5 520L667.2 509.5L669.1 493L684.2 509.5L684.2 612.3L661.5 603.5L659.6 594.3L653.9 593L652 581.9L644.8 589.6L638.8 581.1L627.4 575.6L619.8 576.1L608.5 579L597.1 585.8L578.2 590.5L570.6 590.5L566.8 586.2L569.5 577.7L566.8 569.4L563 557.1L561.1 551L562.3 544.9L561.1 537Z"/><path d="M326.3 120.6L332 126.1L347.2 126.8L340.7 111.3L345.3 102.6L350.9 93.6L358.5 83.5L339.6 83.5L335.8 98.9L332 109.9L326.3 120.6Z"/><path d="M315 134.3L318.8 136.3L316.9 138.9L313.8 137.6L315 134.3Z"/><path d="M310.4 265.7L313.1 263.3L318.8 261.9L324.4 260L330.1 260.4L332.8 262.3L332 266.6L328.2 268L324.4 271.3L321.8 271.8L325.6 276.4L330.1 281L331.3 285.5L332 290L333.9 292.3L335.4 296.7L335.4 304.2L332 306.4L326.3 306.8L320.6 304.6L316.5 299.4L317.6 294.5L322.2 290.5L318.8 289.1L315.3 284.2L311.2 278.7L309.3 274.1L308.9 271.3L310.4 265.7Z"/><path d="M352.1 262.8L358.5 264.7L362.3 269.4L358.5 276.4L355.5 275.9L352.8 271.8L352.1 267.1L352.1 262.8Z"/><path d="M411.5 262.3L417.2 261.4L422.9 263.8L430.5 262.3L431.2 264.7L422.9 265.7L417.2 263.3L411.5 263.3L411.5 262.3Z"/><path d="M525.1 237.4L530.8 236.4L534.6 232.8L542.2 225.1L546 216.2L544.8 216.2L540.3 225.1L532.7 231.8L525.9 236.4L525.1 237.4Z"/><path d="M246.8 188.1L250.6 183.4L255.5 185.8L254.4 189.8L249.5 192.6L246.8 188.1Z"/><path d="M263.8 184L265 178.2L267.6 176.4L269.1 184L265.7 186.9L263.8 184Z"/><path d="M254.4 451.2L260.1 451.5L263.1 454.2L260.1 459.9L256.3 461.8L251.3 458L251.7 452.3L254.4 451.2Z"/><path d="M241.9 464.8L243 465.2L244.9 473.1L246.8 476.9L248.7 485.3L247.2 485.3L243.4 476.9L242.3 471.3L241.9 464.8Z"/><path d="M260.1 488.4L261.6 488.8L262.7 496L265 506.4L263.8 507.2L262 503.7L260.8 496L260.1 488.4Z"/></g></g><g fill="#000"><rect x="55.6" y="605.5" width="37.9" height="6.8"/><rect x="93.4" y="95.1" width="37.9" height="6.8"/><rect x="131.3" y="605.5" width="56.8" height="6.8"/><rect x="188.1" y="95.1" width="56.8" height="6.8"/><rect x="244.9" y="605.5" width="56.8" height="6.8"/><rect x="301.7" y="95.1" width="56.8" height="6.8"/><rect x="358.5" y="605.5" width="56.8" height="6.8"/><rect x="415.3" y="95.1" width="56.8" height="6.8"/><rect x="472.1" y="605.5" width="56.8" height="6.8"/><rect x="528.9" y="95.1" width="56.8" height="6.8"/><rect x="585.7" y="605.5" width="37.9" height="6.8"/><rect x="623.6" y="95.1" width="37.9" height="6.8"/><rect x="654.7" y="95.1" width="6.8" height="83.1"/><rect x="55.6" y="178.2" width="6.8" height="67.2"/><rect x="654.7" y="245.4" width="6.8" height="57.9"/><rect x="55.6" y="303.3" width="6.8" height="52.3"/><rect x="654.7" y="355.6" width="6.8" height="49.1"/><rect x="55.6" y="404.7" width="6.8" height="47.6"/><rect x="654.7" y="452.3" width="6.8" height="47.6"/><rect x="55.6" y="499.9" width="6.8" height="49.1"/><rect x="654.7" y="549" width="6.8" height="30.9"/><rect x="55.6" y="579.8" width="6.8" height="32.5"/></g><rect x="55.6" y="95.1" width="605.9" height="517.2" fill="none" stroke="#000" stroke-width="1.3"/><rect x="62.4" y="101.9" width="592.3" height="503.6" fill="none" stroke="#000" stroke-width="1.3"/><path d="M55.6 95.1L62.4 101.9M654.7 605.5L661.5 612.3" stroke="#000" stroke-width="1.3"/><text x="97.7" y="148.3" font-size="52" font-weight="bold" letter-spacing="0.5">b)</text><text x="48.5" y="100.4" text-anchor="end" font-size="20.8">75°N</text><text x="48.5" y="250.7" text-anchor="end" font-size="20.8">50°N</text><text x="48.5" y="360.9" text-anchor="end" font-size="20.8">25°N</text><text x="48.5" y="457.6" text-anchor="end" font-size="20.8">0°</text><text x="48.5" y="554.3" text-anchor="end" font-size="20.8">25°S</text><text x="133.3" y="628.5" text-anchor="middle" font-size="20.8">0°</text><text x="246.9" y="628.5" text-anchor="middle" font-size="20.8">30°E</text><text x="360.5" y="628.5" text-anchor="middle" font-size="20.8">60°E</text><text x="474.1" y="628.5" text-anchor="middle" font-size="20.8">90°E</text><text x="587.7" y="628.5" text-anchor="middle" font-size="20.8">120°E</text></g><g transform="translate(1369.6 0)"><g clip-path="url(#clipA)"><g clip-path="url(#landA)"><path d="M110.1 309.8L107.4 307.7L104.8 304.6L101.4 305.5L97.6 305.5L98 301.1L96.5 299.4L95.3 297.6L95.7 294.9L97.6 291.4L98.4 286.9L97.6 282.3L96.1 279.1L99.5 276.8L101.4 275L104.8 275.9L109.7 275.9L116.9 276.4L120.3 276.8L123.7 277.3L125.6 276.4L126.8 271.3L127.1 266.6L126.8 263.8L124.5 262.3L123 258.5L119.6 257.6L115 256.1L113.1 253.2L116.2 251.8L119.9 251.3L123.7 252.2L125.2 251.3L124.1 246.9L126.4 246.9L130.2 248.8L131.7 247.8L135.5 245.9L137.4 241.9L138.3 240.7L140.4 240.2L142.3 239.4L144.9 238.4L146.8 235.6L147.6 234.9L149.3 230.5L152.1 228.2L157.1 228.2L158.6 228.7L162 227.2L164.2 225.6L165 223.6L163.9 220.4L163.1 217.2L162 216.7L162 214.1L162.4 210.8L163.9 208.7L168.8 206.5L171.4 205.1L171.1 207L170.3 209.8L172.6 212.4L170.3 213.5L169.2 216.2L167.3 217.2L168.8 219.9L167.3 220.9L169.9 223L172.6 225.4L174.9 225.1L177.1 224.1L180.9 223.6L182 222L184.3 225.1L186.2 225.6L190.4 224.1L195.3 222L198 220.9L202.5 222L202.1 223L205.5 222.5L207 221.5L211.2 216.2L210.8 211.9L213.1 207L216.9 205.1L220.3 208.7L222.6 209.2L223.7 205.4L224.1 201.6L220.3 200.5L221.1 197.1L224.8 196L231.7 194.9L237.3 195.4L241.1 193.2L246 193.2L243 191.5L240 188.6L233.2 189.8L226 191.8L218.4 193.5L215.4 190.3L212.3 188.1L212.7 184L211.6 179.4L213.1 174.6L216.5 170.4L221.1 167.4L227.5 163.1L226.7 159.4L222.9 158.2L215 159.4L212.3 162.5L210.8 165L208.2 170.4L203.3 172.8L199.1 177.6L196.8 178.8L197.2 184L196.1 188.6L201 190.9L202.9 194.9L199.5 198.2L195.7 199.9L194.2 204.9L193.4 210.8L190.4 213.8L185.5 215.1L183.6 217.8L180.2 217.8L180.5 216.7L179.4 214.6L180 210.8L176.4 205.4L173.7 198.8L171.4 193.7L170.7 196.6L169.2 198.2L165.4 200.5L161.6 203.2L157.8 203.8L154 201L152.5 198.2L151.4 190.3L150.2 183.4L154.8 178.2L160.5 174.6L165.4 170.4L171.1 166.2L176.7 160L181.3 155L185.8 148.7L190 144.2L191.9 140.2L197.6 136.3L203.3 132.9L210.8 129.5L214.6 128.8L221.1 126.1L229 123.3L237.3 124L243 126.8L249.1 128.2L244.9 132.9L256.3 134.9L267.6 137.6L277.1 142.2L282.8 145.5L287.3 149.3L284.7 154.4L275.2 156.3L263.8 155L258.2 152.5L254.4 150L258.2 155.7L263.1 166.2L267.6 169.2L273.3 170.4L276 165.6L284.7 166.2L282 160L290.4 154.4L297.9 156.9L298.7 149.3L296 140.9L301.7 140.9L305.5 145.5L313.1 147.4L320.6 144.8L332 140.9L335.8 142.9L343.4 140.9L350.9 138.9L358.5 134.3L364.2 132.9L369.9 134.3L377.5 136.3L381.2 138.3L385 134.3L388.8 124L394.5 109.9L400.2 108.5L404 111.3L405.9 124L405.9 130.9L405.1 140.9L405.9 153.8L411.5 150.6L415.3 147.4L413.4 137.6L409.6 120.6L419.1 113.5L430.5 114.9L436.2 117L441.8 127.5L445.6 120.6L438 106.3L457 102.6L462.7 91.3L510 63.2L547.9 83.5L555.4 106.3L563 106.3L582 109.9L597.1 104.8L608.5 106.3L616 111.3L619.8 113.5L625.5 124L633.1 120.6L646.3 120.6L661.5 113.5L684.2 113.5L684.2 198.2L665.3 198.2L654.7 211.9L650.1 222.5L642.5 222L652 227.2L659.6 225.1L665.3 230.3L664.5 237.9L662.6 250.3L655.8 260L646.3 271.8L635 279.6L630.8 278.2L626.3 280.5L621.7 281L622.1 287.8L616 292.3L614.1 293.2L613.8 295.8L617.9 301.1L621.3 307.7L621.3 311.6L619.8 313.7L614.1 315.9L609.6 315.4L610.4 309.8L610.7 303.3L605.4 302L604.7 297.6L602 292.7L596.7 294.1L590.7 297.6L592.2 295.4L593.3 290L594.1 288.7L589.5 288.7L583.8 292.7L577.4 296.7L578.9 301.1L582 302.4L583.8 305.1L587.6 303.3L591 303.3L595.2 304.2L593.3 305.9L586.9 309.8L583.5 314.1L583.8 315.9L587.3 322.7L589.5 326L592.9 329L592.9 331.5L589.5 334L593.3 335.6L592.6 340.2L589.1 343.9L585.7 348.8L584.2 351.6L578.5 357.7L573.2 362.5L563.8 366.5L561.1 367.2L555.4 368.8L549.4 370.8L548.6 374.4L547.1 369.6L544.5 369.6L540.3 369.2L535.8 372.4L532.7 375.9L532 380.7L535 385.4L538.8 389.3L541.1 390.8L544.1 397L544.8 399.7L545.2 404.7L544.8 407L543.3 409.7L536.9 413.2L535 415.8L529.7 419.3L528.2 419.7L528.9 415.1L528.2 412.4L523.3 412L521.4 408.6L517.6 405.5L513.4 401.3L511.9 400.9L509.6 401.6L509.6 404.7L507.3 412.4L507.3 417.4L510 420.4L512.3 425L518.3 429.2L521.7 432.2L522.5 437.9L525.1 442.8L525.1 447.4L523.3 447.4L518.7 444L515.3 440.9L511.9 435.2L511.1 431.8L510.8 428L509.6 426.5L505.8 421.6L503.6 421.9L503.6 418.1L504.7 414.3L504.3 406.6L504.7 405.1L502.4 398.9L500.9 389.3L497.9 388.1L495.6 388.5L491.8 392L488.4 391.2L489.2 385.4L485.8 379.5L483.1 375.2L480.8 371.6L478.9 366.5L475.9 365.7L472.1 368L468.3 368.8L464.6 368.8L460.8 369.6L458.9 373.6L456.2 376.3L452.8 378.3L446.8 384.6L443 388.9L438 392L435 393.9L435.4 402.4L433.5 407L433.5 413.2L431.2 417L427.1 418.9L424.8 421.6L422.5 420L420.2 414.3L418.4 409.3L414.6 403.2L412.7 397L410.8 393.1L408.9 387.3L407 379.5L407 374L406.6 370.8L405.9 366.8L404.3 370.8L400.2 372.8L397.9 372L394.9 369.2L392.6 366.5L396.4 364.1L392.6 364.1L390.7 361.7L385 356.4L383.1 354L375.9 354.8L367.2 355.2L360.8 354.4L350.2 353.2L344.5 346.7L337.7 349.2L332 347.5L326.3 343.9L323.7 339.8L321.4 335.2L315 335.6L313.1 337.7L315 343.5L319.5 347.5L321.4 350.8L323.7 356.4L326.7 354.4L325.6 351.2L324.4 357.3L330.1 358.9L337.3 357.7L340.7 354.4L343.4 352.4L344.9 350.4L344.5 355.6L347.2 359.7L353.2 361.3L357.8 365.7L354 373.6L350.2 379.5L346.4 381.4L341.5 384.2L335.8 387.3L329 392L320.6 395.1L317.2 397L311.2 400.5L301.7 403.6L295.7 404L294.9 401.6L293.8 395.8L292.6 389.3L292.2 387.7L286.6 379.5L279.8 369.6L277.1 361.7L275.6 359.3L272.2 353.6L269.5 349.6L265.7 343.5L263.5 337.7L262 341.4L261.2 343.9L258.5 342.2L254.8 335.6L255.1 337.3L256.3 341.4L259.3 346.7L259.7 348.8L262 353.6L263.5 355.6L266.1 360.1L269.5 367.6L272.2 377.1L272.6 379.1L277.1 383.4L280.9 392.7L284.7 396.2L288.5 399.7L293 402.8L294.9 408.2L293 408.2L296 409.1L301.7 412.6L309.3 410.1L317.6 409.3L325.6 407.4L326 412.8L323.7 418.1L319.9 421.9L315 432.2L309.3 439L302.9 444.7L296 450.4L292.2 453.8L286.2 461L283.2 464.4L281.6 467.6L279.4 471.6L280.1 478.1L280.9 482.7L280.9 486.1L283.5 491.4L284.7 501.8L285.4 507.6L282.8 514.2L271.4 520.8L268.4 524.3L263.1 528.7L265 534.2L265.7 544.1L258.5 549.4L254.8 553L255.9 556.2L252.9 564.4L248.7 569L244.9 574.8L237 581.9L228.6 586.2L222.2 586.6L215 587L207 589.6L201.4 587.7L201 585.8L199.1 581.9L200.2 578.6L196.8 571.5L193.8 563.6L188.5 555.4L186.2 546.9L186.2 540.5L182.8 533L176.7 523.2L176 518.5L177.1 510.3L178.6 503.7L182 500.3L183.6 494.1L181.3 485.7L180.2 480L177.9 475L176 470.5L173 467.1L171.4 465.2L167.3 459.9L164.2 455L166.9 450.8L168 445.1L168.8 441.3L167.7 437.1L164.6 435.6L162.7 435.2L157.8 435.6L154 436L150.2 431.5L147.6 428.4L144.2 428L140.4 428.2L135.8 429.2L130.5 431.3L123.3 434.3L116.2 432.2L110.5 433.3L102.5 435.6L96.5 432.6L90.4 428.4L84.7 424.2L81.3 420L79.4 416.2L74.5 411.2L72.2 407L68.1 405.1L68.4 401.3L67.7 398.9L65 396.2L67.7 393.9L68.8 391.2L70.7 383L68.8 377.5L70 374.8L66.7 372.4L69.2 365.7L71.1 360.9L75.3 355.6L76.4 351.2L82.4 343.9L89.6 341L92.7 337.7L94.9 333.6L94.2 329L96.3 325.6L99.1 321.6L102.5 320.1L105.5 318.4L107.8 314.1L109.3 310.7L111.2 310.3L111.2 311.6L113.9 313.3L116.5 313.3L120.3 313.3L124.5 313.7L129 310.7L133.2 309L137 307.7L142.7 306.4L150.6 306.6L157.4 305.9L160.8 305.9L165.4 305.5L168.8 304.2L170.3 306.1L173 305.3L171.4 308.1L171.4 310.7L173.3 312L172.2 315.2L169.5 318.8L172.6 319.7L174.9 321.8L178.6 323.5L181.3 323.1L185.5 324.3L188.9 325.4L191.1 329.4L194.2 330.2L199.5 332.7L201.4 334L205.5 333.1L207 331.1L207.4 326.4L210.8 323.5L216.9 323.5L222.2 326.4L226.7 328.8L234.3 329.6L239.2 331.1L244.5 330.2L246.4 329L251.7 329L253.6 330L256.3 330.6L259.3 330.6L261.6 329L263.1 326.4L263.8 323.5L265.7 318.8L266.9 316.7L266.9 312L267.3 309L268.4 307.2L265.7 307.2L262.3 306.4L258.2 309L255.5 309.6L252.5 307.7L247.6 305.9L246.4 308.5L243 309L241.5 307.2L238.1 306.4L235.1 305.5L234.3 302L233.9 299.4L230.9 299.8L232.8 296.7L232.4 295.4L230.1 294.5L230.5 292.3L232 290.5L235.4 290.5L241.1 290.5L244.5 288.9L241.5 286.9L243.4 286.9L248.7 287.3L251.7 285.8L256.3 283.7L264.2 283.3L268.8 286.4L273.3 287.3L281.6 287.8L288.8 285.1L289.2 282.3L286.6 278.7L281.6 275.9L274.4 270.8L272.6 269.9L269.9 268L275.2 264.7L277.1 261.4L279.8 259L275.2 260L273.3 260L270.7 261.4L265.7 262.8L263.8 265.7L265.4 268.5L269.5 267.8L265.4 269.4L260.8 271.8L258.2 271.3L258.2 268.5L254.4 267.5L258.2 265.2L252.5 264.2L250.6 261.9L247.6 262.3L243.8 268.5L239.8 273.1L237 277.8L235.4 281L237.3 285.1L241.1 286.9L240.7 287.8L237.3 287.8L235.4 288L232.4 290.5L230.5 291.8L229.8 289.6L229.4 288.5L223.7 288.2L221.8 291.4L218.4 290.5L218 289.6L216.9 290.9L217.6 294.5L218.2 295.2L219.5 296.7L221.8 299.8L221.1 301.3L219.2 302L218.8 303.8L218.4 307.7L216.5 308.1L213.5 306.4L213.1 302.4L213.5 300L211.6 299.8L209.7 297.2L210.1 296.7L207.8 294.5L205.1 290.3L205 286.4L204.8 283.7L202.1 281.4L199.8 280.3L193.4 276.4L188.9 273.6L185.8 268L182.8 269.9L183.4 266.4L177.9 267.5L178.6 269.9L178.8 273.8L182.4 275.9L185.1 281.2L192.6 283.7L195.3 287.3L199.3 289.4L201 293.2L199.5 292L196.4 290.3L193.8 293.6L196.1 296.7L192.3 301.6L190.6 300.7L191.1 298.5L191.9 294.9L190.4 291.8L187.3 289.4L185.3 288.5L182.4 286.9L179 285.8L177.7 284.4L175.6 282.8L171.1 278.9L170.3 276.2L168.6 273.6L165.2 272.2L161.6 274.5L158.8 275.5L153.6 278.2L151.6 277.3L148.7 276.8L146.1 276.4L143 278.7L142.9 280.5L143.8 281.9L139.6 286L136 287.3L134.5 289.1L131.3 292.5L130.2 294.7L132.1 297.8L129.4 299.6L127.5 302.9L123 306.8L122 306.1L114.6 306.8L112.7 307.7L111 309.2L110.1 309.8ZM109.7 245.1L111.6 245.6L115.6 243.6L117.5 244.3L122 242.7L126.4 241.7L130.7 241.4L135 240.9L136.4 239.7L136.8 238.5L134 237.9L135.8 236.4L136.2 235.6L137.9 233L137.7 231.6L135.1 230.5L132.4 230.8L132.6 229.5L131.7 227.4L131 224.6L129 222.5L126.9 221.7L126 219.9L123.7 215.8L123.2 215.1L119.2 214.6L121.5 213.1L120.3 212.2L122 210.8L123.5 208.4L124.5 205.9L123.7 205.4L118 205.7L115.4 206.5L116.9 204.6L119.6 201.3L118.6 200.1L112.4 200.3L111.2 202.7L109.7 204.9L109.7 207.6L109.3 210.3L107.8 211.9L110.1 214.6L109.7 218.3L112.4 215.7L113.5 215.1L112.7 217.8L112.4 220.7L114.6 221.5L117.7 220.4L118.8 220.1L118 222.5L119.9 225.1L119.9 228.2L116.2 228.7L114.3 228.2L113.9 231.3L115.4 233.9L111.2 236L112.4 237.4L116.5 237.4L119.2 238.1L121.1 237.9L119.2 239.4L114.3 240.4L112 243.3L109.7 245.1ZM103.3 217.8L107.8 218.8L109 222L110.5 223.6L107.4 225.1L108.2 228.5L108.6 230.5L107.3 234.5L104.8 234.6L99.9 236.4L94.2 238.1L92.3 236.4L91.5 234.9L94.6 232.3L96.5 229L93.1 227.7L92.7 225.1L96.1 223.6L99.1 223.6L98.7 221.7L99.5 219.1L103.3 217.8ZM36.6 172.2L55.6 172.2L59.3 172.8L66.9 170.4L73.7 167.7L78.3 163.7L80.2 161.3L76.4 155.7L76 154.4L70.7 153.8L66.9 156.3L62.8 158.8L60.9 156.3L55.6 156.9L36.6 156.9ZM166.9 278.7L167.5 282.6L166.1 286L163.9 283.7L164.2 280.8L166.9 278.7ZM166.1 286.7L168 288.2L168 292.3L167.7 296.3L165.4 296.7L163.1 296.9L163.1 293.2L162.4 289.6L164.6 288L166.1 286.7ZM190.6 299.9L188.5 304.2L188.9 306.8L186.2 306.4L178.3 302L179.8 300.5L183.6 301.1L190.6 299.9ZM220.3 312L224.1 312.4L230.9 312.9L229.8 314.1L224.8 314.4L220.3 312.9L220.3 312ZM253.6 313.7L256.3 312.4L262.3 311.1L260.1 314.1L256.3 315.9L254 315L253.6 313.7ZM318 498L322.2 511.5L318.8 517.3L313.1 535L309.7 548.6L302.5 551L297.9 548.2L296.4 540.9L295.3 535L299.4 528.7L299.1 517.3L306.6 512.2L312.7 504.1L318 498ZM624.4 320.5L627.4 318.8L630.8 321.8L628.9 329.4L626.3 331.1L624.4 329.8L622.5 322.7L624.4 320.5ZM633.1 322.7L635 323.9L639.9 321L641 318L636.9 317.1L633.8 318.8L633.1 322.7ZM627 318.4L629.3 315.4L633.1 312.4L638.8 311.8L644.4 311.6L646.3 310.7L649 305.1L651.3 303.3L650.1 305.5L655.8 303.8L659.6 300.2L661.5 294.5L661.5 290L662.6 286.9L666.4 286L667.2 290L669.1 294.5L665.3 299.8L664.9 305.9L664.1 311.1L660.7 314.1L658.1 313.7L656.9 315.9L650.9 315.9L649.7 317.1L647.1 320.5L642.9 319.7L643.3 315.9L635 316.7L629.7 318.4L627 318.4ZM661.5 285.5L663 281L661.5 279.6L663.4 277.3L666.4 277.8L667.5 267.5L680.4 274.1L672.8 283.3L665.3 281L664.5 284.2L661.5 285.5ZM591.4 354.4L593.3 355.6L591.4 361.7L589.1 367.6L586.9 365.3L586.1 361.7L589.5 355.6L591.4 354.4ZM549.8 375.2L551.7 377.1L549.4 381.4L546 382.6L542.9 381.4L542.9 378.3L546 375.9L549.8 375.2ZM588 381.4L594.1 381.4L593.3 387.3L591.8 392L591.4 398.2L595.2 398.2L600.9 402.8L598.6 404L592.6 399.3L588 398.2L585.7 395.1L585.7 390.4L587.3 389.6L588 381.4ZM593.3 426.1L599 421.9L602.8 419.7L606.6 415.1L610.4 421.9L609.2 428.4L606.6 430.3L601.6 428.4L597.1 423.8L593.3 426.1ZM602 404.7L607.3 410.5L604.7 414.3L602 410.9L602 404.7ZM593.3 407.4L597.5 408.6L595.6 412.4L593.3 412L593.3 407.4ZM597.1 410.9L599.4 414.3L597.9 417.7L595.2 414.7L597.1 410.9ZM575.1 420L583.8 409.7L584.2 412.4L576.3 421.2L575.1 420ZM492.2 431.1L500.5 432.6L505.1 438.3L511.5 444L517.6 448.5L524 455L527 459.9L532.7 464.4L532 474.3L527 474.7L518.7 467.5L513.8 461.8L510 456.1L506.2 450.4L503.6 444.7L496.7 437.9L492.2 431.1ZM529.7 478.1L532.7 474.7L541.4 476.2L549.8 478.5L557.7 478.5L564.9 481.5L564.5 485.3L555.4 483.8L547.9 483L540.3 481.9L534.6 480.4L530.8 478.5L529.7 478.1Z" fill="#bdfca0"/><path d="M123.3 95L361.4 95L361.4 201.4L281.7 199.1L243.3 198L243.3 185.5L177.6 185.5L177.6 212.7L150.5 212.7L123.3 196.9Z" fill="#ffffff"/><path d="M100.7 174.2L150.5 181L150.5 212.7L191.2 217.2L259.1 221.8L349.7 226.3L349.7 262.5L304.4 267L259.1 262.5L213.8 258L168.6 253.4L134.6 248.9L100.7 244.4Z" fill="#14c4ff"/><path d="M105.2 192.3L134.6 192.3L141.4 221.8L191.2 224L259.1 233.1L304.4 242.1L338.3 248.9L338.3 260.2L304.4 260.2L259.1 253.4L213.8 248.9L168.6 244.4L134.6 242.1L105.2 230.8Z" fill="#1a8cff"/><path d="M188.9 228.5L230.8 228.5L243.3 239.4L296.5 243.3L296.5 256.6L241 256.6L229.9 245.3L188.9 244.4Z" fill="#0c10d8"/><path d="M102.9 194.6L123.3 192.3L125.6 212.7L114.3 221.8L102.9 212.7Z" fill="#0c10d8"/><path d="M92.7 218.4L110.9 218.4L110.9 238.7L92.7 238.7Z" fill="#eefa50"/><path d="M102.9 239.9L132.4 239.9L132.4 273.8L112 273.8L102.9 253.4Z" fill="#ffc800"/><path d="M132.4 251.2L213.8 251.2L213.8 276.1L132.4 276.1Z" fill="#6af8e8"/><path d="M99.5 273.8L132.4 273.8L132.4 294.2L99.5 294.2Z" fill="#14c4ff"/><path d="M99.5 294.2L132.4 294.2L132.4 310L99.5 310Z" fill="#d8fe8c"/><path d="M173.1 267L241 267L241 298.7L173.1 298.7Z" fill="#14c4ff"/><path d="M182.2 271.6L191.2 271.6L200.3 294.2L191.2 294.2Z" fill="#1a8cff"/><path d="M202.5 276.1L227.4 276.1L227.4 289.7L202.5 289.7Z" fill="#1a8cff"/><path d="M218.4 289.7L236.5 289.7L236.5 305.5L218.4 305.5Z" fill="#ffec00"/><path d="M241 267L295.3 267L295.3 310L241 310Z" fill="#14c4ff"/><path d="M247.8 282.9L281.7 282.9L281.7 294.2L247.8 294.2Z" fill="#0c10d8"/><path d="M306.6 258L340.6 258L340.6 310L306.6 310Z" fill="#14c4ff"/><path d="M293.1 298.7L361.4 298.7L361.4 321.3L293.1 321.3Z" fill="#98fcd4"/><path d="M55.4 310L361.4 310L361.4 355.1L55.4 355.1Z" fill="#98fcd4"/><path d="M173.1 307.8L191.2 307.8L191.2 316.8L173.1 316.8Z" fill="#ffec00"/><path d="M356.4 95L662.4 95L662.4 262.5L650.7 262.5L605.4 276.1L582.7 287.4L560.1 280.6L503.5 271.6L469.6 253.4L424.3 248.9L356.4 246.7Z" fill="#ffffff"/><path d="M424.3 298.7L503.5 298.7L571.4 312.3L573.7 344L560.1 355.1L435.6 355.1L435.6 321.3L419.8 312.3Z" fill="#ffffff"/><path d="M356.4 262.5L401.7 262.5L401.7 321.3L356.4 321.3Z" fill="#6af8e8"/><path d="M424.3 273.8L503.5 273.8L503.5 298.7L424.3 298.7Z" fill="#6af8e8"/><path d="M435.6 279.5L492.2 279.5L492.2 288.5L435.6 288.5Z" fill="#1a8cff"/><path d="M503.5 282.9L571.4 282.9L571.4 310L503.5 310Z" fill="#98fcd4"/><path d="M401.7 316.8L431.1 316.8L431.1 355.1L401.7 355.1Z" fill="#ffec00"/><path d="M582.7 298.7L616.7 298.7L616.7 319.1L582.7 319.1Z" fill="#ffec00"/><path d="M612.2 267L650.7 262.5L650.7 276.1L623.5 298.7L612.2 298.7Z" fill="#1a8cff"/><path d="M628 268.2L648.4 268.2L648.4 273.8L628 273.8Z" fill="#0c10d8"/><path d="M55.4 353L281.7 353L281.7 373.4L55.4 373.4Z" fill="#98fcd4"/><path d="M69 371.1L281.7 373.4L281.7 405.1L69 405.1Z" fill="#def67e"/><path d="M218.4 393.7L243.3 393.7L243.3 406.2L218.4 406.2Z" fill="#ffec00"/><path d="M75.8 405.1L259.1 407.3L259.1 427.7L243.3 443.5L168.6 427.7L75.8 427.7Z" fill="#ffffff"/><path d="M168.6 427.7L243.3 427.7L243.3 511.4L225.2 529.6L202.5 525L191.2 488.8L173.1 466.2Z" fill="#ffffff"/><path d="M259.1 427.7L272.7 427.7L272.7 484.3L259.1 484.3Z" fill="#ffec00"/><path d="M272.7 402.8L286.3 402.8L286.3 420.9L272.7 420.9Z" fill="#1a8cff"/><path d="M281.7 405.1L324.8 407.3L304.4 443.5L281.7 461.6Z" fill="#98fcd4"/><path d="M182.2 509.2L195.7 509.2L227.4 534.1L252.3 552.2L250.1 561.2L225.2 552.2L191.2 527.3L182.2 520.5Z" fill="#ffec00"/><path d="M229.7 561.2L247.8 561.2L247.8 574.8L229.7 574.8Z" fill="#6af8e8"/><path d="M241 561.2L247.8 561.2L247.8 568L241 568Z" fill="#1a8cff"/><path d="M304.4 511.4L318 511.4L315.7 545.4L304.4 545.4Z" fill="#eefa50"/><path d="M281.7 353L361.4 353L361.4 402.8L293.1 407.3Z" fill="#98fcd4"/><path d="M413 353L435.6 353L435.6 362.1L413 362.1Z" fill="#ffec00"/><path d="M503.5 366.6L528.4 366.6L528.4 377.9L503.5 377.9Z" fill="#ffec00"/><path d="M514.8 384.7L548.8 384.7L548.8 443.5L514.8 443.5Z" fill="#ffffff"/><path d="M394.9 375.6L483.2 375.6L483.2 394.9L394.9 394.9Z" fill="#ffffff"/><path d="M619 298.7L662.4 294.2L662.4 355.1L619 355.1Z" fill="#ffffff"/><path d="M487.7 427.7L662.4 427.7L662.4 511.4L487.7 511.4Z" fill="#ffffff"/><path d="M582.7 375.6L616.7 375.6L616.7 432.2L582.7 432.2Z" fill="#ffffff"/></g><path d="M102.9 181L132.4 183.3L141.4 201.4L136.9 221.8L114.3 244.4L102.9 230.8Z" fill="#1a8cff"/><path d="M104.1 176.5L115.4 176.5L115.4 182.1L104.1 182.1Z" fill="#0c10d8"/><path d="M131.3 95.1V612.3M244.9 95.1V612.3M358.5 95.1V612.3M472.1 95.1V612.3M585.7 95.1V612.3M55.6 245.4H661.5M55.6 355.6H661.5M55.6 452.3H661.5M55.6 549H661.5" stroke="#000" stroke-opacity="0.28" stroke-width="1.3" fill="none"/><g fill="none" stroke="#111" stroke-width="1.9" stroke-linejoin="round"><path d="M110.1 309.8L107.4 307.7L104.8 304.6L101.4 305.5L97.6 305.5L98 301.1L96.5 299.4L95.3 297.6L95.7 294.9L97.6 291.4L98.4 286.9L97.6 282.3L96.1 279.1L99.5 276.8L101.4 275L104.8 275.9L109.7 275.9L116.9 276.4L120.3 276.8L123.7 277.3L125.6 276.4L126.8 271.3L127.1 266.6L126.8 263.8L124.5 262.3L123 258.5L119.6 257.6L115 256.1L113.1 253.2L116.2 251.8L119.9 251.3L123.7 252.2L125.2 251.3L124.1 246.9L126.4 246.9L130.2 248.8L131.7 247.8L135.5 245.9L137.4 241.9L138.3 240.7L140.4 240.2L142.3 239.4L144.9 238.4L146.8 235.6L147.6 234.9L149.3 230.5L152.1 228.2L157.1 228.2L158.6 228.7L162 227.2L164.2 225.6L165 223.6L163.9 220.4L163.1 217.2L162 216.7L162 214.1L162.4 210.8L163.9 208.7L168.8 206.5L171.4 205.1L171.1 207L170.3 209.8L172.6 212.4L170.3 213.5L169.2 216.2L167.3 217.2L168.8 219.9L167.3 220.9L169.9 223L172.6 225.4L174.9 225.1L177.1 224.1L180.9 223.6L182 222L184.3 225.1L186.2 225.6L190.4 224.1L195.3 222L198 220.9L202.5 222L202.1 223L205.5 222.5L207 221.5L211.2 216.2L210.8 211.9L213.1 207L216.9 205.1L220.3 208.7L222.6 209.2L223.7 205.4L224.1 201.6L220.3 200.5L221.1 197.1L224.8 196L231.7 194.9L237.3 195.4L241.1 193.2L246 193.2L243 191.5L240 188.6L233.2 189.8L226 191.8L218.4 193.5L215.4 190.3L212.3 188.1L212.7 184L211.6 179.4L213.1 174.6L216.5 170.4L221.1 167.4L227.5 163.1L226.7 159.4L222.9 158.2L215 159.4L212.3 162.5L210.8 165L208.2 170.4L203.3 172.8L199.1 177.6L196.8 178.8L197.2 184L196.1 188.6L201 190.9L202.9 194.9L199.5 198.2L195.7 199.9L194.2 204.9L193.4 210.8L190.4 213.8L185.5 215.1L183.6 217.8L180.2 217.8L180.5 216.7L179.4 214.6L180 210.8L176.4 205.4L173.7 198.8L171.4 193.7L170.7 196.6L169.2 198.2L165.4 200.5L161.6 203.2L157.8 203.8L154 201L152.5 198.2L151.4 190.3L150.2 183.4L154.8 178.2L160.5 174.6L165.4 170.4L171.1 166.2L176.7 160L181.3 155L185.8 148.7L190 144.2L191.9 140.2L197.6 136.3L203.3 132.9L210.8 129.5L214.6 128.8L221.1 126.1L229 123.3L237.3 124L243 126.8L249.1 128.2L244.9 132.9L256.3 134.9L267.6 137.6L277.1 142.2L282.8 145.5L287.3 149.3L284.7 154.4L275.2 156.3L263.8 155L258.2 152.5L254.4 150L258.2 155.7L263.1 166.2L267.6 169.2L273.3 170.4L276 165.6L284.7 166.2L282 160L290.4 154.4L297.9 156.9L298.7 149.3L296 140.9L301.7 140.9L305.5 145.5L313.1 147.4L320.6 144.8L332 140.9L335.8 142.9L343.4 140.9L350.9 138.9L358.5 134.3L364.2 132.9L369.9 134.3L377.5 136.3L381.2 138.3L385 134.3L388.8 124L394.5 109.9L400.2 108.5L404 111.3L405.9 124L405.9 130.9L405.1 140.9L405.9 153.8L411.5 150.6L415.3 147.4L413.4 137.6L409.6 120.6L419.1 113.5L430.5 114.9L436.2 117L441.8 127.5L445.6 120.6L438 106.3L457 102.6L462.7 91.3L510 63.2L547.9 83.5L555.4 106.3L563 106.3L582 109.9L597.1 104.8L608.5 106.3L616 111.3L619.8 113.5L625.5 124L633.1 120.6L646.3 120.6L661.5 113.5L684.2 113.5L684.2 198.2L665.3 198.2L654.7 211.9L650.1 222.5L642.5 222L652 227.2L659.6 225.1L665.3 230.3L664.5 237.9L662.6 250.3L655.8 260L646.3 271.8L635 279.6L630.8 278.2L626.3 280.5L621.7 281L622.1 287.8L616 292.3L614.1 293.2L613.8 295.8L617.9 301.1L621.3 307.7L621.3 311.6L619.8 313.7L614.1 315.9L609.6 315.4L610.4 309.8L610.7 303.3L605.4 302L604.7 297.6L602 292.7L596.7 294.1L590.7 297.6L592.2 295.4L593.3 290L594.1 288.7L589.5 288.7L583.8 292.7L577.4 296.7L578.9 301.1L582 302.4L583.8 305.1L587.6 303.3L591 303.3L595.2 304.2L593.3 305.9L586.9 309.8L583.5 314.1L583.8 315.9L587.3 322.7L589.5 326L592.9 329L592.9 331.5L589.5 334L593.3 335.6L592.6 340.2L589.1 343.9L585.7 348.8L584.2 351.6L578.5 357.7L573.2 362.5L563.8 366.5L561.1 367.2L555.4 368.8L549.4 370.8L548.6 374.4L547.1 369.6L544.5 369.6L540.3 369.2L535.8 372.4L532.7 375.9L532 380.7L535 385.4L538.8 389.3L541.1 390.8L544.1 397L544.8 399.7L545.2 404.7L544.8 407L543.3 409.7L536.9 413.2L535 415.8L529.7 419.3L528.2 419.7L528.9 415.1L528.2 412.4L523.3 412L521.4 408.6L517.6 405.5L513.4 401.3L511.9 400.9L509.6 401.6L509.6 404.7L507.3 412.4L507.3 417.4L510 420.4L512.3 425L518.3 429.2L521.7 432.2L522.5 437.9L525.1 442.8L525.1 447.4L523.3 447.4L518.7 444L515.3 440.9L511.9 435.2L511.1 431.8L510.8 428L509.6 426.5L505.8 421.6L503.6 421.9L503.6 418.1L504.7 414.3L504.3 406.6L504.7 405.1L502.4 398.9L500.9 389.3L497.9 388.1L495.6 388.5L491.8 392L488.4 391.2L489.2 385.4L485.8 379.5L483.1 375.2L480.8 371.6L478.9 366.5L475.9 365.7L472.1 368L468.3 368.8L464.6 368.8L460.8 369.6L458.9 373.6L456.2 376.3L452.8 378.3L446.8 384.6L443 388.9L438 392L435 393.9L435.4 402.4L433.5 407L433.5 413.2L431.2 417L427.1 418.9L424.8 421.6L422.5 420L420.2 414.3L418.4 409.3L414.6 403.2L412.7 397L410.8 393.1L408.9 387.3L407 379.5L407 374L406.6 370.8L405.9 366.8L404.3 370.8L400.2 372.8L397.9 372L394.9 369.2L392.6 366.5L396.4 364.1L392.6 364.1L390.7 361.7L385 356.4L383.1 354L375.9 354.8L367.2 355.2L360.8 354.4L350.2 353.2L344.5 346.7L337.7 349.2L332 347.5L326.3 343.9L323.7 339.8L321.4 335.2L315 335.6L313.1 337.7L315 343.5L319.5 347.5L321.4 350.8L323.7 356.4L326.7 354.4L325.6 351.2L324.4 357.3L330.1 358.9L337.3 357.7L340.7 354.4L343.4 352.4L344.9 350.4L344.5 355.6L347.2 359.7L353.2 361.3L357.8 365.7L354 373.6L350.2 379.5L346.4 381.4L341.5 384.2L335.8 387.3L329 392L320.6 395.1L317.2 397L311.2 400.5L301.7 403.6L295.7 404L294.9 401.6L293.8 395.8L292.6 389.3L292.2 387.7L286.6 379.5L279.8 369.6L277.1 361.7L275.6 359.3L272.2 353.6L269.5 349.6L265.7 343.5L263.5 337.7L262 341.4L261.2 343.9L258.5 342.2L254.8 335.6L255.1 337.3L256.3 341.4L259.3 346.7L259.7 348.8L262 353.6L263.5 355.6L266.1 360.1L269.5 367.6L272.2 377.1L272.6 379.1L277.1 383.4L280.9 392.7L284.7 396.2L288.5 399.7L293 402.8L294.9 408.2L293 408.2L296 409.1L301.7 412.6L309.3 410.1L317.6 409.3L325.6 407.4L326 412.8L323.7 418.1L319.9 421.9L315 432.2L309.3 439L302.9 444.7L296 450.4L292.2 453.8L286.2 461L283.2 464.4L281.6 467.6L279.4 471.6L280.1 478.1L280.9 482.7L280.9 486.1L283.5 491.4L284.7 501.8L285.4 507.6L282.8 514.2L271.4 520.8L268.4 524.3L263.1 528.7L265 534.2L265.7 544.1L258.5 549.4L254.8 553L255.9 556.2L252.9 564.4L248.7 569L244.9 574.8L237 581.9L228.6 586.2L222.2 586.6L215 587L207 589.6L201.4 587.7L201 585.8L199.1 581.9L200.2 578.6L196.8 571.5L193.8 563.6L188.5 555.4L186.2 546.9L186.2 540.5L182.8 533L176.7 523.2L176 518.5L177.1 510.3L178.6 503.7L182 500.3L183.6 494.1L181.3 485.7L180.2 480L177.9 475L176 470.5L173 467.1L171.4 465.2L167.3 459.9L164.2 455L166.9 450.8L168 445.1L168.8 441.3L167.7 437.1L164.6 435.6L162.7 435.2L157.8 435.6L154 436L150.2 431.5L147.6 428.4L144.2 428L140.4 428.2L135.8 429.2L130.5 431.3L123.3 434.3L116.2 432.2L110.5 433.3L102.5 435.6L96.5 432.6L90.4 428.4L84.7 424.2L81.3 420L79.4 416.2L74.5 411.2L72.2 407L68.1 405.1L68.4 401.3L67.7 398.9L65 396.2L67.7 393.9L68.8 391.2L70.7 383L68.8 377.5L70 374.8L66.7 372.4L69.2 365.7L71.1 360.9L75.3 355.6L76.4 351.2L82.4 343.9L89.6 341L92.7 337.7L94.9 333.6L94.2 329L96.3 325.6L99.1 321.6L102.5 320.1L105.5 318.4L107.8 314.1L109.3 310.7L111.2 310.3L111.2 311.6L113.9 313.3L116.5 313.3L120.3 313.3L124.5 313.7L129 310.7L133.2 309L137 307.7L142.7 306.4L150.6 306.6L157.4 305.9L160.8 305.9L165.4 305.5L168.8 304.2L170.3 306.1L173 305.3L171.4 308.1L171.4 310.7L173.3 312L172.2 315.2L169.5 318.8L172.6 319.7L174.9 321.8L178.6 323.5L181.3 323.1L185.5 324.3L188.9 325.4L191.1 329.4L194.2 330.2L199.5 332.7L201.4 334L205.5 333.1L207 331.1L207.4 326.4L210.8 323.5L216.9 323.5L222.2 326.4L226.7 328.8L234.3 329.6L239.2 331.1L244.5 330.2L246.4 329L251.7 329L253.6 330L256.3 330.6L259.3 330.6L261.6 329L263.1 326.4L263.8 323.5L265.7 318.8L266.9 316.7L266.9 312L267.3 309L268.4 307.2L265.7 307.2L262.3 306.4L258.2 309L255.5 309.6L252.5 307.7L247.6 305.9L246.4 308.5L243 309L241.5 307.2L238.1 306.4L235.1 305.5L234.3 302L233.9 299.4L230.9 299.8L232.8 296.7L232.4 295.4L230.1 294.5L230.5 292.3L232 290.5L235.4 290.5L241.1 290.5L244.5 288.9L241.5 286.9L243.4 286.9L248.7 287.3L251.7 285.8L256.3 283.7L264.2 283.3L268.8 286.4L273.3 287.3L281.6 287.8L288.8 285.1L289.2 282.3L286.6 278.7L281.6 275.9L274.4 270.8L272.6 269.9L269.9 268L275.2 264.7L277.1 261.4L279.8 259L275.2 260L273.3 260L270.7 261.4L265.7 262.8L263.8 265.7L265.4 268.5L269.5 267.8L265.4 269.4L260.8 271.8L258.2 271.3L258.2 268.5L254.4 267.5L258.2 265.2L252.5 264.2L250.6 261.9L247.6 262.3L243.8 268.5L239.8 273.1L237 277.8L235.4 281L237.3 285.1L241.1 286.9L240.7 287.8L237.3 287.8L235.4 288L232.4 290.5L230.5 291.8L229.8 289.6L229.4 288.5L223.7 288.2L221.8 291.4L218.4 290.5L218 289.6L216.9 290.9L217.6 294.5L218.2 295.2L219.5 296.7L221.8 299.8L221.1 301.3L219.2 302L218.8 303.8L218.4 307.7L216.5 308.1L213.5 306.4L213.1 302.4L213.5 300L211.6 299.8L209.7 297.2L210.1 296.7L207.8 294.5L205.1 290.3L205 286.4L204.8 283.7L202.1 281.4L199.8 280.3L193.4 276.4L188.9 273.6L185.8 268L182.8 269.9L183.4 266.4L177.9 267.5L178.6 269.9L178.8 273.8L182.4 275.9L185.1 281.2L192.6 283.7L195.3 287.3L199.3 289.4L201 293.2L199.5 292L196.4 290.3L193.8 293.6L196.1 296.7L192.3 301.6L190.6 300.7L191.1 298.5L191.9 294.9L190.4 291.8L187.3 289.4L185.3 288.5L182.4 286.9L179 285.8L177.7 284.4L175.6 282.8L171.1 278.9L170.3 276.2L168.6 273.6L165.2 272.2L161.6 274.5L158.8 275.5L153.6 278.2L151.6 277.3L148.7 276.8L146.1 276.4L143 278.7L142.9 280.5L143.8 281.9L139.6 286L136 287.3L134.5 289.1L131.3 292.5L130.2 294.7L132.1 297.8L129.4 299.6L127.5 302.9L123 306.8L122 306.1L114.6 306.8L112.7 307.7L111 309.2L110.1 309.8Z"/><path d="M109.7 245.1L111.6 245.6L115.6 243.6L117.5 244.3L122 242.7L126.4 241.7L130.7 241.4L135 240.9L136.4 239.7L136.8 238.5L134 237.9L135.8 236.4L136.2 235.6L137.9 233L137.7 231.6L135.1 230.5L132.4 230.8L132.6 229.5L131.7 227.4L131 224.6L129 222.5L126.9 221.7L126 219.9L123.7 215.8L123.2 215.1L119.2 214.6L121.5 213.1L120.3 212.2L122 210.8L123.5 208.4L124.5 205.9L123.7 205.4L118 205.7L115.4 206.5L116.9 204.6L119.6 201.3L118.6 200.1L112.4 200.3L111.2 202.7L109.7 204.9L109.7 207.6L109.3 210.3L107.8 211.9L110.1 214.6L109.7 218.3L112.4 215.7L113.5 215.1L112.7 217.8L112.4 220.7L114.6 221.5L117.7 220.4L118.8 220.1L118 222.5L119.9 225.1L119.9 228.2L116.2 228.7L114.3 228.2L113.9 231.3L115.4 233.9L111.2 236L112.4 237.4L116.5 237.4L119.2 238.1L121.1 237.9L119.2 239.4L114.3 240.4L112 243.3L109.7 245.1Z"/><path d="M103.3 217.8L107.8 218.8L109 222L110.5 223.6L107.4 225.1L108.2 228.5L108.6 230.5L107.3 234.5L104.8 234.6L99.9 236.4L94.2 238.1L92.3 236.4L91.5 234.9L94.6 232.3L96.5 229L93.1 227.7L92.7 225.1L96.1 223.6L99.1 223.6L98.7 221.7L99.5 219.1L103.3 217.8Z"/><path d="M36.6 172.2L55.6 172.2L59.3 172.8L66.9 170.4L73.7 167.7L78.3 163.7L80.2 161.3L76.4 155.7L76 154.4L70.7 153.8L66.9 156.3L62.8 158.8L60.9 156.3L55.6 156.9L36.6 156.9Z"/><path d="M166.9 278.7L167.5 282.6L166.1 286L163.9 283.7L164.2 280.8L166.9 278.7Z"/><path d="M166.1 286.7L168 288.2L168 292.3L167.7 296.3L165.4 296.7L163.1 296.9L163.1 293.2L162.4 289.6L164.6 288L166.1 286.7Z"/><path d="M190.6 299.9L188.5 304.2L188.9 306.8L186.2 306.4L178.3 302L179.8 300.5L183.6 301.1L190.6 299.9Z"/><path d="M220.3 312L224.1 312.4L230.9 312.9L229.8 314.1L224.8 314.4L220.3 312.9L220.3 312Z"/><path d="M253.6 313.7L256.3 312.4L262.3 311.1L260.1 314.1L256.3 315.9L254 315L253.6 313.7Z"/><path d="M318 498L322.2 511.5L318.8 517.3L313.1 535L309.7 548.6L302.5 551L297.9 548.2L296.4 540.9L295.3 535L299.4 528.7L299.1 517.3L306.6 512.2L312.7 504.1L318 498Z"/><path d="M433.9 415.1L435.4 416.2L439.2 420L441.5 424.6L439.6 428.8L436.5 429.7L434.3 427.7L433.5 421.9L433.9 415.1Z"/><path d="M624.4 320.5L627.4 318.8L630.8 321.8L628.9 329.4L626.3 331.1L624.4 329.8L622.5 322.7L624.4 320.5Z"/><path d="M633.1 322.7L635 323.9L639.9 321L641 318L636.9 317.1L633.8 318.8L633.1 322.7Z"/><path d="M627 318.4L629.3 315.4L633.1 312.4L638.8 311.8L644.4 311.6L646.3 310.7L649 305.1L651.3 303.3L650.1 305.5L655.8 303.8L659.6 300.2L661.5 294.5L661.5 290L662.6 286.9L666.4 286L667.2 290L669.1 294.5L665.3 299.8L664.9 305.9L664.1 311.1L660.7 314.1L658.1 313.7L656.9 315.9L650.9 315.9L649.7 317.1L647.1 320.5L642.9 319.7L643.3 315.9L635 316.7L629.7 318.4L627 318.4Z"/><path d="M661.5 285.5L663 281L661.5 279.6L663.4 277.3L666.4 277.8L667.5 267.5L680.4 274.1L672.8 283.3L665.3 281L664.5 284.2L661.5 285.5Z"/><path d="M591.4 354.4L593.3 355.6L591.4 361.7L589.1 367.6L586.9 365.3L586.1 361.7L589.5 355.6L591.4 354.4Z"/><path d="M549.8 375.2L551.7 377.1L549.4 381.4L546 382.6L542.9 381.4L542.9 378.3L546 375.9L549.8 375.2Z"/><path d="M588 381.4L594.1 381.4L593.3 387.3L591.8 392L591.4 398.2L595.2 398.2L600.9 402.8L598.6 404L592.6 399.3L588 398.2L585.7 395.1L585.7 390.4L587.3 389.6L588 381.4Z"/><path d="M593.3 426.1L599 421.9L602.8 419.7L606.6 415.1L610.4 421.9L609.2 428.4L606.6 430.3L601.6 428.4L597.1 423.8L593.3 426.1Z"/><path d="M602 404.7L607.3 410.5L604.7 414.3L602 410.9L602 404.7Z"/><path d="M593.3 407.4L597.5 408.6L595.6 412.4L593.3 412L593.3 407.4Z"/><path d="M597.1 410.9L599.4 414.3L597.9 417.7L595.2 414.7L597.1 410.9Z"/><path d="M575.1 420L583.8 409.7L584.2 412.4L576.3 421.2L575.1 420Z"/><path d="M544.1 446.6L546.4 444.7L551.7 444.7L559.2 440.6L563.8 434.9L568.7 432.2L573.6 425.7L577 429.6L582.7 432.6L578.9 436L577 439L577.8 448.5L582 448.9L576.3 454.2L572.5 461.8L570.6 465.9L565.3 467.5L559.2 464.4L554.3 463.7L548.6 463.3L547.9 458L544.1 453.1L544.1 446.6Z"/><path d="M492.2 431.1L500.5 432.6L505.1 438.3L511.5 444L517.6 448.5L524 455L527 459.9L532.7 464.4L532 474.3L527 474.7L518.7 467.5L513.8 461.8L510 456.1L506.2 450.4L503.6 444.7L496.7 437.9L492.2 431.1Z"/><path d="M529.7 478.1L532.7 474.7L541.4 476.2L549.8 478.5L557.7 478.5L564.9 481.5L564.5 485.3L555.4 483.8L547.9 483L540.3 481.9L534.6 480.4L530.8 478.5L529.7 478.1Z"/><path d="M583.8 473.1L586.9 473.1L587.3 462.9L590.3 462.9L594.5 469.4L597.9 469.4L591.4 459.5L598.2 455.7L589.5 455.3L586.5 451.2L591.4 448.1L600.9 448.9L605.1 446.2L602.8 451.2L593.3 450.8L585.7 450L585 454.2L583.1 459.9L581.2 463.7L583.8 473.1Z"/><path d="M627.4 457.2L633.1 453.8L638.8 455.7L642.5 464.8L652 458L661.5 461.4L680.4 467.5L680.4 486.5L663.4 484.6L655.8 483.8L653.1 480.4L653.9 476.9L646.3 470.1L638.8 467.1L635 467.5L631.2 462.9L627.4 457.2Z"/><path d="M614.1 444L616 448.5L618.7 450.4L615.7 451.2L617.6 455.3L613.8 452.3L614.1 444Z"/><path d="M616 463.7L626.6 464.8L623.6 467.1L616.8 465.2L616 463.7Z"/><path d="M600.9 491.4L605.4 487.6L613.4 484.2L608.5 484.6L602.4 487.6L599 491.4L600.9 491.4Z"/><path d="M567.2 483L569.5 484.6L564.9 485.3L567.2 483Z"/><path d="M570.6 483.8L576.3 483.4L582 484.6L580.1 485.7L572.5 486.5L570.6 483.8Z"/><path d="M585 484.6L596.3 483.4L595.2 485.3L585.7 485.7L585 484.6Z"/><path d="M582 488.4L588.8 490.3L585.7 491.4L582 489.5L582 488.4Z"/><path d="M561.1 537L563 536.2L570.6 531.4L582 529L589.5 527.1L594.1 519.2L599 515L604.7 508L610.4 505.3L616 509.5L621.7 509.1L624.7 501L627.4 498.7L633.1 496L638.8 498L645.6 498.7L649.4 499.1L646 504.1L644.4 508.8L650.1 513L657.7 518.5L661.5 520L667.2 509.5L669.1 493L684.2 509.5L684.2 612.3L661.5 603.5L659.6 594.3L653.9 593L652 581.9L644.8 589.6L638.8 581.1L627.4 575.6L619.8 576.1L608.5 579L597.1 585.8L578.2 590.5L570.6 590.5L566.8 586.2L569.5 577.7L566.8 569.4L563 557.1L561.1 551L562.3 544.9L561.1 537Z"/><path d="M326.3 120.6L332 126.1L347.2 126.8L340.7 111.3L345.3 102.6L350.9 93.6L358.5 83.5L339.6 83.5L335.8 98.9L332 109.9L326.3 120.6Z"/><path d="M315 134.3L318.8 136.3L316.9 138.9L313.8 137.6L315 134.3Z"/><path d="M310.4 265.7L313.1 263.3L318.8 261.9L324.4 260L330.1 260.4L332.8 262.3L332 266.6L328.2 268L324.4 271.3L321.8 271.8L325.6 276.4L330.1 281L331.3 285.5L332 290L333.9 292.3L335.4 296.7L335.4 304.2L332 306.4L326.3 306.8L320.6 304.6L316.5 299.4L317.6 294.5L322.2 290.5L318.8 289.1L315.3 284.2L311.2 278.7L309.3 274.1L308.9 271.3L310.4 265.7Z"/><path d="M352.1 262.8L358.5 264.7L362.3 269.4L358.5 276.4L355.5 275.9L352.8 271.8L352.1 267.1L352.1 262.8Z"/><path d="M411.5 262.3L417.2 261.4L422.9 263.8L430.5 262.3L431.2 264.7L422.9 265.7L417.2 263.3L411.5 263.3L411.5 262.3Z"/><path d="M525.1 237.4L530.8 236.4L534.6 232.8L542.2 225.1L546 216.2L544.8 216.2L540.3 225.1L532.7 231.8L525.9 236.4L525.1 237.4Z"/><path d="M246.8 188.1L250.6 183.4L255.5 185.8L254.4 189.8L249.5 192.6L246.8 188.1Z"/><path d="M263.8 184L265 178.2L267.6 176.4L269.1 184L265.7 186.9L263.8 184Z"/><path d="M254.4 451.2L260.1 451.5L263.1 454.2L260.1 459.9L256.3 461.8L251.3 458L251.7 452.3L254.4 451.2Z"/><path d="M241.9 464.8L243 465.2L244.9 473.1L246.8 476.9L248.7 485.3L247.2 485.3L243.4 476.9L242.3 471.3L241.9 464.8Z"/><path d="M260.1 488.4L261.6 488.8L262.7 496L265 506.4L263.8 507.2L262 503.7L260.8 496L260.1 488.4Z"/></g></g><g fill="#000"><rect x="55.6" y="605.5" width="37.9" height="6.8"/><rect x="93.4" y="95.1" width="37.9" height="6.8"/><rect x="131.3" y="605.5" width="56.8" height="6.8"/><rect x="188.1" y="95.1" width="56.8" height="6.8"/><rect x="244.9" y="605.5" width="56.8" height="6.8"/><rect x="301.7" y="95.1" width="56.8" height="6.8"/><rect x="358.5" y="605.5" width="56.8" height="6.8"/><rect x="415.3" y="95.1" width="56.8" height="6.8"/><rect x="472.1" y="605.5" width="56.8" height="6.8"/><rect x="528.9" y="95.1" width="56.8" height="6.8"/><rect x="585.7" y="605.5" width="37.9" height="6.8"/><rect x="623.6" y="95.1" width="37.9" height="6.8"/><rect x="654.7" y="95.1" width="6.8" height="83.1"/><rect x="55.6" y="178.2" width="6.8" height="67.2"/><rect x="654.7" y="245.4" width="6.8" height="57.9"/><rect x="55.6" y="303.3" width="6.8" height="52.3"/><rect x="654.7" y="355.6" width="6.8" height="49.1"/><rect x="55.6" y="404.7" width="6.8" height="47.6"/><rect x="654.7" y="452.3" width="6.8" height="47.6"/><rect x="55.6" y="499.9" width="6.8" height="49.1"/><rect x="654.7" y="549" width="6.8" height="30.9"/><rect x="55.6" y="579.8" width="6.8" height="32.5"/></g><rect x="55.6" y="95.1" width="605.9" height="517.2" fill="none" stroke="#000" stroke-width="1.3"/><rect x="62.4" y="101.9" width="592.3" height="503.6" fill="none" stroke="#000" stroke-width="1.3"/><path d="M55.6 95.1L62.4 101.9M654.7 605.5L661.5 612.3" stroke="#000" stroke-width="1.3"/><text x="106.3" y="148.3" font-size="52" font-weight="bold" letter-spacing="0.5">c)</text><text x="48.5" y="100.4" text-anchor="end" font-size="20.8">75°N</text><text x="48.5" y="250.7" text-anchor="end" font-size="20.8">50°N</text><text x="48.5" y="360.9" text-anchor="end" font-size="20.8">25°N</text><text x="48.5" y="457.6" text-anchor="end" font-size="20.8">0°</text><text x="48.5" y="554.3" text-anchor="end" font-size="20.8">25°S</text><text x="133.3" y="628.5" text-anchor="middle" font-size="20.8">0°</text><text x="246.9" y="628.5" text-anchor="middle" font-size="20.8">30°E</text><text x="360.5" y="628.5" text-anchor="middle" font-size="20.8">60°E</text><text x="474.1" y="628.5" text-anchor="middle" font-size="20.8">90°E</text><text x="587.7" y="628.5" text-anchor="middle" font-size="20.8">120°E</text></g><rect x="2047" y="94.2" width="30.5" height="518.6" fill="url(#gjet)" stroke="#222" stroke-width="1.1"/><text x="2083" y="98.8" font-size="14.2" fill="#222">0.05</text><path d="M2072.5 146.1H2077.5" stroke="#222" stroke-width="1.2"/><text x="2083" y="150.7" font-size="14.2" fill="#222">0.04</text><path d="M2072.5 197.9H2077.5" stroke="#222" stroke-width="1.2"/><text x="2083" y="202.5" font-size="14.2" fill="#222">0.03</text><path d="M2072.5 249.8H2077.5" stroke="#222" stroke-width="1.2"/><text x="2083" y="254.4" font-size="14.2" fill="#222">0.02</text><path d="M2072.5 301.6H2077.5" stroke="#222" stroke-width="1.2"/><text x="2083" y="306.2" font-size="14.2" fill="#222">0.01</text><path d="M2072.5 353.5H2077.5" stroke="#222" stroke-width="1.2"/><text x="2083" y="358.1" font-size="14.2" fill="#222">0</text><path d="M2072.5 405.4H2077.5" stroke="#222" stroke-width="1.2"/><text x="2083" y="410" font-size="14.2" fill="#222">-0.01</text><path d="M2072.5 457.2H2077.5" stroke="#222" stroke-width="1.2"/><text x="2083" y="461.8" font-size="14.2" fill="#222">-0.02</text><path d="M2072.5 509.1H2077.5" stroke="#222" stroke-width="1.2"/><text x="2083" y="513.7" font-size="14.2" fill="#222">-0.03</text><path d="M2072.5 560.9H2077.5" stroke="#222" stroke-width="1.2"/><text x="2083" y="565.5" font-size="14.2" fill="#222">-0.04</text><text x="2083" y="617.4" font-size="14.2" fill="#222">-0.05</text><g transform="translate(0 0)"><g clip-path="url(#clipD)"><rect x="685.2" y="681.8" width="25" height="27" fill="#f5e71b"/><rect x="635.8" y="708.5" width="25" height="26.5" fill="#f5e71b"/><rect x="660.5" y="708.5" width="25" height="26.5" fill="#f5e71b"/><rect x="685.2" y="708.5" width="25" height="26.5" fill="#f5e71b"/><rect x="709.9" y="708.5" width="25" height="26.5" fill="#f5e71b"/><rect x="734.6" y="708.5" width="25" height="26.5" fill="#f5e71b"/><rect x="586.4" y="734.7" width="25" height="26.1" fill="#f5e71b"/><rect x="635.8" y="734.7" width="25" height="26.1" fill="#fcce2d"/><rect x="660.5" y="734.7" width="25" height="26.1" fill="#fcce2d"/><rect x="685.2" y="734.7" width="25" height="26.1" fill="#fcce2d"/><rect x="709.9" y="734.7" width="25" height="26.1" fill="#f5e71b"/><rect x="438.2" y="760.5" width="25" height="25.7" fill="#fcce2d"/><rect x="462.9" y="760.5" width="25" height="25.7" fill="#fcce2d"/><rect x="487.6" y="760.5" width="25" height="25.7" fill="#fcce2d"/><rect x="512.3" y="760.5" width="25" height="25.7" fill="#fcce2d"/><rect x="537" y="760.5" width="25" height="25.7" fill="#fcce2d"/><rect x="561.7" y="760.5" width="25" height="25.7" fill="#fabb42"/><rect x="586.4" y="760.5" width="25" height="25.7" fill="#e2b951"/><rect x="611.1" y="760.5" width="25" height="25.7" fill="#e2b951"/><rect x="660.5" y="760.5" width="25" height="25.7" fill="#fcce2d"/><rect x="685.2" y="760.5" width="25" height="25.7" fill="#f5e71b"/><rect x="438.2" y="785.9" width="25" height="25.4" fill="#4ebc91"/><rect x="462.9" y="785.9" width="25" height="25.4" fill="#4ebc91"/><rect x="487.6" y="785.9" width="25" height="25.4" fill="#4ebc91"/><rect x="512.3" y="785.9" width="25" height="25.4" fill="#a0be6d"/><rect x="537" y="785.9" width="25" height="25.4" fill="#a0be6d"/><rect x="561.7" y="785.9" width="25" height="25.4" fill="#4ebc91"/><rect x="586.4" y="785.9" width="25" height="25.4" fill="#079bd0"/><rect x="611.1" y="785.9" width="25" height="25.4" fill="#e2b951"/><rect x="635.8" y="785.9" width="25" height="25.4" fill="#e2b951"/><rect x="685.2" y="785.9" width="25" height="25.4" fill="#f5e71b"/><rect x="438.2" y="811" width="25" height="25.2" fill="#343fb1"/><rect x="462.9" y="811" width="25" height="25.2" fill="#1483d5"/><rect x="487.6" y="811" width="25" height="25.2" fill="#1483d5"/><rect x="512.3" y="811" width="25" height="25.2" fill="#14b0b5"/><rect x="537" y="811" width="25" height="25.2" fill="#14b0b5"/><rect x="561.7" y="811" width="25" height="25.2" fill="#079bd0"/><rect x="586.4" y="811" width="25" height="25.2" fill="#079bd0"/><rect x="611.1" y="811" width="25" height="25.2" fill="#fabb42"/><rect x="635.8" y="811" width="25" height="25.2" fill="#f5e71b"/><rect x="660.5" y="811" width="25" height="25.2" fill="#f5e71b"/><rect x="685.2" y="811" width="25" height="25.2" fill="#f5e71b"/><rect x="438.2" y="835.9" width="25" height="25.1" fill="#352d8c"/><rect x="462.9" y="835.9" width="25" height="25.1" fill="#352d8c"/><rect x="487.6" y="835.9" width="25" height="25.1" fill="#352d8c"/><rect x="512.3" y="835.9" width="25" height="25.1" fill="#343fb1"/><rect x="537" y="835.9" width="25" height="25.1" fill="#0661e0"/><rect x="561.7" y="835.9" width="25" height="25.1" fill="#1483d5"/><rect x="586.4" y="835.9" width="25" height="25.1" fill="#a0be6d"/><rect x="611.1" y="835.9" width="25" height="25.1" fill="#fcce2d"/><rect x="635.8" y="835.9" width="25" height="25.1" fill="#fcce2d"/><rect x="660.5" y="835.9" width="25" height="25.1" fill="#fabb42"/><rect x="438.2" y="860.7" width="25" height="25" fill="#352d8c"/><rect x="462.9" y="860.7" width="25" height="25" fill="#352d8c"/><rect x="487.6" y="860.7" width="25" height="25" fill="#352d8c"/><rect x="512.3" y="860.7" width="25" height="25" fill="#352d8c"/><rect x="537" y="860.7" width="25" height="25" fill="#352d8c"/><rect x="561.7" y="860.7" width="25" height="25" fill="#1483d5"/><rect x="586.4" y="860.7" width="25" height="25" fill="#a0be6d"/><rect x="611.1" y="860.7" width="25" height="25" fill="#f5e71b"/><rect x="635.8" y="860.7" width="25" height="25" fill="#a0be6d"/><rect x="438.2" y="885.4" width="25" height="25" fill="#352d8c"/><rect x="462.9" y="885.4" width="25" height="25" fill="#352d8c"/><rect x="487.6" y="885.4" width="25" height="25" fill="#352d8c"/><rect x="512.3" y="885.4" width="25" height="25" fill="#352d8c"/><rect x="537" y="885.4" width="25" height="25" fill="#343fb1"/><rect x="561.7" y="885.4" width="25" height="25" fill="#14b0b5"/><rect x="586.4" y="885.4" width="25" height="25" fill="#a0be6d"/><rect x="611.1" y="885.4" width="25" height="25" fill="#fabb42"/><rect x="462.9" y="910.1" width="25" height="25.1" fill="#1483d5"/><rect x="487.6" y="910.1" width="25" height="25.1" fill="#343fb1"/><rect x="512.3" y="910.1" width="25" height="25.1" fill="#0661e0"/><rect x="537" y="910.1" width="25" height="25.1" fill="#0661e0"/><rect x="561.7" y="910.1" width="25" height="25.1" fill="#079bd0"/><rect x="586.4" y="910.1" width="25" height="25.1" fill="#a0be6d"/><rect x="611.1" y="910.1" width="25" height="25.1" fill="#4ebc91"/><rect x="462.9" y="934.9" width="25" height="25.2" fill="#079bd0"/><rect x="487.6" y="934.9" width="25" height="25.2" fill="#0661e0"/><rect x="512.3" y="934.9" width="25" height="25.2" fill="#1483d5"/><rect x="537" y="934.9" width="25" height="25.2" fill="#14b0b5"/><rect x="561.7" y="934.9" width="25" height="25.2" fill="#079bd0"/><rect x="586.4" y="934.9" width="25" height="25.2" fill="#4ebc91"/><rect x="611.1" y="934.9" width="25" height="25.2" fill="#079bd0"/><rect x="462.9" y="959.8" width="25" height="25.4" fill="#079bd0"/><rect x="487.6" y="959.8" width="25" height="25.4" fill="#0661e0"/><rect x="512.3" y="959.8" width="25" height="25.4" fill="#0661e0"/><rect x="537" y="959.8" width="25" height="25.4" fill="#079bd0"/><rect x="561.7" y="959.8" width="25" height="25.4" fill="#1483d5"/><rect x="586.4" y="959.8" width="25" height="25.4" fill="#14b0b5"/><rect x="611.1" y="959.8" width="25" height="25.4" fill="#14b0b5"/><rect x="685.2" y="959.8" width="25" height="25.4" fill="#e2b951"/><rect x="462.9" y="984.9" width="25" height="25.7" fill="#a0be6d"/><rect x="487.6" y="984.9" width="25" height="25.7" fill="#079bd0"/><rect x="512.3" y="984.9" width="25" height="25.7" fill="#1483d5"/><rect x="537" y="984.9" width="25" height="25.7" fill="#079bd0"/><rect x="561.7" y="984.9" width="25" height="25.7" fill="#079bd0"/><rect x="586.4" y="984.9" width="25" height="25.7" fill="#079bd0"/><rect x="660.5" y="984.9" width="25" height="25.7" fill="#4ebc91"/><rect x="685.2" y="984.9" width="25" height="25.7" fill="#4ebc91"/><rect x="462.9" y="1010.3" width="25" height="26.1" fill="#fcce2d"/><rect x="487.6" y="1010.3" width="25" height="26.1" fill="#fabb42"/><rect x="512.3" y="1010.3" width="25" height="26.1" fill="#14b0b5"/><rect x="537" y="1010.3" width="25" height="26.1" fill="#079bd0"/><rect x="561.7" y="1010.3" width="25" height="26.1" fill="#0661e0"/><rect x="586.4" y="1010.3" width="25" height="26.1" fill="#0661e0"/><rect x="660.5" y="1010.3" width="25" height="26.1" fill="#a0be6d"/><rect x="487.6" y="1036.1" width="25" height="26.5" fill="#f5e71b"/><rect x="512.3" y="1036.1" width="25" height="26.5" fill="#a0be6d"/><rect x="537" y="1036.1" width="25" height="26.5" fill="#4ebc91"/><rect x="561.7" y="1036.1" width="25" height="26.5" fill="#14b0b5"/><rect x="487.6" y="1062.3" width="25" height="27" fill="#f5e71b"/><rect x="512.3" y="1062.3" width="25" height="27" fill="#fabb42"/><rect x="537" y="1062.3" width="25" height="27" fill="#a0be6d"/><rect x="561.7" y="1062.3" width="25" height="27" fill="#079bd0"/><rect x="487.6" y="1089" width="25" height="27.7" fill="#fcce2d"/><rect x="512.3" y="1089" width="25" height="27.7" fill="#fabb42"/><rect x="537" y="1089" width="25" height="27.7" fill="#4ebc91"/><path d="M495.9 681.8V1133.1M561.7 681.8V1133.1M627.5 681.8V1133.1M693.4 681.8V1133.1M430 724.3H759.2M430 806H759.2M430 885.4H759.2M430 964.8H759.2M430 1046.5H759.2" stroke="#000" stroke-opacity="0.26" stroke-width="1.1" fill="none"/><g fill="none" stroke="#2c2cae" stroke-width="1.8" stroke-linejoin="round"><path d="M327.3 637.7L322.7 633.9L318.1 628.6L312.1 630.1L305.5 630.1L306.2 622.5L303.6 619.5L301.6 616.4L302.3 611.8L305.5 605.6L306.9 597.8L305.5 589.9L302.9 584.3L308.8 580.3L312.1 577.1L318.1 578.7L326.6 578.7L339.1 579.5L345.1 580.3L351 581.1L354.3 579.5L356.2 570.6L356.9 562.5L356.2 557.6L352.3 555.1L349.7 548.4L343.7 546.8L335.8 544.3L332.5 539.2L337.8 536.7L344.4 535.8L351 537.5L353.6 535.8L351.6 528.2L355.6 528.2L362.2 531.6L364.8 529.9L371.4 526.5L374.7 519.6L376.3 517.4L380 516.5L383.2 515.2L387.9 513.5L391.1 508.6L392.5 507.3L395.4 499.8L400.4 495.8L408.9 495.8L411.6 496.7L417.5 494L421.4 491.3L422.8 487.6L420.8 482.2L419.5 476.7L417.5 475.7L417.5 471.1L418.1 465.5L420.8 461.8L429.3 458L434 455.6L433.3 458.9L432 463.6L435.9 468.3L432 470.2L430 474.8L426.7 476.7L429.3 481.3L426.7 483.1L431.3 486.7L435.9 490.8L439.9 490.4L443.8 488.5L450.4 487.6L452.4 484.9L456.3 490.4L459.6 491.3L466.9 488.5L475.4 484.9L480 483.1L487.9 484.9L487.3 486.7L493.2 485.8L495.9 484L503.1 474.8L502.4 467.4L506.4 458.9L513 455.6L518.9 461.8L522.8 462.7L524.8 456.1L525.5 449.4L518.9 447.5L520.2 441.7L526.8 439.7L538.7 437.8L548.5 438.7L555.1 434.8L563.7 434.8L558.4 431.9L553.1 426.9L541.3 428.9L528.8 432.4L515.6 435.3L510.3 429.9L505.1 425.9L505.7 418.9L503.8 410.8L506.4 402.6L512.3 395.3L520.2 390L531.4 382.6L530.1 376.1L523.5 374L509.7 376.1L505.1 381.5L502.4 385.8L497.8 395.3L489.3 399.4L482 407.7L478.1 409.8L478.7 418.9L476.8 426.9L485.3 430.9L488.6 437.8L482.7 443.6L476.1 446.5L473.5 455.1L472.1 465.5L466.9 470.7L458.3 473L455 477.6L449.1 477.6L449.8 475.7L447.8 472L448.8 465.5L442.5 456.1L437.9 444.6L434 435.8L432.6 440.7L430 443.6L423.4 447.5L416.8 452.3L410.2 453.2L403.7 448.4L401 443.6L399.1 429.9L397.1 417.9L405 408.7L414.9 402.6L423.4 395.3L433.3 387.9L443.2 377.2L451.1 368.5L459 357.4L466.2 349.6L469.5 342.8L479.4 335.8L489.3 330L502.4 324.1L509 323L520.2 318.2L534 313.4L548.5 314.6L558.4 319.4L568.9 321.8L561.7 330L581.5 333.5L601.2 338.2L617.7 346.2L627.5 351.8L635.5 358.6L630.8 367.4L614.4 370.7L594.6 368.5L584.7 364.1L578.2 359.7L584.7 369.6L593.3 387.9L601.2 393.2L611.1 395.3L615.7 386.8L630.8 387.9L626.2 377.2L640.7 367.4L653.9 371.8L655.2 358.6L650.6 343.9L660.5 343.9L667.1 351.8L680.2 355.2L693.4 350.7L713.2 343.9L719.7 347.3L732.9 343.9L746.1 340.5L759.2 332.4L769.1 330L779 332.4L792.2 335.8L798.8 339.3L805.3 332.4L811.9 314.6L821.8 290L831.7 287.5L838.3 292.5L841.6 314.6L841.6 326.5L840.2 343.9L841.6 366.3L851.4 360.8L858 355.2L854.7 338.2L848.1 308.6L864.6 296.3L884.4 298.7L894.2 302.4L904.1 320.6L910.7 308.6L897.5 283.7L930.5 277.3L940.3 257.7L1022.6 208.9L1088.5 244.2L1101.7 283.7L1114.8 283.7L1147.8 290L1174.1 281.1L1193.9 283.7L1207 292.5L1213.6 296.3L1223.5 314.6L1236.7 308.6L1259.7 308.6L1286 296.3L1325.6 296.3L1325.6 443.6L1292.6 443.6L1274.2 467.4L1266.3 485.8L1253.1 484.9L1269.6 494L1282.8 490.4L1292.6 499.3L1291.3 512.6L1288 534.1L1276.2 550.9L1259.7 571.5L1240 585.1L1232.7 582.7L1224.8 586.7L1216.9 587.5L1217.6 599.3L1207 607.1L1203.7 608.7L1203.1 613.3L1210.3 622.5L1216.2 633.9L1216.2 640.7L1213.6 644.4L1203.7 648.1L1195.8 647.4L1197.2 637.7L1197.8 626.3L1188.6 624L1187.3 616.4L1182.7 607.9L1173.4 610.2L1162.9 616.4L1165.5 612.5L1167.5 603.2L1168.8 600.9L1160.9 600.9L1151.1 607.9L1139.9 614.9L1142.5 622.5L1147.8 624.8L1151.1 629.4L1157.6 626.3L1163.6 626.3L1170.8 627.9L1167.5 630.9L1156.3 637.7L1150.4 645.2L1151.1 648.1L1157 660L1160.9 665.8L1166.9 670.9L1166.9 675.3L1160.9 679.6L1167.5 682.5L1166.2 690.4L1160.3 696.8L1154.3 705.4L1151.7 710.3L1141.8 720.8L1132.6 729.2L1116.2 736.1L1111.5 737.5L1101.7 740.3L1091.1 743.7L1089.8 749.9L1087.2 741.6L1082.6 741.6L1075.3 741L1067.4 746.5L1062.2 752.6L1060.8 760.8L1066.1 769L1072.7 775.8L1076.6 778.5L1081.9 789.3L1083.2 794L1083.9 802.7L1083.2 806.7L1080.6 811.3L1069.4 817.3L1066.1 822L1056.9 828L1054.3 828.6L1055.6 820.7L1054.3 816L1045.7 815.3L1042.4 809.3L1035.8 804L1028.6 796.6L1025.9 796L1022 797.3L1022 802.7L1018 816L1018 824.6L1022.6 830L1026.6 837.9L1037.1 845.2L1043.1 850.5L1044.4 860.4L1049 868.9L1049 876.8L1045.7 876.8L1037.8 870.9L1031.9 865.6L1025.9 855.7L1024.6 849.8L1024 843.2L1022 840.6L1015.4 831.9L1011.5 832.6L1011.5 826L1013.4 819.3L1012.8 806L1013.4 803.3L1009.5 792.6L1006.8 775.8L1001.6 773.7L997.6 774.4L991 780.5L985.1 779.2L986.4 769L980.5 758.8L975.9 751.3L971.9 745.1L968.7 736.1L963.4 734.7L956.8 738.9L950.2 740.3L943.6 740.3L937 741.6L933.8 748.5L929.1 753.3L923.2 756.7L912.7 767.6L906.1 775.1L897.5 780.5L892.3 783.9L892.9 798.6L889.6 806.7L889.6 817.3L885.7 824L878.4 827.3L874.5 831.9L870.5 829.3L866.6 819.3L863.3 810.7L856.7 800L853.4 789.3L850.1 782.5L846.8 772.4L843.5 758.8L843.5 749.2L842.9 743.7L841.6 736.8L838.9 743.7L831.7 747.1L827.7 745.8L822.5 741L818.5 736.1L825.1 732L818.5 732L815.2 727.8L805.3 718.7L802.1 714.5L789.5 715.9L774.4 716.6L763.2 715.2L744.8 713.1L734.9 701.8L723 706.1L713.2 703.2L703.3 696.8L698.7 689.7L694.7 681.8L683.5 682.5L680.2 686.1L683.5 696.1L691.4 703.2L694.7 708.9L698.7 718.7L703.9 715.2L702 709.6L700 720.1L709.9 722.9L722.4 720.8L728.3 715.2L732.9 711.7L735.5 708.2L734.9 717.3L739.5 724.3L750 727.1L757.9 734.7L751.3 748.5L744.8 758.8L738.2 762.2L729.6 767L719.7 772.4L707.9 780.5L693.4 785.9L687.5 789.3L676.9 795.3L660.5 800.7L649.9 801.3L648.6 797.3L646.6 787.2L644.7 775.8L644 773.1L634.1 758.8L622.3 741.6L617.7 727.8L615 723.6L609.1 713.8L604.5 706.8L597.9 696.1L594 686.1L591.3 692.6L590 696.8L585.4 694L578.8 682.5L579.5 685.4L581.5 692.6L586.7 701.8L587.4 705.4L591.3 713.8L594 717.3L598.6 725L604.5 738.2L609.1 754.7L609.8 758.1L617.7 765.6L624.3 781.8L630.8 787.9L637.4 794L645.3 799.3L648.6 808.7L645.3 808.7L650.6 810.3L660.5 816.3L673.6 812L688.1 810.7L702 807.3L702.6 816.7L698.7 826L692.1 832.6L683.5 850.5L673.6 862.3L662.5 872.2L650.6 882.1L644 888L633.5 900.5L628.2 906.5L625.6 912.1L621.6 919L622.9 930.2L624.3 938.2L624.3 944.2L628.9 953.5L630.8 971.5L632.2 981.5L627.5 993L607.8 1004.5L602.5 1010.6L593.3 1018.2L596.6 1027.8L597.9 1045.1L585.4 1054.2L578.8 1060.5L580.8 1066.2L575.5 1080.4L568.3 1088.3L561.7 1098.4L547.9 1110.8L533.4 1118.2L522.2 1119L509.7 1119.7L495.9 1124.2L486 1120.8L485.3 1117.5L482 1110.8L484 1105L478.1 1092.6L472.8 1078.9L463.6 1064.7L459.6 1050L459.6 1038.8L453.7 1025.7L443.2 1008.6L441.9 1000.4L443.8 986.3L446.5 974.8L452.4 968.8L455 958.1L451.1 943.5L449.1 933.6L445.1 925L441.9 917L436.6 911.1L434 907.8L426.7 898.6L421.4 890L426 882.8L428 872.9L429.3 866.3L427.4 859L422.1 856.4L418.8 855.7L410.2 856.4L403.7 857.1L397.1 849.1L392.5 843.9L386.5 843.2L380 843.5L372.1 845.2L362.8 848.8L350.3 854.1L337.8 850.5L327.9 852.4L314.1 856.4L303.6 851.1L293 843.9L283.2 836.6L277.2 829.3L273.9 822.7L265.4 814L261.4 806.7L254.2 803.3L254.8 796.6L253.5 792.6L248.9 787.9L253.5 783.9L255.5 779.2L258.8 764.9L255.5 755.4L257.5 750.6L251.9 746.5L256.2 734.7L259.4 726.4L266.7 717.3L268.7 709.6L279.2 696.8L291.7 691.9L297 686.1L300.9 678.9L299.6 670.9L303.2 665.1L308.2 658.1L314.1 655.5L319.4 652.6L323.3 645.2L326 639.2L329.2 638.4L329.2 640.7L333.9 643.7L338.5 643.7L345.1 643.7L352.3 644.4L360.2 639.2L367.4 636.2L374 633.9L383.9 631.6L397.7 632L409.6 630.9L415.5 630.9L423.4 630.1L429.3 627.9L432 631.3L436.6 629.7L434 634.7L434 639.2L437.2 641.4L435.3 647L430.7 653.3L435.9 654.8L439.9 658.5L446.5 661.4L451.1 660.7L458.3 662.9L464.2 664.7L468.2 671.7L473.5 673.1L482.7 677.5L486 679.6L493.2 678.2L495.9 674.6L496.5 666.6L502.4 661.4L513 661.4L522.2 666.6L530.1 670.6L543.3 672L551.8 674.6L561 673.1L564.3 670.9L573.6 670.9L576.8 672.8L581.5 673.8L586.7 673.8L590.7 670.9L593.3 666.6L594.6 661.4L597.9 653.3L599.9 649.6L599.9 641.4L600.6 636.2L602.5 633.2L597.9 633.2L592 631.6L584.7 636.2L580.1 637.3L574.9 633.9L566.3 630.9L564.3 635.4L558.4 636.2L555.8 633.2L549.8 631.6L544.6 630.1L543.3 624L542.6 619.5L537.3 620.2L540.6 614.9L540 612.5L536 611L536.7 607.1L539.3 604L545.2 604L555.1 604L561 601.3L555.8 597.8L559.1 597.8L568.3 598.5L573.6 595.8L581.5 592.2L595.3 591.5L603.2 597L611.1 598.5L625.6 599.3L638.1 594.6L638.7 589.9L634.1 583.5L625.6 578.7L613.1 569.8L609.8 568.2L605.2 564.9L614.4 559.2L617.7 553.4L622.3 549.3L614.4 550.9L611.1 550.9L606.5 553.4L597.9 555.9L594.6 560.9L597.3 565.8L604.5 564.5L597.3 567.4L589.4 571.5L584.7 570.6L584.7 565.8L578.2 564.1L584.7 560L574.9 558.4L571.6 554.3L566.3 555.1L559.7 565.8L552.8 573.9L547.9 581.9L545.2 587.5L548.5 594.6L555.1 597.8L554.5 599.3L548.5 599.3L545.2 599.7L540 604L536.7 606.3L535.4 602.5L534.7 600.5L524.8 600.1L521.5 605.6L515.6 604L514.9 602.5L513 604.8L514.3 611L515.3 612.2L517.6 614.9L521.5 620.2L520.2 622.9L516.9 624L516.3 627.1L515.6 633.9L512.3 634.7L507 631.6L506.4 624.8L507 620.6L503.8 620.2L500.5 615.6L501.1 614.9L497.2 611L492.6 603.6L492.2 597L491.9 592.2L487.3 588.3L483.3 586.3L472.1 579.5L464.2 574.7L459 564.9L453.7 568.2L454.7 562.1L445.1 564.1L446.5 568.2L446.8 575.1L453 578.7L457.7 587.9L470.8 592.2L475.4 598.5L482.4 602.1L485.3 608.7L482.7 606.7L477.4 603.6L472.8 609.5L476.8 614.9L470.2 623.3L467.2 621.8L468.2 617.9L469.5 611.8L466.9 606.3L461.6 602.1L458 600.7L453 597.8L447.1 595.8L444.8 593.4L441.2 590.7L433.3 583.9L432 579.1L429 574.7L423.1 572.3L416.8 576.3L411.9 577.9L403 582.7L399.4 581.1L394.4 580.3L389.8 579.5L384.6 583.5L384.2 586.7L385.9 589.1L378.6 596.2L372.4 598.5L369.7 601.7L364.1 607.5L362.2 611.4L365.5 616.8L360.9 619.8L357.6 625.6L349.7 632.4L348 631.3L335.2 632.4L331.9 633.9L328.9 636.5L327.3 637.7Z"/><path d="M688.8 964.8L696 988.3L690.1 998.4L680.2 1029.2L674.3 1052.8L661.8 1057L653.9 1052.1L651.3 1039.5L649.3 1029.2L656.5 1018.2L655.9 998.4L669 989.6L679.6 975.5L688.8 964.8Z"/><path d="M578.2 883.4L588 884.1L593.3 888.7L588 898.6L581.5 901.9L572.9 895.3L573.6 885.4L578.2 883.4Z"/><path d="M556.4 907.1L558.4 907.8L561.7 921.7L565 928.3L568.3 942.8L565.7 942.8L559.1 928.3L557.1 918.4L556.4 907.1Z"/><path d="M588 948.1L590.7 948.8L592.6 961.5L596.6 979.5L594.6 980.9L591.3 974.8L589.4 961.5L588 948.1Z"/><path d="M452.4 795.3L457.7 793.3L460.3 798L459 800.7L454.4 799.3L452.4 795.3Z"/></g></g><g fill="#000"><rect x="430" y="1128.5" width="32.9" height="4.6"/><rect x="462.9" y="681.8" width="32.9" height="4.6"/><rect x="495.9" y="1128.5" width="32.9" height="4.6"/><rect x="528.8" y="681.8" width="32.9" height="4.6"/><rect x="561.7" y="1128.5" width="32.9" height="4.6"/><rect x="594.6" y="681.8" width="32.9" height="4.6"/><rect x="627.5" y="1128.5" width="32.9" height="4.6"/><rect x="660.5" y="681.8" width="32.9" height="4.6"/><rect x="693.4" y="1128.5" width="32.9" height="4.6"/><rect x="726.3" y="681.8" width="32.9" height="4.6"/><rect x="754.6" y="681.8" width="4.6" height="21.4"/><rect x="430" y="703.2" width="4.6" height="21.1"/><rect x="754.6" y="724.3" width="4.6" height="41.3"/><rect x="430" y="765.6" width="4.6" height="40.4"/><rect x="754.6" y="806" width="4.6" height="39.8"/><rect x="430" y="845.8" width="4.6" height="39.6"/><rect x="754.6" y="885.4" width="4.6" height="39.6"/><rect x="430" y="925" width="4.6" height="39.8"/><rect x="754.6" y="964.8" width="4.6" height="40.4"/><rect x="430" y="1005.2" width="4.6" height="41.3"/><rect x="754.6" y="1046.5" width="4.6" height="42.5"/><rect x="430" y="1089" width="4.6" height="44.1"/></g><rect x="430" y="681.8" width="329.2" height="451.3" fill="none" stroke="#000" stroke-width="1.1"/><rect x="434.6" y="686.4" width="320" height="442.1" fill="none" stroke="#000" stroke-width="1.1"/><path d="M430 681.8L434.6 686.4M754.6 1128.5L759.2 1133.1" stroke="#000" stroke-width="1.1"/><text x="594.6" y="674.5" text-anchor="middle" font-size="14.2" font-weight="bold">T31 NETPP</text><text x="447" y="741" font-size="52" font-weight="bold" letter-spacing="0.5">d)</text><text x="426" y="727.3" text-anchor="end" font-size="13.3">24°N</text><text x="426" y="809" text-anchor="end" font-size="13.3">12°N</text><text x="426" y="888.4" text-anchor="end" font-size="13.3">0°</text><text x="426" y="967.8" text-anchor="end" font-size="13.3">12°S</text><text x="426" y="1049.5" text-anchor="end" font-size="13.3">24°S</text><text x="426" y="1136.1" text-anchor="end" font-size="13.3">36°S</text><text x="431.5" y="1143.3" text-anchor="middle" font-size="12.9">10°E</text><text x="497.4" y="1143.3" text-anchor="middle" font-size="12.9">20°E</text><text x="563.2" y="1143.3" text-anchor="middle" font-size="12.9">30°E</text><text x="629" y="1143.3" text-anchor="middle" font-size="12.9">40°E</text><text x="694.9" y="1143.3" text-anchor="middle" font-size="12.9">50°E</text><text x="760.8" y="1143.3" text-anchor="middle" font-size="12.9">60°E</text><rect x="773.2" y="680.4" width="26.7" height="452.8" fill="url(#gpar)" stroke="#222" stroke-width="1"/><text x="806" y="684.4" font-size="11.2" fill="#222">900</text><path d="M795.9 733.7H799.9" stroke="#222" stroke-width="1"/><text x="806" y="737.7" font-size="11.2" fill="#222">800</text><path d="M795.9 786.9H799.9" stroke="#222" stroke-width="1"/><text x="806" y="790.9" font-size="11.2" fill="#222">700</text><path d="M795.9 840.2H799.9" stroke="#222" stroke-width="1"/><text x="806" y="844.2" font-size="11.2" fill="#222">600</text><path d="M795.9 893.5H799.9" stroke="#222" stroke-width="1"/><text x="806" y="897.5" font-size="11.2" fill="#222">500</text><path d="M795.9 946.8H799.9" stroke="#222" stroke-width="1"/><text x="806" y="950.8" font-size="11.2" fill="#222">400</text><path d="M795.9 1000H799.9" stroke="#222" stroke-width="1"/><text x="806" y="1004" font-size="11.2" fill="#222">300</text><path d="M795.9 1053.3H799.9" stroke="#222" stroke-width="1"/><text x="806" y="1057.3" font-size="11.2" fill="#222">200</text><path d="M795.9 1106.6H799.9" stroke="#222" stroke-width="1"/><text x="806" y="1110.6" font-size="11.2" fill="#222">100</text></g><g transform="translate(447.4 0)"><g clip-path="url(#clipD)"><g clip-path="url(#landD)"><g filter="url(#blurE)"><path d="M429.6 760L609.6 740L621.6 680L759.4 680L759.4 909.8L429.6 909.8Z" fill="#f5e71b"/><path d="M645.6 736L719.6 736L719.6 770L659.6 784L645.6 776Z" fill="#fcce2d"/><path d="M429.6 785L549.6 783L579.6 776L609.6 774L625.6 780L629.6 800L639.6 810L629.6 820L621.6 909.8L595.6 909.8L599.6 820L569.6 804L509.6 802L429.6 803Z" fill="#fabb42"/><path d="M429.6 798L569.6 798L595.6 804L599.6 830L589.6 909.8L429.6 909.8Z" fill="#a0be6d"/><path d="M429.6 808L559.6 810L575.6 788L605.6 792L603.6 840L589.6 909.8L429.6 909.8Z" fill="#4ebc91"/><path d="M429.6 816L513.6 820L549.6 820L573.6 796L599.6 796L595.6 840L581.6 909.8L429.6 909.8Z" fill="#14b0b5"/><path d="M429.6 823L509.6 827L549.6 827L577.6 804L595.6 804L589.6 850L569.6 909.8L429.6 909.8Z" fill="#079bd0"/><path d="M429.6 831L509.6 835L549.6 840L569.6 850L565.6 909.8L429.6 909.8Z" fill="#0661e0"/><path d="M429.6 840L469.6 842L499.6 854L549.6 860L553.6 880L541.6 909.8L429.6 909.8Z" fill="#352d8c"/><path d="M619.6 810L699.6 806L689.6 860L649.6 880L629.6 860Z" fill="#f5e71b"/><path d="M629.6 870L645.6 870L645.6 900L629.6 900Z" fill="#4ebc91"/><path d="M429.6 880L545 880L549.4 917.7L429.6 917.7Z" fill="#352d8c"/><path d="M429.6 917.7L545 913.3L562.8 902.2L624.9 913.3L629.3 991L596 1013.2L562.8 1035.3L518.4 1024.3L496.2 1002.1L451.8 979.9L429.6 968.8Z" fill="#079bd0"/><path d="M449.6 915.5L545 915.5L553.9 946.6L562.8 991L540.6 1013.2L507.3 1013.2L491.7 991L474 968.8L451.8 957.7Z" fill="#0661e0"/><path d="M573.9 880L629.3 880L624.9 957.7L584.9 957.7L573.9 924.4Z" fill="#4ebc91"/><path d="M593.8 886.7L618.2 886.7L618.2 924.4L598.3 924.4Z" fill="#fabb42"/><path d="M553.9 924.4L584.9 957.7L624.9 957.7L629.3 991L584.9 1013.2L553.9 991Z" fill="#079bd0"/><path d="M562.8 1013.2L598.3 1013.2L600.5 1068.6L573.9 1079.7L562.8 1057.5Z" fill="#0661e0"/><path d="M529.5 1013.2L562.8 1017.6L567.2 1075.3L553.9 1101.9L529.5 1079.7Z" fill="#14b0b5"/><path d="M529.5 1062L562.8 1062L562.8 1101.9L529.5 1113Z" fill="#4ebc91"/><path d="M485.1 984.3L562.8 1013.2L573.9 1079.7L553.9 1101.9L529.5 1101.9L507.3 1035.3Z" fill="#14b0b5"/><path d="M438.5 968.8L487.3 973.2L502.8 999.8L496.2 1022L438.5 1004.3Z" fill="#a0be6d"/><path d="M438.5 991L491.7 1004.3L505.1 1030.9L520.6 1057.5L533.9 1090.8L531.7 1115.2L491.7 1126.3L451.8 1057.5L438.5 1013.2Z" fill="#fabb42"/><path d="M454 1024.3L485.1 1039.8L498.4 1075.3L498.4 1119.7L482.9 1121.9L460.7 1079.7Z" fill="#f5e71b"/><path d="M525 1064.2L562.8 1062L562.8 1101.9L533.9 1113Z" fill="#4ebc91"/><path d="M649.3 964.3L700.4 964.3L695.9 1062L649.3 1062Z" fill="#4ebc91"/><path d="M664.8 986.5L687 986.5L687 1026.5L664.8 1026.5Z" fill="#e2b951"/></g><path d="M429.6 680L585.6 680L595.6 710L613.6 746L609.6 752.4L589.6 753.6L569.6 759.6L549.6 765.6L489.6 771L429.6 772.4Z" fill="#fff"/><path d="M627.6 680L675.6 680L675.6 720L649.6 725L627.6 727Z" fill="#fff"/></g><path d="M495.9 681.8V1133.1M561.7 681.8V1133.1M627.5 681.8V1133.1M693.4 681.8V1133.1M430 724.3H759.2M430 806H759.2M430 885.4H759.2M430 964.8H759.2M430 1046.5H759.2" stroke="#000" stroke-opacity="0.26" stroke-width="1.1" fill="none"/><g fill="none" stroke="#2c2cae" stroke-width="1.8" stroke-linejoin="round"><path d="M327.3 637.7L322.7 633.9L318.1 628.6L312.1 630.1L305.5 630.1L306.2 622.5L303.6 619.5L301.6 616.4L302.3 611.8L305.5 605.6L306.9 597.8L305.5 589.9L302.9 584.3L308.8 580.3L312.1 577.1L318.1 578.7L326.6 578.7L339.1 579.5L345.1 580.3L351 581.1L354.3 579.5L356.2 570.6L356.9 562.5L356.2 557.6L352.3 555.1L349.7 548.4L343.7 546.8L335.8 544.3L332.5 539.2L337.8 536.7L344.4 535.8L351 537.5L353.6 535.8L351.6 528.2L355.6 528.2L362.2 531.6L364.8 529.9L371.4 526.5L374.7 519.6L376.3 517.4L380 516.5L383.2 515.2L387.9 513.5L391.1 508.6L392.5 507.3L395.4 499.8L400.4 495.8L408.9 495.8L411.6 496.7L417.5 494L421.4 491.3L422.8 487.6L420.8 482.2L419.5 476.7L417.5 475.7L417.5 471.1L418.1 465.5L420.8 461.8L429.3 458L434 455.6L433.3 458.9L432 463.6L435.9 468.3L432 470.2L430 474.8L426.7 476.7L429.3 481.3L426.7 483.1L431.3 486.7L435.9 490.8L439.9 490.4L443.8 488.5L450.4 487.6L452.4 484.9L456.3 490.4L459.6 491.3L466.9 488.5L475.4 484.9L480 483.1L487.9 484.9L487.3 486.7L493.2 485.8L495.9 484L503.1 474.8L502.4 467.4L506.4 458.9L513 455.6L518.9 461.8L522.8 462.7L524.8 456.1L525.5 449.4L518.9 447.5L520.2 441.7L526.8 439.7L538.7 437.8L548.5 438.7L555.1 434.8L563.7 434.8L558.4 431.9L553.1 426.9L541.3 428.9L528.8 432.4L515.6 435.3L510.3 429.9L505.1 425.9L505.7 418.9L503.8 410.8L506.4 402.6L512.3 395.3L520.2 390L531.4 382.6L530.1 376.1L523.5 374L509.7 376.1L505.1 381.5L502.4 385.8L497.8 395.3L489.3 399.4L482 407.7L478.1 409.8L478.7 418.9L476.8 426.9L485.3 430.9L488.6 437.8L482.7 443.6L476.1 446.5L473.5 455.1L472.1 465.5L466.9 470.7L458.3 473L455 477.6L449.1 477.6L449.8 475.7L447.8 472L448.8 465.5L442.5 456.1L437.9 444.6L434 435.8L432.6 440.7L430 443.6L423.4 447.5L416.8 452.3L410.2 453.2L403.7 448.4L401 443.6L399.1 429.9L397.1 417.9L405 408.7L414.9 402.6L423.4 395.3L433.3 387.9L443.2 377.2L451.1 368.5L459 357.4L466.2 349.6L469.5 342.8L479.4 335.8L489.3 330L502.4 324.1L509 323L520.2 318.2L534 313.4L548.5 314.6L558.4 319.4L568.9 321.8L561.7 330L581.5 333.5L601.2 338.2L617.7 346.2L627.5 351.8L635.5 358.6L630.8 367.4L614.4 370.7L594.6 368.5L584.7 364.1L578.2 359.7L584.7 369.6L593.3 387.9L601.2 393.2L611.1 395.3L615.7 386.8L630.8 387.9L626.2 377.2L640.7 367.4L653.9 371.8L655.2 358.6L650.6 343.9L660.5 343.9L667.1 351.8L680.2 355.2L693.4 350.7L713.2 343.9L719.7 347.3L732.9 343.9L746.1 340.5L759.2 332.4L769.1 330L779 332.4L792.2 335.8L798.8 339.3L805.3 332.4L811.9 314.6L821.8 290L831.7 287.5L838.3 292.5L841.6 314.6L841.6 326.5L840.2 343.9L841.6 366.3L851.4 360.8L858 355.2L854.7 338.2L848.1 308.6L864.6 296.3L884.4 298.7L894.2 302.4L904.1 320.6L910.7 308.6L897.5 283.7L930.5 277.3L940.3 257.7L1022.6 208.9L1088.5 244.2L1101.7 283.7L1114.8 283.7L1147.8 290L1174.1 281.1L1193.9 283.7L1207 292.5L1213.6 296.3L1223.5 314.6L1236.7 308.6L1259.7 308.6L1286 296.3L1325.6 296.3L1325.6 443.6L1292.6 443.6L1274.2 467.4L1266.3 485.8L1253.1 484.9L1269.6 494L1282.8 490.4L1292.6 499.3L1291.3 512.6L1288 534.1L1276.2 550.9L1259.7 571.5L1240 585.1L1232.7 582.7L1224.8 586.7L1216.9 587.5L1217.6 599.3L1207 607.1L1203.7 608.7L1203.1 613.3L1210.3 622.5L1216.2 633.9L1216.2 640.7L1213.6 644.4L1203.7 648.1L1195.8 647.4L1197.2 637.7L1197.8 626.3L1188.6 624L1187.3 616.4L1182.7 607.9L1173.4 610.2L1162.9 616.4L1165.5 612.5L1167.5 603.2L1168.8 600.9L1160.9 600.9L1151.1 607.9L1139.9 614.9L1142.5 622.5L1147.8 624.8L1151.1 629.4L1157.6 626.3L1163.6 626.3L1170.8 627.9L1167.5 630.9L1156.3 637.7L1150.4 645.2L1151.1 648.1L1157 660L1160.9 665.8L1166.9 670.9L1166.9 675.3L1160.9 679.6L1167.5 682.5L1166.2 690.4L1160.3 696.8L1154.3 705.4L1151.7 710.3L1141.8 720.8L1132.6 729.2L1116.2 736.1L1111.5 737.5L1101.7 740.3L1091.1 743.7L1089.8 749.9L1087.2 741.6L1082.6 741.6L1075.3 741L1067.4 746.5L1062.2 752.6L1060.8 760.8L1066.1 769L1072.7 775.8L1076.6 778.5L1081.9 789.3L1083.2 794L1083.9 802.7L1083.2 806.7L1080.6 811.3L1069.4 817.3L1066.1 822L1056.9 828L1054.3 828.6L1055.6 820.7L1054.3 816L1045.7 815.3L1042.4 809.3L1035.8 804L1028.6 796.6L1025.9 796L1022 797.3L1022 802.7L1018 816L1018 824.6L1022.6 830L1026.6 837.9L1037.1 845.2L1043.1 850.5L1044.4 860.4L1049 868.9L1049 876.8L1045.7 876.8L1037.8 870.9L1031.9 865.6L1025.9 855.7L1024.6 849.8L1024 843.2L1022 840.6L1015.4 831.9L1011.5 832.6L1011.5 826L1013.4 819.3L1012.8 806L1013.4 803.3L1009.5 792.6L1006.8 775.8L1001.6 773.7L997.6 774.4L991 780.5L985.1 779.2L986.4 769L980.5 758.8L975.9 751.3L971.9 745.1L968.7 736.1L963.4 734.7L956.8 738.9L950.2 740.3L943.6 740.3L937 741.6L933.8 748.5L929.1 753.3L923.2 756.7L912.7 767.6L906.1 775.1L897.5 780.5L892.3 783.9L892.9 798.6L889.6 806.7L889.6 817.3L885.7 824L878.4 827.3L874.5 831.9L870.5 829.3L866.6 819.3L863.3 810.7L856.7 800L853.4 789.3L850.1 782.5L846.8 772.4L843.5 758.8L843.5 749.2L842.9 743.7L841.6 736.8L838.9 743.7L831.7 747.1L827.7 745.8L822.5 741L818.5 736.1L825.1 732L818.5 732L815.2 727.8L805.3 718.7L802.1 714.5L789.5 715.9L774.4 716.6L763.2 715.2L744.8 713.1L734.9 701.8L723 706.1L713.2 703.2L703.3 696.8L698.7 689.7L694.7 681.8L683.5 682.5L680.2 686.1L683.5 696.1L691.4 703.2L694.7 708.9L698.7 718.7L703.9 715.2L702 709.6L700 720.1L709.9 722.9L722.4 720.8L728.3 715.2L732.9 711.7L735.5 708.2L734.9 717.3L739.5 724.3L750 727.1L757.9 734.7L751.3 748.5L744.8 758.8L738.2 762.2L729.6 767L719.7 772.4L707.9 780.5L693.4 785.9L687.5 789.3L676.9 795.3L660.5 800.7L649.9 801.3L648.6 797.3L646.6 787.2L644.7 775.8L644 773.1L634.1 758.8L622.3 741.6L617.7 727.8L615 723.6L609.1 713.8L604.5 706.8L597.9 696.1L594 686.1L591.3 692.6L590 696.8L585.4 694L578.8 682.5L579.5 685.4L581.5 692.6L586.7 701.8L587.4 705.4L591.3 713.8L594 717.3L598.6 725L604.5 738.2L609.1 754.7L609.8 758.1L617.7 765.6L624.3 781.8L630.8 787.9L637.4 794L645.3 799.3L648.6 808.7L645.3 808.7L650.6 810.3L660.5 816.3L673.6 812L688.1 810.7L702 807.3L702.6 816.7L698.7 826L692.1 832.6L683.5 850.5L673.6 862.3L662.5 872.2L650.6 882.1L644 888L633.5 900.5L628.2 906.5L625.6 912.1L621.6 919L622.9 930.2L624.3 938.2L624.3 944.2L628.9 953.5L630.8 971.5L632.2 981.5L627.5 993L607.8 1004.5L602.5 1010.6L593.3 1018.2L596.6 1027.8L597.9 1045.1L585.4 1054.2L578.8 1060.5L580.8 1066.2L575.5 1080.4L568.3 1088.3L561.7 1098.4L547.9 1110.8L533.4 1118.2L522.2 1119L509.7 1119.7L495.9 1124.2L486 1120.8L485.3 1117.5L482 1110.8L484 1105L478.1 1092.6L472.8 1078.9L463.6 1064.7L459.6 1050L459.6 1038.8L453.7 1025.7L443.2 1008.6L441.9 1000.4L443.8 986.3L446.5 974.8L452.4 968.8L455 958.1L451.1 943.5L449.1 933.6L445.1 925L441.9 917L436.6 911.1L434 907.8L426.7 898.6L421.4 890L426 882.8L428 872.9L429.3 866.3L427.4 859L422.1 856.4L418.8 855.7L410.2 856.4L403.7 857.1L397.1 849.1L392.5 843.9L386.5 843.2L380 843.5L372.1 845.2L362.8 848.8L350.3 854.1L337.8 850.5L327.9 852.4L314.1 856.4L303.6 851.1L293 843.9L283.2 836.6L277.2 829.3L273.9 822.7L265.4 814L261.4 806.7L254.2 803.3L254.8 796.6L253.5 792.6L248.9 787.9L253.5 783.9L255.5 779.2L258.8 764.9L255.5 755.4L257.5 750.6L251.9 746.5L256.2 734.7L259.4 726.4L266.7 717.3L268.7 709.6L279.2 696.8L291.7 691.9L297 686.1L300.9 678.9L299.6 670.9L303.2 665.1L308.2 658.1L314.1 655.5L319.4 652.6L323.3 645.2L326 639.2L329.2 638.4L329.2 640.7L333.9 643.7L338.5 643.7L345.1 643.7L352.3 644.4L360.2 639.2L367.4 636.2L374 633.9L383.9 631.6L397.7 632L409.6 630.9L415.5 630.9L423.4 630.1L429.3 627.9L432 631.3L436.6 629.7L434 634.7L434 639.2L437.2 641.4L435.3 647L430.7 653.3L435.9 654.8L439.9 658.5L446.5 661.4L451.1 660.7L458.3 662.9L464.2 664.7L468.2 671.7L473.5 673.1L482.7 677.5L486 679.6L493.2 678.2L495.9 674.6L496.5 666.6L502.4 661.4L513 661.4L522.2 666.6L530.1 670.6L543.3 672L551.8 674.6L561 673.1L564.3 670.9L573.6 670.9L576.8 672.8L581.5 673.8L586.7 673.8L590.7 670.9L593.3 666.6L594.6 661.4L597.9 653.3L599.9 649.6L599.9 641.4L600.6 636.2L602.5 633.2L597.9 633.2L592 631.6L584.7 636.2L580.1 637.3L574.9 633.9L566.3 630.9L564.3 635.4L558.4 636.2L555.8 633.2L549.8 631.6L544.6 630.1L543.3 624L542.6 619.5L537.3 620.2L540.6 614.9L540 612.5L536 611L536.7 607.1L539.3 604L545.2 604L555.1 604L561 601.3L555.8 597.8L559.1 597.8L568.3 598.5L573.6 595.8L581.5 592.2L595.3 591.5L603.2 597L611.1 598.5L625.6 599.3L638.1 594.6L638.7 589.9L634.1 583.5L625.6 578.7L613.1 569.8L609.8 568.2L605.2 564.9L614.4 559.2L617.7 553.4L622.3 549.3L614.4 550.9L611.1 550.9L606.5 553.4L597.9 555.9L594.6 560.9L597.3 565.8L604.5 564.5L597.3 567.4L589.4 571.5L584.7 570.6L584.7 565.8L578.2 564.1L584.7 560L574.9 558.4L571.6 554.3L566.3 555.1L559.7 565.8L552.8 573.9L547.9 581.9L545.2 587.5L548.5 594.6L555.1 597.8L554.5 599.3L548.5 599.3L545.2 599.7L540 604L536.7 606.3L535.4 602.5L534.7 600.5L524.8 600.1L521.5 605.6L515.6 604L514.9 602.5L513 604.8L514.3 611L515.3 612.2L517.6 614.9L521.5 620.2L520.2 622.9L516.9 624L516.3 627.1L515.6 633.9L512.3 634.7L507 631.6L506.4 624.8L507 620.6L503.8 620.2L500.5 615.6L501.1 614.9L497.2 611L492.6 603.6L492.2 597L491.9 592.2L487.3 588.3L483.3 586.3L472.1 579.5L464.2 574.7L459 564.9L453.7 568.2L454.7 562.1L445.1 564.1L446.5 568.2L446.8 575.1L453 578.7L457.7 587.9L470.8 592.2L475.4 598.5L482.4 602.1L485.3 608.7L482.7 606.7L477.4 603.6L472.8 609.5L476.8 614.9L470.2 623.3L467.2 621.8L468.2 617.9L469.5 611.8L466.9 606.3L461.6 602.1L458 600.7L453 597.8L447.1 595.8L444.8 593.4L441.2 590.7L433.3 583.9L432 579.1L429 574.7L423.1 572.3L416.8 576.3L411.9 577.9L403 582.7L399.4 581.1L394.4 580.3L389.8 579.5L384.6 583.5L384.2 586.7L385.9 589.1L378.6 596.2L372.4 598.5L369.7 601.7L364.1 607.5L362.2 611.4L365.5 616.8L360.9 619.8L357.6 625.6L349.7 632.4L348 631.3L335.2 632.4L331.9 633.9L328.9 636.5L327.3 637.7Z"/><path d="M688.8 964.8L696 988.3L690.1 998.4L680.2 1029.2L674.3 1052.8L661.8 1057L653.9 1052.1L651.3 1039.5L649.3 1029.2L656.5 1018.2L655.9 998.4L669 989.6L679.6 975.5L688.8 964.8Z"/><path d="M578.2 883.4L588 884.1L593.3 888.7L588 898.6L581.5 901.9L572.9 895.3L573.6 885.4L578.2 883.4Z"/><path d="M556.4 907.1L558.4 907.8L561.7 921.7L565 928.3L568.3 942.8L565.7 942.8L559.1 928.3L557.1 918.4L556.4 907.1Z"/><path d="M588 948.1L590.7 948.8L592.6 961.5L596.6 979.5L594.6 980.9L591.3 974.8L589.4 961.5L588 948.1Z"/><path d="M452.4 795.3L457.7 793.3L460.3 798L459 800.7L454.4 799.3L452.4 795.3Z"/></g></g><g fill="#000"><rect x="430" y="1128.5" width="32.9" height="4.6"/><rect x="462.9" y="681.8" width="32.9" height="4.6"/><rect x="495.9" y="1128.5" width="32.9" height="4.6"/><rect x="528.8" y="681.8" width="32.9" height="4.6"/><rect x="561.7" y="1128.5" width="32.9" height="4.6"/><rect x="594.6" y="681.8" width="32.9" height="4.6"/><rect x="627.5" y="1128.5" width="32.9" height="4.6"/><rect x="660.5" y="681.8" width="32.9" height="4.6"/><rect x="693.4" y="1128.5" width="32.9" height="4.6"/><rect x="726.3" y="681.8" width="32.9" height="4.6"/><rect x="754.6" y="681.8" width="4.6" height="21.4"/><rect x="430" y="703.2" width="4.6" height="21.1"/><rect x="754.6" y="724.3" width="4.6" height="41.3"/><rect x="430" y="765.6" width="4.6" height="40.4"/><rect x="754.6" y="806" width="4.6" height="39.8"/><rect x="430" y="845.8" width="4.6" height="39.6"/><rect x="754.6" y="885.4" width="4.6" height="39.6"/><rect x="430" y="925" width="4.6" height="39.8"/><rect x="754.6" y="964.8" width="4.6" height="40.4"/><rect x="430" y="1005.2" width="4.6" height="41.3"/><rect x="754.6" y="1046.5" width="4.6" height="42.5"/><rect x="430" y="1089" width="4.6" height="44.1"/></g><rect x="430" y="681.8" width="329.2" height="451.3" fill="none" stroke="#000" stroke-width="1.1"/><rect x="434.6" y="686.4" width="320" height="442.1" fill="none" stroke="#000" stroke-width="1.1"/><path d="M430 681.8L434.6 686.4M754.6 1128.5L759.2 1133.1" stroke="#000" stroke-width="1.1"/><text x="594.6" y="674.5" text-anchor="middle" font-size="14.2" font-weight="bold">1x1 NETPP</text><text x="462" y="741" font-size="52" font-weight="bold" letter-spacing="0.5">e)</text><text x="426" y="727.3" text-anchor="end" font-size="13.3">24°N</text><text x="426" y="809" text-anchor="end" font-size="13.3">12°N</text><text x="426" y="888.4" text-anchor="end" font-size="13.3">0°</text><text x="426" y="967.8" text-anchor="end" font-size="13.3">12°S</text><text x="426" y="1049.5" text-anchor="end" font-size="13.3">24°S</text><text x="426" y="1136.1" text-anchor="end" font-size="13.3">36°S</text><text x="431.5" y="1143.3" text-anchor="middle" font-size="12.9">10°E</text><text x="497.4" y="1143.3" text-anchor="middle" font-size="12.9">20°E</text><text x="563.2" y="1143.3" text-anchor="middle" font-size="12.9">30°E</text><text x="629" y="1143.3" text-anchor="middle" font-size="12.9">40°E</text><text x="694.9" y="1143.3" text-anchor="middle" font-size="12.9">50°E</text><text x="760.8" y="1143.3" text-anchor="middle" font-size="12.9">60°E</text><rect x="773.2" y="680.4" width="26.7" height="452.8" fill="url(#gpar)" stroke="#222" stroke-width="1"/><text x="806" y="684.4" font-size="11.2" fill="#222">900</text><path d="M795.9 733.7H799.9" stroke="#222" stroke-width="1"/><text x="806" y="737.7" font-size="11.2" fill="#222">800</text><path d="M795.9 786.9H799.9" stroke="#222" stroke-width="1"/><text x="806" y="790.9" font-size="11.2" fill="#222">700</text><path d="M795.9 840.2H799.9" stroke="#222" stroke-width="1"/><text x="806" y="844.2" font-size="11.2" fill="#222">600</text><path d="M795.9 893.5H799.9" stroke="#222" stroke-width="1"/><text x="806" y="897.5" font-size="11.2" fill="#222">500</text><path d="M795.9 946.8H799.9" stroke="#222" stroke-width="1"/><text x="806" y="950.8" font-size="11.2" fill="#222">400</text><path d="M795.9 1000H799.9" stroke="#222" stroke-width="1"/><text x="806" y="1004" font-size="11.2" fill="#222">300</text><path d="M795.9 1053.3H799.9" stroke="#222" stroke-width="1"/><text x="806" y="1057.3" font-size="11.2" fill="#222">200</text><path d="M795.9 1106.6H799.9" stroke="#222" stroke-width="1"/><text x="806" y="1110.6" font-size="11.2" fill="#222">100</text></g><g transform="translate(903.4 0)"><g clip-path="url(#clipD)"><g clip-path="url(#landD)"><g filter="url(#blurF)"><path d="M429.6 760L609.6 740L621.6 680L759.4 680L759.4 909.8L429.6 909.8Z" fill="#f5e71b"/><path d="M645.6 736L719.6 736L719.6 770L659.6 784L645.6 776Z" fill="#fcce2d"/><path d="M429.6 785L549.6 783L579.6 776L609.6 774L625.6 780L629.6 800L639.6 810L629.6 820L621.6 909.8L595.6 909.8L599.6 820L569.6 804L509.6 802L429.6 803Z" fill="#fabb42"/><path d="M429.6 798L569.6 798L595.6 804L599.6 830L589.6 909.8L429.6 909.8Z" fill="#a0be6d"/><path d="M429.6 808L559.6 810L575.6 788L605.6 792L603.6 840L589.6 909.8L429.6 909.8Z" fill="#4ebc91"/><path d="M429.6 816L513.6 820L549.6 820L573.6 796L599.6 796L595.6 840L581.6 909.8L429.6 909.8Z" fill="#14b0b5"/><path d="M429.6 823L509.6 827L549.6 827L577.6 804L595.6 804L589.6 850L569.6 909.8L429.6 909.8Z" fill="#079bd0"/><path d="M429.6 831L509.6 835L549.6 840L569.6 850L565.6 909.8L429.6 909.8Z" fill="#0661e0"/><path d="M429.6 840L469.6 842L499.6 854L549.6 860L553.6 880L541.6 909.8L429.6 909.8Z" fill="#352d8c"/><path d="M619.6 810L699.6 806L689.6 860L649.6 880L629.6 860Z" fill="#f5e71b"/><path d="M629.6 870L645.6 870L645.6 900L629.6 900Z" fill="#4ebc91"/><path d="M429.6 880L545 880L549.4 917.7L429.6 917.7Z" fill="#352d8c"/><path d="M429.6 917.7L545 913.3L562.8 902.2L624.9 913.3L629.3 991L596 1013.2L562.8 1035.3L518.4 1024.3L496.2 1002.1L451.8 979.9L429.6 968.8Z" fill="#079bd0"/><path d="M449.6 915.5L545 915.5L553.9 946.6L562.8 991L540.6 1013.2L507.3 1013.2L491.7 991L474 968.8L451.8 957.7Z" fill="#0661e0"/><path d="M573.9 880L629.3 880L624.9 957.7L584.9 957.7L573.9 924.4Z" fill="#4ebc91"/><path d="M593.8 886.7L618.2 886.7L618.2 924.4L598.3 924.4Z" fill="#fabb42"/><path d="M553.9 924.4L584.9 957.7L624.9 957.7L629.3 991L584.9 1013.2L553.9 991Z" fill="#079bd0"/><path d="M562.8 1013.2L598.3 1013.2L600.5 1068.6L573.9 1079.7L562.8 1057.5Z" fill="#0661e0"/><path d="M529.5 1013.2L562.8 1017.6L567.2 1075.3L553.9 1101.9L529.5 1079.7Z" fill="#14b0b5"/><path d="M529.5 1062L562.8 1062L562.8 1101.9L529.5 1113Z" fill="#4ebc91"/><path d="M485.1 984.3L562.8 1013.2L573.9 1079.7L553.9 1101.9L529.5 1101.9L507.3 1035.3Z" fill="#14b0b5"/><path d="M438.5 968.8L487.3 973.2L502.8 999.8L496.2 1022L438.5 1004.3Z" fill="#a0be6d"/><path d="M438.5 991L491.7 1004.3L505.1 1030.9L520.6 1057.5L533.9 1090.8L531.7 1115.2L491.7 1126.3L451.8 1057.5L438.5 1013.2Z" fill="#fabb42"/><path d="M454 1024.3L485.1 1039.8L498.4 1075.3L498.4 1119.7L482.9 1121.9L460.7 1079.7Z" fill="#f5e71b"/><path d="M525 1064.2L562.8 1062L562.8 1101.9L533.9 1113Z" fill="#4ebc91"/><path d="M649.3 964.3L700.4 964.3L695.9 1062L649.3 1062Z" fill="#4ebc91"/><path d="M664.8 986.5L687 986.5L687 1026.5L664.8 1026.5Z" fill="#e2b951"/></g><path d="M429.6 680L585.6 680L595.6 710L613.6 746L609.6 752.4L589.6 753.6L569.6 759.6L549.6 765.6L489.6 771L429.6 772.4Z" fill="#fff"/><path d="M627.6 680L675.6 680L675.6 720L649.6 725L627.6 727Z" fill="#fff"/></g><path d="M495.9 681.8V1133.1M561.7 681.8V1133.1M627.5 681.8V1133.1M693.4 681.8V1133.1M430 724.3H759.2M430 806H759.2M430 885.4H759.2M430 964.8H759.2M430 1046.5H759.2" stroke="#000" stroke-opacity="0.26" stroke-width="1.1" fill="none"/><g fill="none" stroke="#2c2cae" stroke-width="1.8" stroke-linejoin="round"><path d="M327.3 637.7L322.7 633.9L318.1 628.6L312.1 630.1L305.5 630.1L306.2 622.5L303.6 619.5L301.6 616.4L302.3 611.8L305.5 605.6L306.9 597.8L305.5 589.9L302.9 584.3L308.8 580.3L312.1 577.1L318.1 578.7L326.6 578.7L339.1 579.5L345.1 580.3L351 581.1L354.3 579.5L356.2 570.6L356.9 562.5L356.2 557.6L352.3 555.1L349.7 548.4L343.7 546.8L335.8 544.3L332.5 539.2L337.8 536.7L344.4 535.8L351 537.5L353.6 535.8L351.6 528.2L355.6 528.2L362.2 531.6L364.8 529.9L371.4 526.5L374.7 519.6L376.3 517.4L380 516.5L383.2 515.2L387.9 513.5L391.1 508.6L392.5 507.3L395.4 499.8L400.4 495.8L408.9 495.8L411.6 496.7L417.5 494L421.4 491.3L422.8 487.6L420.8 482.2L419.5 476.7L417.5 475.7L417.5 471.1L418.1 465.5L420.8 461.8L429.3 458L434 455.6L433.3 458.9L432 463.6L435.9 468.3L432 470.2L430 474.8L426.7 476.7L429.3 481.3L426.7 483.1L431.3 486.7L435.9 490.8L439.9 490.4L443.8 488.5L450.4 487.6L452.4 484.9L456.3 490.4L459.6 491.3L466.9 488.5L475.4 484.9L480 483.1L487.9 484.9L487.3 486.7L493.2 485.8L495.9 484L503.1 474.8L502.4 467.4L506.4 458.9L513 455.6L518.9 461.8L522.8 462.7L524.8 456.1L525.5 449.4L518.9 447.5L520.2 441.7L526.8 439.7L538.7 437.8L548.5 438.7L555.1 434.8L563.7 434.8L558.4 431.9L553.1 426.9L541.3 428.9L528.8 432.4L515.6 435.3L510.3 429.9L505.1 425.9L505.7 418.9L503.8 410.8L506.4 402.6L512.3 395.3L520.2 390L531.4 382.6L530.1 376.1L523.5 374L509.7 376.1L505.1 381.5L502.4 385.8L497.8 395.3L489.3 399.4L482 407.7L478.1 409.8L478.7 418.9L476.8 426.9L485.3 430.9L488.6 437.8L482.7 443.6L476.1 446.5L473.5 455.1L472.1 465.5L466.9 470.7L458.3 473L455 477.6L449.1 477.6L449.8 475.7L447.8 472L448.8 465.5L442.5 456.1L437.9 444.6L434 435.8L432.6 440.7L430 443.6L423.4 447.5L416.8 452.3L410.2 453.2L403.7 448.4L401 443.6L399.1 429.9L397.1 417.9L405 408.7L414.9 402.6L423.4 395.3L433.3 387.9L443.2 377.2L451.1 368.5L459 357.4L466.2 349.6L469.5 342.8L479.4 335.8L489.3 330L502.4 324.1L509 323L520.2 318.2L534 313.4L548.5 314.6L558.4 319.4L568.9 321.8L561.7 330L581.5 333.5L601.2 338.2L617.7 346.2L627.5 351.8L635.5 358.6L630.8 367.4L614.4 370.7L594.6 368.5L584.7 364.1L578.2 359.7L584.7 369.6L593.3 387.9L601.2 393.2L611.1 395.3L615.7 386.8L630.8 387.9L626.2 377.2L640.7 367.4L653.9 371.8L655.2 358.6L650.6 343.9L660.5 343.9L667.1 351.8L680.2 355.2L693.4 350.7L713.2 343.9L719.7 347.3L732.9 343.9L746.1 340.5L759.2 332.4L769.1 330L779 332.4L792.2 335.8L798.8 339.3L805.3 332.4L811.9 314.6L821.8 290L831.7 287.5L838.3 292.5L841.6 314.6L841.6 326.5L840.2 343.9L841.6 366.3L851.4 360.8L858 355.2L854.7 338.2L848.1 308.6L864.6 296.3L884.4 298.7L894.2 302.4L904.1 320.6L910.7 308.6L897.5 283.7L930.5 277.3L940.3 257.7L1022.6 208.9L1088.5 244.2L1101.7 283.7L1114.8 283.7L1147.8 290L1174.1 281.1L1193.9 283.7L1207 292.5L1213.6 296.3L1223.5 314.6L1236.7 308.6L1259.7 308.6L1286 296.3L1325.6 296.3L1325.6 443.6L1292.6 443.6L1274.2 467.4L1266.3 485.8L1253.1 484.9L1269.6 494L1282.8 490.4L1292.6 499.3L1291.3 512.6L1288 534.1L1276.2 550.9L1259.7 571.5L1240 585.1L1232.7 582.7L1224.8 586.7L1216.9 587.5L1217.6 599.3L1207 607.1L1203.7 608.7L1203.1 613.3L1210.3 622.5L1216.2 633.9L1216.2 640.7L1213.6 644.4L1203.7 648.1L1195.8 647.4L1197.2 637.7L1197.8 626.3L1188.6 624L1187.3 616.4L1182.7 607.9L1173.4 610.2L1162.9 616.4L1165.5 612.5L1167.5 603.2L1168.8 600.9L1160.9 600.9L1151.1 607.9L1139.9 614.9L1142.5 622.5L1147.8 624.8L1151.1 629.4L1157.6 626.3L1163.6 626.3L1170.8 627.9L1167.5 630.9L1156.3 637.7L1150.4 645.2L1151.1 648.1L1157 660L1160.9 665.8L1166.9 670.9L1166.9 675.3L1160.9 679.6L1167.5 682.5L1166.2 690.4L1160.3 696.8L1154.3 705.4L1151.7 710.3L1141.8 720.8L1132.6 729.2L1116.2 736.1L1111.5 737.5L1101.7 740.3L1091.1 743.7L1089.8 749.9L1087.2 741.6L1082.6 741.6L1075.3 741L1067.4 746.5L1062.2 752.6L1060.8 760.8L1066.1 769L1072.7 775.8L1076.6 778.5L1081.9 789.3L1083.2 794L1083.9 802.7L1083.2 806.7L1080.6 811.3L1069.4 817.3L1066.1 822L1056.9 828L1054.3 828.6L1055.6 820.7L1054.3 816L1045.7 815.3L1042.4 809.3L1035.8 804L1028.6 796.6L1025.9 796L1022 797.3L1022 802.7L1018 816L1018 824.6L1022.6 830L1026.6 837.9L1037.1 845.2L1043.1 850.5L1044.4 860.4L1049 868.9L1049 876.8L1045.7 876.8L1037.8 870.9L1031.9 865.6L1025.9 855.7L1024.6 849.8L1024 843.2L1022 840.6L1015.4 831.9L1011.5 832.6L1011.5 826L1013.4 819.3L1012.8 806L1013.4 803.3L1009.5 792.6L1006.8 775.8L1001.6 773.7L997.6 774.4L991 780.5L985.1 779.2L986.4 769L980.5 758.8L975.9 751.3L971.9 745.1L968.7 736.1L963.4 734.7L956.8 738.9L950.2 740.3L943.6 740.3L937 741.6L933.8 748.5L929.1 753.3L923.2 756.7L912.7 767.6L906.1 775.1L897.5 780.5L892.3 783.9L892.9 798.6L889.6 806.7L889.6 817.3L885.7 824L878.4 827.3L874.5 831.9L870.5 829.3L866.6 819.3L863.3 810.7L856.7 800L853.4 789.3L850.1 782.5L846.8 772.4L843.5 758.8L843.5 749.2L842.9 743.7L841.6 736.8L838.9 743.7L831.7 747.1L827.7 745.8L822.5 741L818.5 736.1L825.1 732L818.5 732L815.2 727.8L805.3 718.7L802.1 714.5L789.5 715.9L774.4 716.6L763.2 715.2L744.8 713.1L734.9 701.8L723 706.1L713.2 703.2L703.3 696.8L698.7 689.7L694.7 681.8L683.5 682.5L680.2 686.1L683.5 696.1L691.4 703.2L694.7 708.9L698.7 718.7L703.9 715.2L702 709.6L700 720.1L709.9 722.9L722.4 720.8L728.3 715.2L732.9 711.7L735.5 708.2L734.9 717.3L739.5 724.3L750 727.1L757.9 734.7L751.3 748.5L744.8 758.8L738.2 762.2L729.6 767L719.7 772.4L707.9 780.5L693.4 785.9L687.5 789.3L676.9 795.3L660.5 800.7L649.9 801.3L648.6 797.3L646.6 787.2L644.7 775.8L644 773.1L634.1 758.8L622.3 741.6L617.7 727.8L615 723.6L609.1 713.8L604.5 706.8L597.9 696.1L594 686.1L591.3 692.6L590 696.8L585.4 694L578.8 682.5L579.5 685.4L581.5 692.6L586.7 701.8L587.4 705.4L591.3 713.8L594 717.3L598.6 725L604.5 738.2L609.1 754.7L609.8 758.1L617.7 765.6L624.3 781.8L630.8 787.9L637.4 794L645.3 799.3L648.6 808.7L645.3 808.7L650.6 810.3L660.5 816.3L673.6 812L688.1 810.7L702 807.3L702.6 816.7L698.7 826L692.1 832.6L683.5 850.5L673.6 862.3L662.5 872.2L650.6 882.1L644 888L633.5 900.5L628.2 906.5L625.6 912.1L621.6 919L622.9 930.2L624.3 938.2L624.3 944.2L628.9 953.5L630.8 971.5L632.2 981.5L627.5 993L607.8 1004.5L602.5 1010.6L593.3 1018.2L596.6 1027.8L597.9 1045.1L585.4 1054.2L578.8 1060.5L580.8 1066.2L575.5 1080.4L568.3 1088.3L561.7 1098.4L547.9 1110.8L533.4 1118.2L522.2 1119L509.7 1119.7L495.9 1124.2L486 1120.8L485.3 1117.5L482 1110.8L484 1105L478.1 1092.6L472.8 1078.9L463.6 1064.7L459.6 1050L459.6 1038.8L453.7 1025.7L443.2 1008.6L441.9 1000.4L443.8 986.3L446.5 974.8L452.4 968.8L455 958.1L451.1 943.5L449.1 933.6L445.1 925L441.9 917L436.6 911.1L434 907.8L426.7 898.6L421.4 890L426 882.8L428 872.9L429.3 866.3L427.4 859L422.1 856.4L418.8 855.7L410.2 856.4L403.7 857.1L397.1 849.1L392.5 843.9L386.5 843.2L380 843.5L372.1 845.2L362.8 848.8L350.3 854.1L337.8 850.5L327.9 852.4L314.1 856.4L303.6 851.1L293 843.9L283.2 836.6L277.2 829.3L273.9 822.7L265.4 814L261.4 806.7L254.2 803.3L254.8 796.6L253.5 792.6L248.9 787.9L253.5 783.9L255.5 779.2L258.8 764.9L255.5 755.4L257.5 750.6L251.9 746.5L256.2 734.7L259.4 726.4L266.7 717.3L268.7 709.6L279.2 696.8L291.7 691.9L297 686.1L300.9 678.9L299.6 670.9L303.2 665.1L308.2 658.1L314.1 655.5L319.4 652.6L323.3 645.2L326 639.2L329.2 638.4L329.2 640.7L333.9 643.7L338.5 643.7L345.1 643.7L352.3 644.4L360.2 639.2L367.4 636.2L374 633.9L383.9 631.6L397.7 632L409.6 630.9L415.5 630.9L423.4 630.1L429.3 627.9L432 631.3L436.6 629.7L434 634.7L434 639.2L437.2 641.4L435.3 647L430.7 653.3L435.9 654.8L439.9 658.5L446.5 661.4L451.1 660.7L458.3 662.9L464.2 664.7L468.2 671.7L473.5 673.1L482.7 677.5L486 679.6L493.2 678.2L495.9 674.6L496.5 666.6L502.4 661.4L513 661.4L522.2 666.6L530.1 670.6L543.3 672L551.8 674.6L561 673.1L564.3 670.9L573.6 670.9L576.8 672.8L581.5 673.8L586.7 673.8L590.7 670.9L593.3 666.6L594.6 661.4L597.9 653.3L599.9 649.6L599.9 641.4L600.6 636.2L602.5 633.2L597.9 633.2L592 631.6L584.7 636.2L580.1 637.3L574.9 633.9L566.3 630.9L564.3 635.4L558.4 636.2L555.8 633.2L549.8 631.6L544.6 630.1L543.3 624L542.6 619.5L537.3 620.2L540.6 614.9L540 612.5L536 611L536.7 607.1L539.3 604L545.2 604L555.1 604L561 601.3L555.8 597.8L559.1 597.8L568.3 598.5L573.6 595.8L581.5 592.2L595.3 591.5L603.2 597L611.1 598.5L625.6 599.3L638.1 594.6L638.7 589.9L634.1 583.5L625.6 578.7L613.1 569.8L609.8 568.2L605.2 564.9L614.4 559.2L617.7 553.4L622.3 549.3L614.4 550.9L611.1 550.9L606.5 553.4L597.9 555.9L594.6 560.9L597.3 565.8L604.5 564.5L597.3 567.4L589.4 571.5L584.7 570.6L584.7 565.8L578.2 564.1L584.7 560L574.9 558.4L571.6 554.3L566.3 555.1L559.7 565.8L552.8 573.9L547.9 581.9L545.2 587.5L548.5 594.6L555.1 597.8L554.5 599.3L548.5 599.3L545.2 599.7L540 604L536.7 606.3L535.4 602.5L534.7 600.5L524.8 600.1L521.5 605.6L515.6 604L514.9 602.5L513 604.8L514.3 611L515.3 612.2L517.6 614.9L521.5 620.2L520.2 622.9L516.9 624L516.3 627.1L515.6 633.9L512.3 634.7L507 631.6L506.4 624.8L507 620.6L503.8 620.2L500.5 615.6L501.1 614.9L497.2 611L492.6 603.6L492.2 597L491.9 592.2L487.3 588.3L483.3 586.3L472.1 579.5L464.2 574.7L459 564.9L453.7 568.2L454.7 562.1L445.1 564.1L446.5 568.2L446.8 575.1L453 578.7L457.7 587.9L470.8 592.2L475.4 598.5L482.4 602.1L485.3 608.7L482.7 606.7L477.4 603.6L472.8 609.5L476.8 614.9L470.2 623.3L467.2 621.8L468.2 617.9L469.5 611.8L466.9 606.3L461.6 602.1L458 600.7L453 597.8L447.1 595.8L444.8 593.4L441.2 590.7L433.3 583.9L432 579.1L429 574.7L423.1 572.3L416.8 576.3L411.9 577.9L403 582.7L399.4 581.1L394.4 580.3L389.8 579.5L384.6 583.5L384.2 586.7L385.9 589.1L378.6 596.2L372.4 598.5L369.7 601.7L364.1 607.5L362.2 611.4L365.5 616.8L360.9 619.8L357.6 625.6L349.7 632.4L348 631.3L335.2 632.4L331.9 633.9L328.9 636.5L327.3 637.7Z"/><path d="M688.8 964.8L696 988.3L690.1 998.4L680.2 1029.2L674.3 1052.8L661.8 1057L653.9 1052.1L651.3 1039.5L649.3 1029.2L656.5 1018.2L655.9 998.4L669 989.6L679.6 975.5L688.8 964.8Z"/><path d="M578.2 883.4L588 884.1L593.3 888.7L588 898.6L581.5 901.9L572.9 895.3L573.6 885.4L578.2 883.4Z"/><path d="M556.4 907.1L558.4 907.8L561.7 921.7L565 928.3L568.3 942.8L565.7 942.8L559.1 928.3L557.1 918.4L556.4 907.1Z"/><path d="M588 948.1L590.7 948.8L592.6 961.5L596.6 979.5L594.6 980.9L591.3 974.8L589.4 961.5L588 948.1Z"/><path d="M452.4 795.3L457.7 793.3L460.3 798L459 800.7L454.4 799.3L452.4 795.3Z"/></g></g><g fill="#000"><rect x="430" y="1128.5" width="32.9" height="4.6"/><rect x="462.9" y="681.8" width="32.9" height="4.6"/><rect x="495.9" y="1128.5" width="32.9" height="4.6"/><rect x="528.8" y="681.8" width="32.9" height="4.6"/><rect x="561.7" y="1128.5" width="32.9" height="4.6"/><rect x="594.6" y="681.8" width="32.9" height="4.6"/><rect x="627.5" y="1128.5" width="32.9" height="4.6"/><rect x="660.5" y="681.8" width="32.9" height="4.6"/><rect x="693.4" y="1128.5" width="32.9" height="4.6"/><rect x="726.3" y="681.8" width="32.9" height="4.6"/><rect x="754.6" y="681.8" width="4.6" height="21.4"/><rect x="430" y="703.2" width="4.6" height="21.1"/><rect x="754.6" y="724.3" width="4.6" height="41.3"/><rect x="430" y="765.6" width="4.6" height="40.4"/><rect x="754.6" y="806" width="4.6" height="39.8"/><rect x="430" y="845.8" width="4.6" height="39.6"/><rect x="754.6" y="885.4" width="4.6" height="39.6"/><rect x="430" y="925" width="4.6" height="39.8"/><rect x="754.6" y="964.8" width="4.6" height="40.4"/><rect x="430" y="1005.2" width="4.6" height="41.3"/><rect x="754.6" y="1046.5" width="4.6" height="42.5"/><rect x="430" y="1089" width="4.6" height="44.1"/></g><rect x="430" y="681.8" width="329.2" height="451.3" fill="none" stroke="#000" stroke-width="1.1"/><rect x="434.6" y="686.4" width="320" height="442.1" fill="none" stroke="#000" stroke-width="1.1"/><path d="M430 681.8L434.6 686.4M754.6 1128.5L759.2 1133.1" stroke="#000" stroke-width="1.1"/><text x="594.6" y="674.5" text-anchor="middle" font-size="14.2" font-weight="bold">0.25x0.25 NETPP</text><text x="472" y="741" font-size="52" font-weight="bold" letter-spacing="0.5">f)</text><text x="426" y="727.3" text-anchor="end" font-size="13.3">24°N</text><text x="426" y="809" text-anchor="end" font-size="13.3">12°N</text><text x="426" y="888.4" text-anchor="end" font-size="13.3">0°</text><text x="426" y="967.8" text-anchor="end" font-size="13.3">12°S</text><text x="426" y="1049.5" text-anchor="end" font-size="13.3">24°S</text><text x="426" y="1136.1" text-anchor="end" font-size="13.3">36°S</text><text x="431.5" y="1143.3" text-anchor="middle" font-size="12.9">10°E</text><text x="497.4" y="1143.3" text-anchor="middle" font-size="12.9">20°E</text><text x="563.2" y="1143.3" text-anchor="middle" font-size="12.9">30°E</text><text x="629" y="1143.3" text-anchor="middle" font-size="12.9">40°E</text><text x="694.9" y="1143.3" text-anchor="middle" font-size="12.9">50°E</text><text x="760.8" y="1143.3" text-anchor="middle" font-size="12.9">60°E</text><rect x="773.2" y="680.4" width="26.7" height="452.8" fill="url(#gpar)" stroke="#222" stroke-width="1"/><text x="806" y="684.4" font-size="11.2" fill="#222">900</text><path d="M795.9 733.7H799.9" stroke="#222" stroke-width="1"/><text x="806" y="737.7" font-size="11.2" fill="#222">800</text><path d="M795.9 786.9H799.9" stroke="#222" stroke-width="1"/><text x="806" y="790.9" font-size="11.2" fill="#222">700</text><path d="M795.9 840.2H799.9" stroke="#222" stroke-width="1"/><text x="806" y="844.2" font-size="11.2" fill="#222">600</text><path d="M795.9 893.5H799.9" stroke="#222" stroke-width="1"/><text x="806" y="897.5" font-size="11.2" fill="#222">500</text><path d="M795.9 946.8H799.9" stroke="#222" stroke-width="1"/><text x="806" y="950.8" font-size="11.2" fill="#222">400</text><path d="M795.9 1000H799.9" stroke="#222" stroke-width="1"/><text x="806" y="1004" font-size="11.2" fill="#222">300</text><path d="M795.9 1053.3H799.9" stroke="#222" stroke-width="1"/><text x="806" y="1057.3" font-size="11.2" fill="#222">200</text><path d="M795.9 1106.6H799.9" stroke="#222" stroke-width="1"/><text x="806" y="1110.6" font-size="11.2" fill="#222">100</text></g></svg></body></html>
